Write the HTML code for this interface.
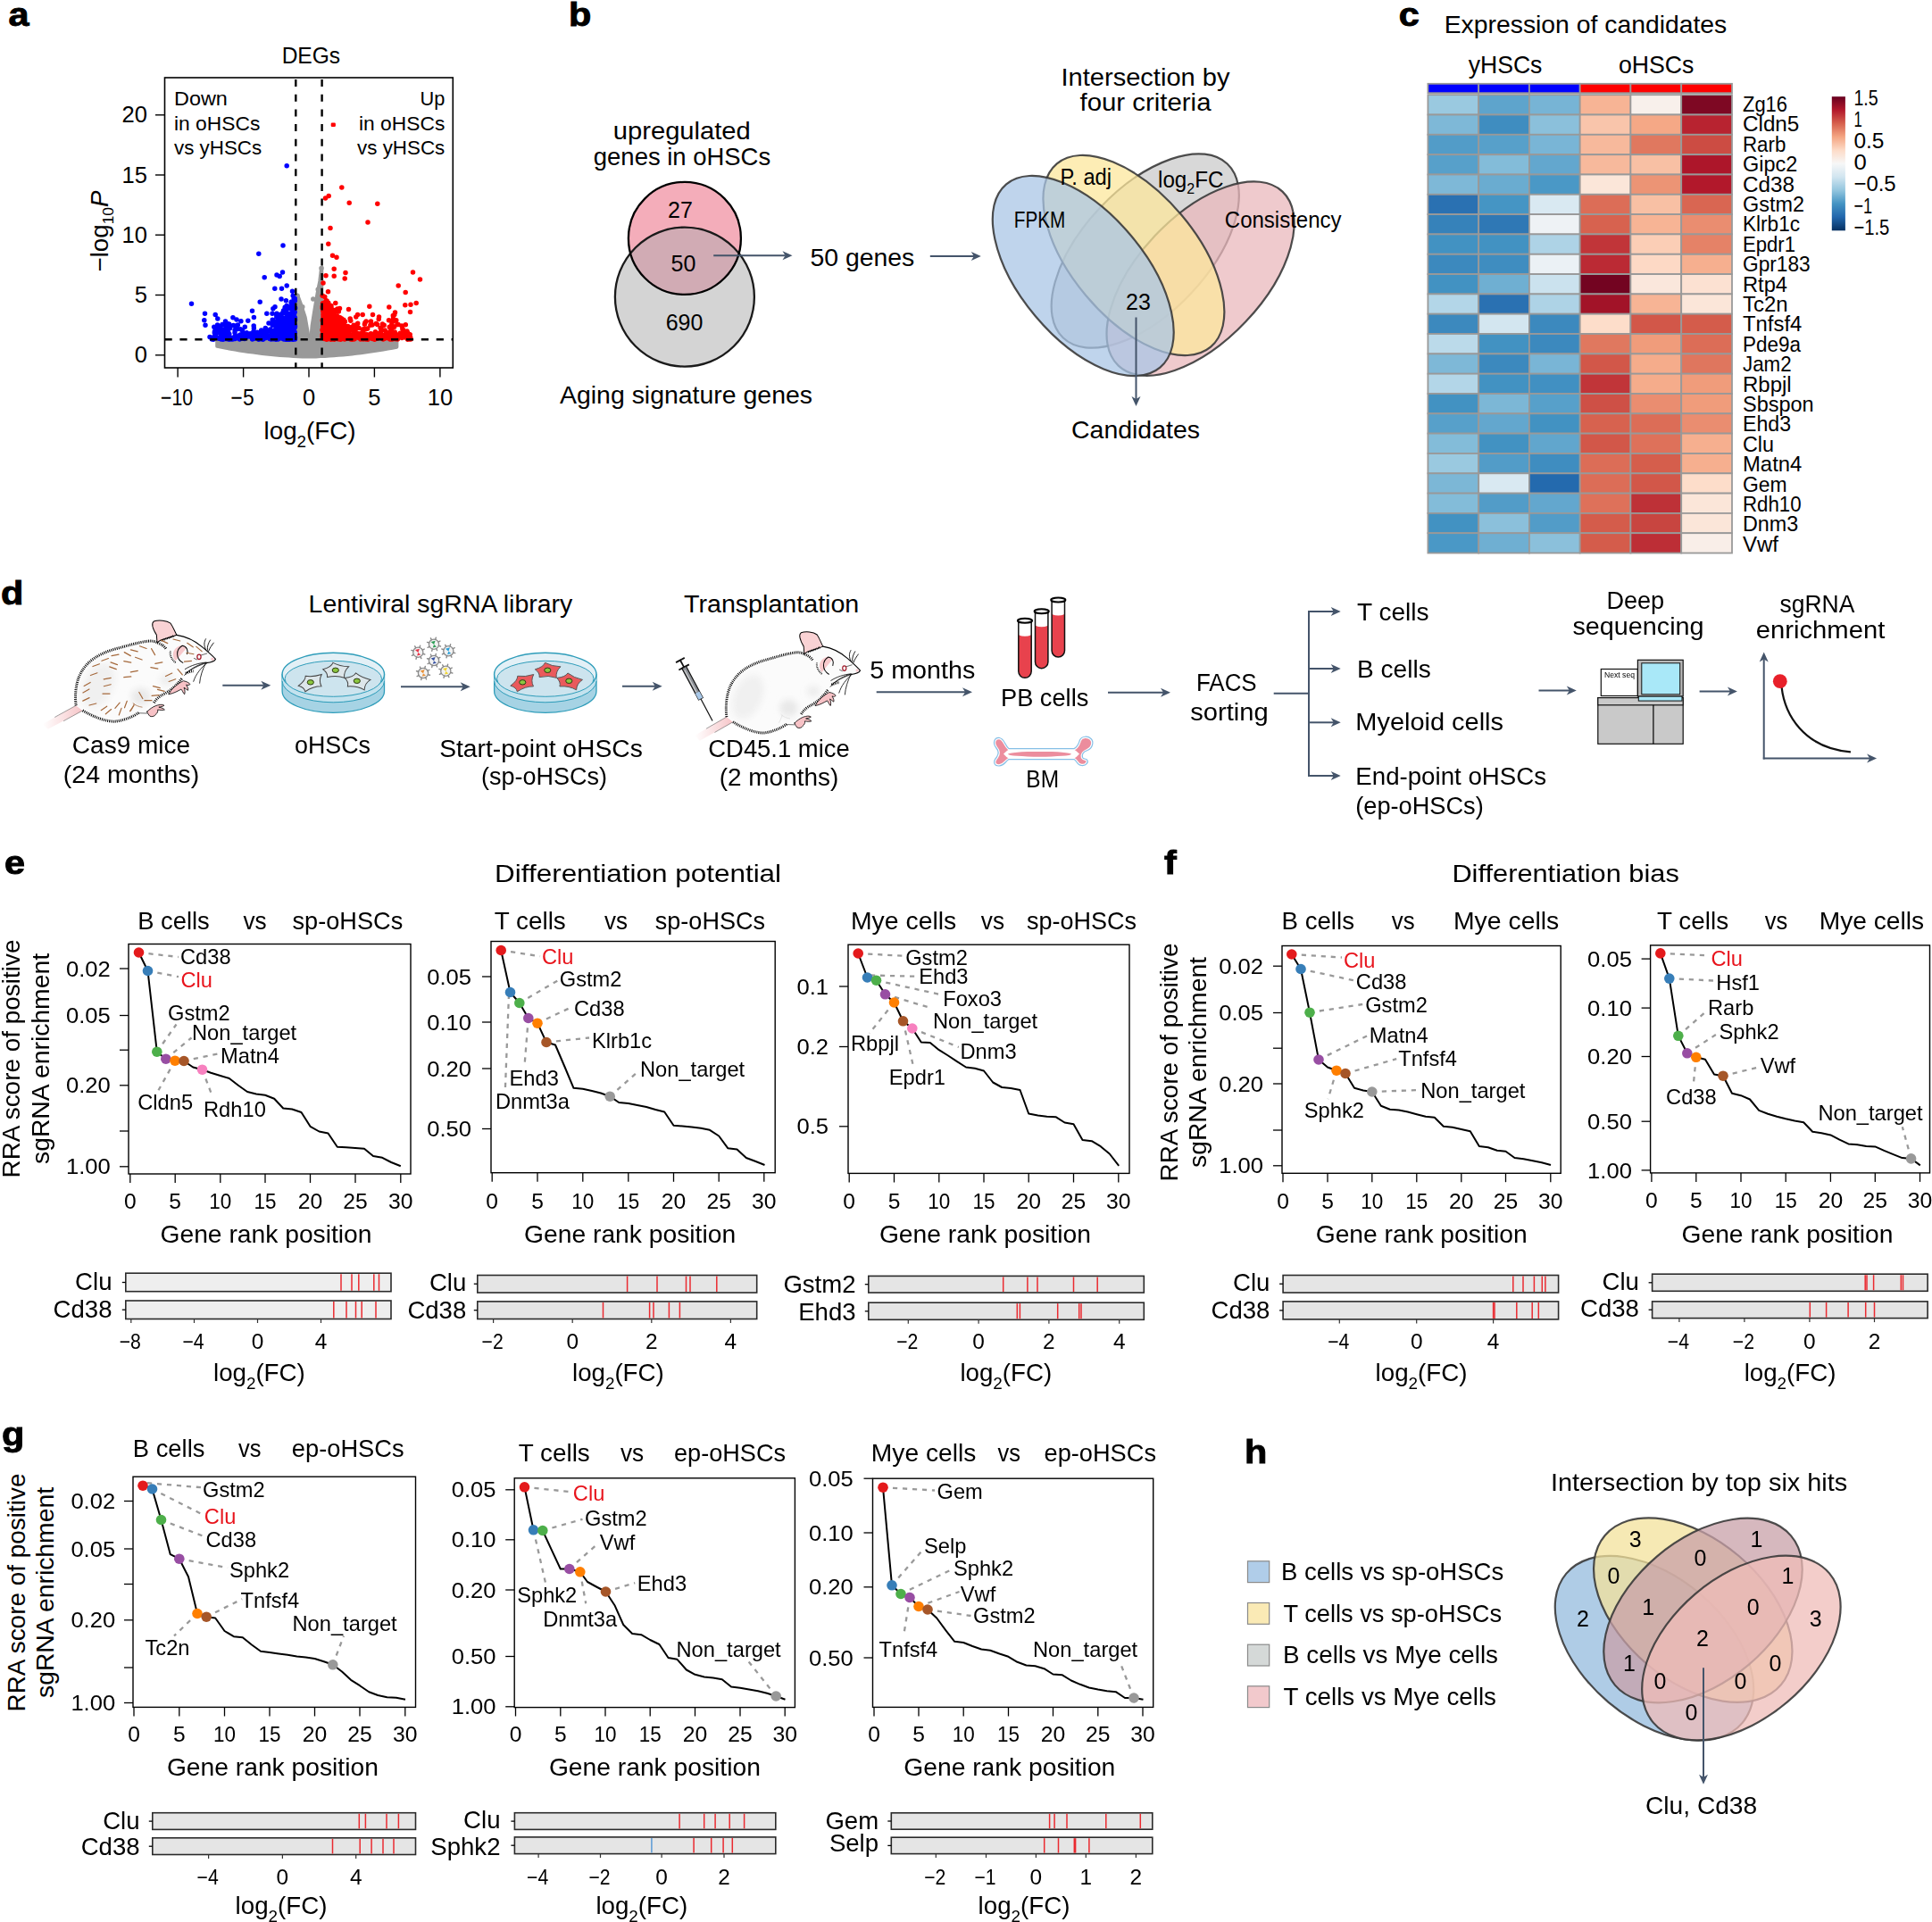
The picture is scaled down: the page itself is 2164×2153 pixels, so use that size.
<!DOCTYPE html>
<html><head><meta charset="utf-8"><title>Figure</title>
<style>html,body{margin:0;padding:0;background:#fff}svg{display:block}text{font-family:"Liberation Sans",sans-serif;fill:#000}</style></head>
<body>
<svg width="2164" height="2153" viewBox="0 0 2164 2153">
<rect width="2164" height="2153" fill="#fff"/>
<g id="panel_a">
<text x="9.5" y="29.0" font-size="36" textLength="23.0" lengthAdjust="spacingAndGlyphs" font-weight="bold" stroke="#000" stroke-width="0.9">a</text>
<text x="348.4" y="70.5" font-size="26.7" textLength="65.5" lengthAdjust="spacingAndGlyphs" text-anchor="middle">DEGs</text>
<path d="M243.2 380.0L248.2 380.0L253.2 380.0L258.3 380.0L263.3 380.0L268.3 380.0L273.4 380.0L278.4 380.0L283.4 380.0L288.5 380.0L293.5 380.0L298.5 380.0L303.5 380.0L308.6 380.0L313.6 380.0L318.6 380.0L323.7 380.0L328.7 380.0L333.7 380.0L338.8 380.0L343.8 380.0L348.8 380.0L353.9 380.0L358.9 380.0L363.9 380.0L369.0 380.0L374.0 380.0L379.0 380.0L384.0 380.0L389.1 380.0L394.1 380.0L399.1 380.0L404.2 380.0L409.2 380.0L414.2 380.0L419.3 380.0L424.3 380.0L429.3 380.0L434.4 380.0L439.4 380.0L444.4 380.0L444.4 388.8L439.4 389.7L434.4 390.6L429.3 391.5L424.3 392.3L419.3 393.1L414.2 393.8L409.2 394.5L404.2 395.2L399.1 395.8L394.1 396.4L389.1 396.9L384.0 397.4L379.0 397.8L374.0 398.2L369.0 398.6L363.9 398.9L358.9 399.1L353.9 399.4L348.8 399.5L343.8 399.6L338.8 399.4L333.7 399.2L328.7 398.9L323.7 398.6L318.6 398.3L313.6 397.9L308.6 397.4L303.5 397.0L298.5 396.4L293.5 395.9L288.5 395.3L283.4 394.6L278.4 393.9L273.4 393.2L268.3 392.4L263.3 391.6L258.3 390.7L253.2 389.8L248.2 388.9L243.2 387.9Z" fill="#999" stroke="#999" stroke-width="4" stroke-linejoin="round"/>
<path d="M331.2 380.5L331.2 331.2L333.8 330.0L337.5 340.0L342.5 355.5L345.5 372.5L346.5 380.5Z" fill="#999" stroke="#999" stroke-width="2.5" stroke-linejoin="round"/>
<path d="M347.5 380.5L348.8 365.0L352.0 345.0L355.0 327.5L357.5 315.0L359.2 301.2L361.0 298.8L361.0 380.5Z" fill="#999" stroke="#999" stroke-width="2.5" stroke-linejoin="round"/>
<path d="M350.8 335.0h0M356.2 324.2h0M360.0 300.5h0M333.0 331.2h0M335.0 343.8h0M338.8 343.8h0" stroke="#999" stroke-width="5.5" stroke-linecap="round" fill="none"/>
<path d="M327.4 359.0h0M324.2 378.7h0M319.0 379.1h0M327.9 366.0h0M317.6 378.8h0M327.5 378.3h0M309.8 377.6h0M319.9 375.2h0M309.5 362.9h0M308.8 370.1h0M326.8 340.8h0M330.0 373.4h0M326.7 372.8h0M325.7 346.1h0M323.6 359.7h0M315.6 370.9h0M326.3 379.0h0M329.2 375.6h0M325.0 372.7h0M318.6 362.5h0M320.5 348.4h0M327.5 356.0h0M330.0 365.2h0M322.3 377.7h0M330.3 366.7h0M323.4 379.5h0M320.1 363.1h0M324.9 362.8h0M314.8 368.0h0M314.5 367.3h0M305.2 358.3h0M312.6 359.2h0M326.1 370.4h0M321.4 358.0h0M316.8 376.6h0M328.6 377.8h0M310.7 377.5h0M322.8 374.5h0M311.0 378.6h0M314.6 368.2h0M305.9 345.7h0M322.7 373.7h0M320.4 336.8h0M324.6 377.0h0M326.5 374.9h0M322.5 366.9h0M322.3 380.2h0M325.4 369.3h0M318.8 356.6h0M313.3 357.5h0M328.9 379.1h0M317.8 370.2h0M325.9 360.0h0M327.1 379.0h0M322.8 376.7h0M327.1 371.9h0M330.3 377.0h0M330.5 378.1h0M328.7 338.4h0M328.4 361.1h0M324.9 371.7h0M322.9 371.1h0M313.6 367.6h0M325.3 378.1h0M330.0 371.8h0M328.4 376.7h0M307.2 379.8h0M316.0 377.1h0M325.9 364.5h0M328.0 340.1h0M327.4 371.0h0M321.4 376.6h0M328.5 349.8h0M315.3 372.2h0M322.0 375.1h0M311.9 365.6h0M328.7 379.7h0M328.2 373.7h0M311.4 368.3h0M316.3 371.1h0M328.9 375.8h0M321.8 375.7h0M311.7 358.9h0M329.0 358.5h0M326.4 367.1h0M310.2 376.3h0M327.8 347.7h0M322.9 354.2h0M327.4 377.0h0M312.0 358.7h0M321.3 377.4h0M317.9 380.0h0M312.8 365.2h0M320.4 374.4h0M328.1 362.5h0M321.6 374.2h0M327.4 371.5h0M315.2 365.3h0M330.4 379.9h0M323.2 380.2h0M327.7 347.9h0M323.9 354.2h0M318.1 363.9h0M323.6 363.9h0M317.2 349.3h0M318.0 374.5h0M320.7 373.7h0M328.5 363.6h0M315.9 351.5h0M319.1 361.1h0M323.5 366.1h0M311.4 368.1h0M329.1 364.9h0M326.5 338.1h0M321.5 363.7h0M326.9 377.6h0M324.8 368.5h0M322.3 378.7h0M326.5 357.9h0M324.9 376.9h0M310.3 375.3h0M318.5 366.8h0M326.9 368.9h0M324.1 365.6h0M326.2 372.5h0M323.6 354.4h0M314.8 368.6h0M328.6 379.9h0M322.0 365.8h0M315.4 378.9h0M328.5 378.0h0M330.2 349.8h0M327.0 373.9h0M321.1 345.8h0M323.5 363.2h0M328.9 379.1h0M325.4 356.8h0M328.4 360.0h0M328.9 341.1h0M325.6 378.9h0M321.6 371.9h0M320.1 364.0h0M321.7 377.5h0M326.2 365.2h0M330.1 376.7h0M324.6 379.2h0M327.4 372.9h0M320.3 351.5h0M326.9 376.3h0M316.3 371.7h0M321.2 380.0h0M329.5 353.6h0M322.9 367.3h0M312.5 368.8h0M316.3 366.5h0M324.2 366.0h0M319.8 356.8h0M319.2 344.2h0M329.3 355.5h0M322.2 371.6h0M321.0 379.1h0M327.3 353.0h0M327.1 374.3h0M327.9 343.1h0M326.1 339.0h0M325.7 374.7h0M321.7 373.3h0M323.5 368.4h0M328.7 374.1h0M322.6 374.6h0M320.1 371.4h0M328.3 380.2h0M320.1 366.2h0M321.0 375.7h0M329.3 374.1h0M330.5 378.4h0M327.6 379.8h0M328.4 372.9h0M328.8 365.1h0M314.1 352.3h0M314.0 372.3h0M323.5 354.3h0M329.9 359.5h0M324.1 353.6h0M328.0 365.3h0M324.3 366.1h0M319.1 344.9h0M311.1 362.6h0M315.8 356.4h0M318.8 375.0h0M324.0 371.2h0M329.3 378.0h0M322.4 360.3h0M316.9 360.4h0M324.5 380.2h0M317.5 348.0h0M330.4 364.8h0M315.8 358.5h0M311.9 374.4h0M322.3 378.7h0M328.6 375.6h0M310.5 353.1h0M316.2 370.5h0M328.4 367.1h0M322.0 360.9h0M311.1 359.5h0M324.3 374.4h0M327.3 352.8h0M325.2 380.0h0M315.3 379.0h0M328.4 356.5h0M312.1 357.5h0M326.8 367.7h0M316.0 367.6h0M311.1 375.8h0M328.4 367.9h0M329.7 345.7h0M317.2 374.0h0M327.9 375.5h0M322.5 362.7h0M327.7 377.2h0M325.9 345.6h0M329.1 334.3h0M327.8 380.2h0M330.3 366.6h0M320.5 377.2h0M327.4 371.8h0M320.9 380.2h0M309.8 355.1h0M321.6 362.3h0M322.1 373.8h0M320.4 379.3h0M311.6 373.5h0M330.5 365.8h0M320.8 376.0h0M308.3 360.2h0M305.2 364.2h0M315.2 354.6h0M311.3 368.2h0M324.4 352.1h0M324.3 379.3h0M320.7 371.8h0M320.5 373.1h0M328.2 374.2h0M325.6 370.1h0M315.4 376.6h0M323.3 375.3h0M307.3 377.2h0M328.6 371.8h0M325.5 378.3h0M329.9 363.3h0M319.6 365.3h0M323.9 370.7h0M328.2 373.7h0M320.2 360.2h0M329.3 370.0h0M321.2 368.4h0M323.7 379.6h0M323.9 367.3h0M304.9 362.4h0M330.6 345.0h0M310.0 374.5h0M304.2 377.9h0M322.0 357.1h0M327.4 351.1h0M312.8 367.9h0M327.2 349.5h0M329.4 374.9h0M314.8 373.0h0M321.9 377.5h0M330.4 356.1h0M312.8 377.9h0M316.8 362.6h0M324.1 370.4h0M327.8 380.1h0M313.9 373.0h0M321.2 355.7h0M329.7 366.3h0M328.1 357.6h0M322.1 358.1h0M330.1 371.9h0M327.3 369.3h0M327.2 348.1h0M323.0 353.2h0M330.3 372.7h0M326.7 375.2h0M322.4 351.4h0M322.0 366.5h0M328.4 358.2h0M323.0 375.4h0M328.0 379.0h0M327.4 370.2h0M309.8 353.6h0M320.4 376.1h0M330.5 358.2h0M327.4 370.7h0M322.7 376.5h0M322.6 380.2h0M319.2 377.6h0M322.3 371.4h0M328.7 345.5h0M324.8 379.2h0M318.6 367.3h0M311.0 375.9h0M310.5 371.1h0M328.1 369.6h0M328.7 346.6h0M330.2 379.5h0M327.0 379.0h0M322.1 352.5h0M326.2 360.9h0M328.3 373.8h0M319.9 380.2h0M329.6 360.0h0M321.6 367.3h0M318.7 374.4h0M327.1 368.9h0M329.4 347.5h0M328.9 350.4h0M307.4 361.4h0M325.4 371.2h0M320.9 349.5h0M323.3 352.1h0M326.6 374.5h0M327.6 364.0h0M329.3 372.3h0M327.4 374.1h0M325.7 366.3h0M327.7 355.3h0M322.0 369.4h0M327.6 360.7h0M321.1 342.4h0M312.2 358.2h0M313.2 373.2h0M314.1 363.4h0M316.3 375.8h0M315.9 374.5h0M330.4 336.8h0M323.4 362.8h0M319.5 366.0h0M327.9 358.9h0M319.2 345.8h0M322.1 343.2h0M327.5 373.3h0M328.7 377.7h0M318.1 362.6h0M313.2 368.2h0M312.6 374.2h0M325.3 378.0h0M324.2 371.0h0M324.6 377.2h0M327.8 361.8h0M321.4 359.0h0M330.0 372.3h0M328.8 357.4h0M326.3 375.7h0M320.7 348.3h0M326.3 378.1h0M329.2 370.1h0M313.6 378.3h0M325.1 376.7h0M326.3 373.5h0M318.5 372.8h0M320.2 363.4h0M327.4 371.3h0M318.1 371.1h0M324.0 375.7h0M311.5 380.1h0M319.9 345.6h0M323.0 369.7h0M320.3 376.7h0M321.3 380.0h0M324.9 378.4h0M321.9 366.1h0M322.2 377.1h0M315.8 377.9h0M329.2 375.8h0M309.2 367.0h0M303.7 370.4h0M327.2 349.2h0M324.0 375.2h0M316.9 375.3h0M318.4 370.5h0M321.7 377.6h0M330.2 334.3h0M310.5 379.4h0M311.2 379.5h0M322.6 343.5h0M318.1 364.2h0M319.2 360.4h0M326.1 362.6h0M318.3 369.1h0M323.2 368.6h0M319.2 379.8h0M320.0 374.9h0M320.7 351.2h0M328.0 376.3h0M317.0 367.3h0M245.2 379.2h0M268.9 379.6h0M269.8 375.0h0M240.3 372.8h0M243.3 370.5h0M294.4 375.0h0M241.3 375.1h0M265.0 358.0h0M247.3 365.9h0M310.5 370.5h0M297.2 378.7h0M309.4 375.3h0M307.6 361.9h0M249.4 368.8h0M305.6 379.8h0M263.1 369.8h0M249.0 363.5h0M257.5 367.8h0M247.8 375.1h0M304.9 378.5h0M256.6 375.0h0M260.7 380.0h0M250.7 379.0h0M306.1 371.8h0M303.1 378.9h0M294.9 379.4h0M276.3 372.8h0M263.7 365.0h0M278.1 373.8h0M302.1 379.4h0M310.2 372.9h0M266.3 368.4h0M279.7 377.0h0M293.5 375.9h0M250.3 370.2h0M240.8 367.6h0M255.9 372.7h0M309.6 373.7h0M286.0 377.5h0M237.4 380.0h0M248.3 373.2h0M269.0 374.9h0M303.1 379.2h0M254.0 372.4h0M238.9 380.2h0M263.4 379.4h0M263.5 378.4h0M280.2 373.7h0M252.3 373.0h0M272.2 379.2h0M306.1 378.2h0M248.3 379.5h0M284.2 365.1h0M294.7 376.5h0M256.7 380.2h0M284.7 374.2h0M263.0 372.6h0M269.9 359.8h0M291.2 378.2h0M303.7 379.9h0M276.3 376.4h0M254.8 379.8h0M294.5 380.2h0M277.8 359.3h0M247.7 378.6h0M282.0 375.0h0M284.4 367.8h0M250.1 377.5h0M259.3 379.9h0M302.6 369.0h0M289.8 380.2h0M299.3 370.2h0M271.5 370.2h0M270.5 378.4h0M245.0 378.3h0M240.1 377.2h0M292.4 371.5h0M299.4 371.1h0M256.8 374.3h0M269.3 368.8h0M275.7 378.0h0M284.4 355.4h0M253.2 364.6h0M238.4 378.0h0M254.6 370.2h0M306.7 370.1h0M261.3 364.6h0M261.4 378.2h0M304.0 372.9h0M288.2 372.2h0M309.2 375.6h0M299.0 371.4h0M300.3 376.0h0M290.5 374.0h0M259.9 378.5h0M283.0 379.7h0M304.2 379.1h0M239.3 379.4h0M305.5 377.1h0M247.7 380.0h0M240.4 371.5h0M283.9 371.4h0M291.4 379.8h0M280.7 376.9h0M297.3 367.6h0M302.8 379.8h0M301.0 362.1h0M306.7 379.4h0M252.4 379.4h0M239.8 366.3h0M296.9 372.8h0M297.9 372.9h0M258.4 379.5h0M244.5 369.8h0M252.4 377.4h0M268.4 380.1h0M256.1 377.8h0M289.9 376.9h0M260.9 355.7h0M274.3 366.2h0M282.7 380.0h0M267.6 376.0h0M294.1 377.1h0M289.1 374.6h0M253.2 365.6h0M244.0 367.6h0M249.8 380.3h0M252.1 369.6h0M309.1 380.2h0M273.3 375.3h0M295.8 378.8h0M273.6 377.1h0M298.4 378.0h0M306.6 377.8h0M253.1 371.4h0M273.9 379.4h0M284.0 379.6h0M295.2 371.4h0M295.1 373.0h0M263.4 376.5h0M266.3 363.9h0M243.6 364.0h0M239.1 378.6h0M256.6 363.1h0M274.1 376.7h0M302.2 378.3h0M271.1 374.7h0M292.7 369.9h0M284.8 377.1h0M321.2 185.8h0M317.0 275.0h0M289.8 284.2h0M316.5 305.0h0M310.0 308.0h0M313.2 309.5h0M296.2 310.8h0M321.2 320.0h0M307.8 323.2h0M315.5 323.2h0M327.5 326.2h0M328.2 331.2h0M291.2 338.2h0M214.5 340.2h0M315.0 335.0h0M308.0 343.8h0M282.5 348.2h0M229.5 351.2h0M241.2 352.5h0M298.8 351.2h0M305.0 351.2h0M310.0 351.2h0M228.8 358.8h0M230.0 364.2h0M243.8 357.0h0M252.5 360.0h0M255.0 362.5h0M235.0 377.5h0M243.8 365.0h0M245.0 372.5h0" stroke="#0000ff" stroke-width="5.5" stroke-linecap="round" fill="none"/>
<path d="M365.3 342.9h0M369.3 358.4h0M361.5 368.6h0M370.8 350.3h0M368.4 367.8h0M365.0 336.6h0M361.8 373.0h0M371.5 355.8h0M366.2 376.8h0M368.8 374.5h0M370.1 376.7h0M378.4 372.2h0M377.3 353.9h0M401.8 378.1h0M368.3 370.5h0M368.3 368.7h0M386.2 375.9h0M366.0 375.6h0M366.8 370.3h0M364.4 366.3h0M373.1 377.2h0M374.3 361.6h0M376.0 363.1h0M361.1 375.0h0M377.9 354.4h0M381.3 356.0h0M372.2 372.7h0M374.8 360.3h0M374.8 349.5h0M370.7 355.1h0M369.4 369.2h0M369.9 368.0h0M373.0 357.6h0M370.6 349.9h0M382.5 370.3h0M363.8 364.5h0M384.9 365.5h0M378.0 364.6h0M373.5 354.8h0M362.7 369.6h0M371.5 357.0h0M364.5 370.2h0M369.2 371.4h0M373.1 370.0h0M365.5 380.0h0M375.7 356.1h0M369.2 371.5h0M362.1 353.0h0M372.2 347.6h0M362.9 370.2h0M363.0 350.0h0M369.2 346.8h0M373.1 363.6h0M374.6 375.1h0M375.7 359.7h0M364.4 345.8h0M368.3 373.2h0M377.6 364.2h0M382.6 371.4h0M369.8 369.1h0M369.7 376.1h0M386.8 373.6h0M361.4 374.6h0M366.9 369.0h0M378.5 359.8h0M361.2 358.7h0M361.0 377.2h0M368.5 374.9h0M363.4 376.9h0M377.8 361.4h0M378.6 356.5h0M387.1 368.6h0M366.1 337.0h0M372.9 374.9h0M365.3 377.2h0M366.6 367.6h0M361.2 377.1h0M379.9 364.6h0M362.0 340.2h0M391.9 367.5h0M362.3 363.6h0M376.7 370.8h0M387.7 369.3h0M367.2 359.8h0M362.6 359.9h0M382.8 357.1h0M383.1 365.8h0M401.0 366.9h0M386.1 360.5h0M366.4 371.9h0M370.9 367.3h0M372.8 365.2h0M362.4 368.7h0M372.0 369.2h0M389.5 373.3h0M371.1 344.8h0M376.7 373.9h0M371.9 366.0h0M364.7 372.6h0M367.5 359.9h0M366.7 364.4h0M394.1 379.2h0M361.5 376.0h0M379.3 348.9h0M375.9 361.2h0M377.8 356.2h0M376.2 362.0h0M365.7 358.1h0M371.1 367.9h0M361.6 376.2h0M368.4 379.5h0M366.5 358.8h0M365.7 374.2h0M381.2 373.0h0M373.5 368.9h0M367.7 359.6h0M365.9 363.4h0M363.2 379.5h0M382.6 363.0h0M363.6 370.4h0M361.9 362.2h0M378.3 369.5h0M379.6 375.5h0M374.9 376.9h0M362.6 357.0h0M361.1 377.6h0M367.8 339.2h0M362.4 377.5h0M386.6 374.7h0M363.9 353.6h0M363.0 350.3h0M365.8 355.0h0M377.1 378.5h0M381.6 360.3h0M378.4 374.4h0M386.0 380.0h0M366.7 380.0h0M378.4 378.6h0M385.2 372.7h0M362.2 340.5h0M370.6 366.8h0M375.4 363.0h0M366.7 368.6h0M365.0 348.1h0M369.1 371.2h0M375.0 369.3h0M379.0 370.4h0M369.8 349.3h0M377.2 372.1h0M388.4 372.8h0M391.5 370.7h0M375.7 357.0h0M381.5 380.2h0M362.4 362.4h0M377.9 346.1h0M390.5 346.6h0M369.0 363.1h0M365.7 347.1h0M392.2 357.0h0M364.9 364.0h0M366.6 348.1h0M386.6 374.9h0M380.0 367.6h0M376.1 375.6h0M361.8 348.6h0M387.9 367.8h0M376.3 362.8h0M387.8 365.4h0M381.3 367.2h0M369.8 376.0h0M366.6 376.2h0M365.6 363.5h0M375.6 369.9h0M370.1 379.3h0M366.4 360.1h0M366.4 349.0h0M373.1 371.7h0M379.1 365.5h0M361.5 339.7h0M381.8 374.1h0M362.8 349.8h0M361.1 375.7h0M365.5 376.2h0M365.5 363.8h0M363.6 339.0h0M371.1 361.9h0M365.9 374.3h0M370.1 357.9h0M374.8 376.8h0M372.4 379.5h0M361.6 374.3h0M388.9 379.3h0M366.7 359.3h0M369.5 351.9h0M367.0 362.2h0M373.2 351.6h0M372.3 374.3h0M369.8 377.6h0M370.7 374.8h0M362.1 377.1h0M362.1 354.8h0M363.3 375.9h0M397.1 375.2h0M383.7 377.2h0M386.1 368.3h0M382.2 368.1h0M377.1 367.2h0M386.4 360.3h0M368.1 379.1h0M369.9 355.0h0M364.0 369.6h0M368.2 343.3h0M371.6 372.0h0M370.3 372.5h0M361.7 375.5h0M374.1 374.3h0M362.9 375.7h0M368.7 354.1h0M373.1 379.9h0M365.8 380.2h0M368.5 344.2h0M371.2 368.7h0M368.9 376.3h0M364.8 350.6h0M363.5 378.6h0M371.4 378.4h0M375.7 373.8h0M372.9 375.6h0M377.4 375.7h0M385.0 369.7h0M371.5 354.5h0M388.7 372.0h0M371.0 343.1h0M373.4 380.0h0M369.8 376.1h0M370.1 344.3h0M367.5 370.9h0M368.1 362.0h0M380.5 368.4h0M361.6 365.6h0M379.6 346.1h0M378.6 372.5h0M364.8 352.2h0M376.4 379.0h0M388.9 366.5h0M389.7 365.7h0M380.7 379.8h0M362.7 378.1h0M371.1 374.4h0M362.6 378.2h0M364.6 356.0h0M362.0 361.8h0M363.9 362.9h0M385.9 378.1h0M364.6 339.2h0M362.0 377.6h0M365.8 366.5h0M374.1 377.6h0M361.0 369.8h0M377.4 363.1h0M361.2 345.0h0M371.8 370.1h0M387.1 371.9h0M371.1 374.7h0M375.9 347.3h0M373.4 379.2h0M389.7 365.6h0M397.4 374.5h0M370.9 369.2h0M371.3 365.0h0M372.4 378.8h0M378.5 379.8h0M368.8 377.2h0M366.3 360.0h0M366.6 364.5h0M369.9 365.4h0M369.5 368.8h0M373.7 372.9h0M365.0 359.2h0M375.9 365.7h0M363.1 364.9h0M379.0 377.0h0M367.1 373.3h0M367.0 369.7h0M363.9 378.4h0M372.7 364.3h0M372.8 363.2h0M379.7 359.1h0M368.7 367.8h0M385.2 364.2h0M374.8 372.8h0M372.8 374.7h0M364.4 370.5h0M380.0 362.5h0M362.1 363.9h0M361.7 373.2h0M362.3 378.9h0M375.8 368.6h0M367.1 353.4h0M368.3 353.2h0M369.3 371.5h0M373.1 357.6h0M362.1 349.3h0M379.3 355.4h0M365.3 351.0h0M370.7 363.1h0M374.9 370.6h0M378.1 354.4h0M366.3 373.3h0M376.9 370.5h0M374.0 372.4h0M368.2 366.3h0M391.6 368.4h0M366.5 377.1h0M373.6 363.0h0M364.4 372.4h0M386.7 375.7h0M392.8 380.0h0M376.8 379.3h0M368.5 350.3h0M374.8 365.6h0M367.3 371.3h0M375.7 362.0h0M392.6 378.2h0M372.5 363.6h0M372.6 363.0h0M391.4 366.8h0M389.6 368.6h0M401.7 377.9h0M380.5 345.6h0M368.4 365.8h0M372.1 366.1h0M364.9 360.2h0M370.5 361.6h0M364.2 356.6h0M374.4 380.2h0M371.4 362.5h0M381.5 374.0h0M361.3 359.3h0M371.8 369.6h0M367.8 351.5h0M367.5 378.0h0M369.0 365.4h0M366.8 345.3h0M383.2 379.0h0M380.1 380.0h0M362.8 354.9h0M375.1 371.5h0M367.2 378.2h0M371.3 370.4h0M375.3 379.1h0M374.5 368.6h0M369.9 379.4h0M372.1 373.0h0M393.8 366.5h0M385.6 374.7h0M380.8 375.2h0M377.4 372.8h0M374.2 348.5h0M374.1 374.6h0M368.0 376.1h0M366.2 377.8h0M381.1 364.9h0M373.3 378.9h0M371.8 377.6h0M367.9 374.6h0M374.3 376.0h0M363.5 379.5h0M372.6 358.2h0M366.1 355.6h0M368.9 378.3h0M364.8 377.5h0M391.4 368.4h0M376.1 376.8h0M386.0 371.5h0M376.5 375.6h0M379.2 375.1h0M366.8 368.1h0M378.2 374.2h0M369.2 361.4h0M369.9 375.4h0M366.7 365.7h0M366.9 364.5h0M364.5 370.5h0M367.0 378.4h0M375.9 376.3h0M369.4 358.3h0M372.4 377.9h0M375.1 366.3h0M366.8 373.2h0M373.8 375.1h0M366.6 377.5h0M363.7 369.8h0M384.8 377.4h0M382.6 373.7h0M384.9 358.3h0M365.5 371.5h0M381.2 356.0h0M373.4 374.5h0M369.6 360.3h0M373.3 376.2h0M384.6 379.4h0M370.3 375.8h0M363.4 373.0h0M364.3 372.8h0M364.1 359.7h0M374.2 363.2h0M383.5 371.6h0M370.7 380.2h0M375.1 373.5h0M385.1 379.4h0M374.4 379.3h0M378.5 374.6h0M382.9 375.5h0M382.3 370.2h0M373.8 352.5h0M367.2 378.4h0M366.1 356.1h0M362.6 369.0h0M398.0 377.5h0M363.7 351.3h0M367.8 364.3h0M383.6 364.4h0M365.4 374.5h0M375.1 369.6h0M366.5 375.7h0M364.2 355.5h0M369.1 357.9h0M361.9 365.7h0M373.0 368.4h0M374.8 373.1h0M366.6 351.4h0M372.6 361.8h0M381.9 367.8h0M364.1 377.8h0M391.3 373.4h0M368.0 379.0h0M369.4 373.6h0M369.2 368.3h0M384.7 377.8h0M369.2 371.2h0M377.2 376.6h0M362.0 352.3h0M373.9 363.5h0M375.5 368.8h0M372.8 376.0h0M361.5 359.4h0M388.2 374.6h0M363.4 350.2h0M363.9 343.3h0M364.0 359.8h0M370.9 342.6h0M369.8 349.3h0M365.3 344.5h0M361.7 376.1h0M374.8 371.0h0M381.2 360.3h0M366.3 345.7h0M368.5 362.7h0M372.4 378.6h0M364.7 368.5h0M364.9 368.6h0M363.4 376.0h0M361.2 343.2h0M362.2 341.3h0M364.9 373.5h0M377.5 358.4h0M377.8 371.9h0M362.5 368.6h0M387.1 373.2h0M380.5 371.6h0M368.3 375.9h0M373.3 367.8h0M382.5 379.0h0M381.2 357.5h0M371.5 363.2h0M384.1 373.1h0M363.8 371.8h0M363.9 376.0h0M363.5 357.4h0M367.4 358.5h0M363.2 370.9h0M375.6 365.0h0M369.1 363.5h0M367.3 376.2h0M385.5 374.4h0M381.8 378.3h0M373.1 366.7h0M363.3 364.0h0M364.1 377.8h0M381.8 365.7h0M366.6 369.7h0M364.5 378.7h0M372.9 351.7h0M380.5 363.6h0M443.5 379.8h0M402.3 376.5h0M385.4 373.0h0M400.5 377.4h0M438.2 375.8h0M452.1 372.4h0M450.8 373.6h0M454.3 363.8h0M397.0 369.2h0M410.3 368.6h0M436.2 366.2h0M393.6 376.5h0M440.5 356.4h0M439.3 379.9h0M430.3 379.4h0M426.1 367.2h0M392.8 359.3h0M435.8 377.9h0M398.9 375.5h0M448.2 373.2h0M392.9 380.1h0M392.6 367.2h0M398.3 373.7h0M406.3 370.9h0M413.3 379.0h0M451.1 374.0h0M436.9 366.9h0M456.7 380.2h0M410.3 378.9h0M422.5 363.6h0M445.3 380.0h0M398.1 366.5h0M436.1 376.2h0M420.5 378.9h0M448.8 376.2h0M450.9 372.6h0M390.0 377.0h0M400.7 362.2h0M429.2 379.9h0M397.2 376.7h0M419.9 373.3h0M413.8 376.7h0M384.7 373.3h0M409.7 380.1h0M387.7 379.0h0M435.4 377.7h0M405.1 374.7h0M404.2 373.5h0M424.5 354.9h0M460.0 380.0h0M427.0 368.4h0M450.8 368.3h0M432.6 372.1h0M411.9 377.6h0M444.9 363.6h0M455.9 371.0h0M407.4 368.6h0M440.7 374.5h0M432.7 376.8h0M426.3 376.1h0M388.8 376.9h0M421.0 376.6h0M402.8 378.1h0M410.9 379.1h0M384.7 363.7h0M418.8 375.5h0M427.6 377.4h0M397.1 379.7h0M407.2 377.3h0M439.7 373.8h0M455.8 376.9h0M454.6 373.2h0M390.3 378.7h0M411.5 368.2h0M416.9 363.9h0M389.4 374.9h0M452.9 377.7h0M403.9 380.1h0M396.8 377.7h0M438.0 378.3h0M414.7 378.5h0M430.2 364.2h0M433.7 378.5h0M440.3 353.6h0M430.1 379.6h0M446.0 363.5h0M410.3 379.1h0M398.6 374.1h0M451.1 372.0h0M454.7 378.3h0M409.2 369.1h0M433.8 376.1h0M436.1 376.9h0M388.6 375.9h0M387.7 372.3h0M409.7 374.8h0M429.9 377.9h0M419.6 380.2h0M454.9 373.6h0M459.6 379.8h0M431.1 369.9h0M409.3 379.5h0M396.1 379.0h0M442.8 379.5h0M446.4 375.8h0M425.3 373.1h0M426.6 371.6h0M430.1 377.0h0M440.8 377.9h0M438.5 368.6h0M443.5 377.3h0M418.8 377.6h0M424.2 357.4h0M394.3 380.2h0M420.5 371.7h0M443.3 376.6h0M459.8 378.2h0M442.0 379.5h0M386.3 379.1h0M388.8 374.6h0M426.6 378.6h0M456.0 376.6h0M395.6 378.7h0M440.5 359.7h0M396.6 380.0h0M443.6 378.0h0M459.2 374.7h0M432.8 376.9h0M445.3 375.3h0M408.9 361.4h0M392.4 369.6h0M389.2 371.9h0M414.9 364.2h0M388.8 373.6h0M415.5 360.0h0M456.4 372.3h0M401.3 377.9h0M404.2 375.7h0M401.9 378.4h0M442.2 372.0h0M400.7 373.5h0M396.2 364.2h0M450.6 377.8h0M441.6 366.3h0M405.8 377.0h0M421.3 362.4h0M396.5 371.0h0M429.8 375.4h0M428.4 363.0h0M400.2 362.9h0M411.7 368.1h0M450.1 378.6h0M406.9 380.1h0M384.9 360.7h0M395.7 369.5h0M391.6 378.8h0M436.3 379.5h0M410.1 360.0h0M438.9 363.0h0M459.0 380.0h0M402.1 367.6h0M436.9 380.0h0M422.8 378.1h0M417.1 379.4h0M408.4 363.2h0M393.4 374.9h0M394.6 375.8h0M397.9 370.9h0M395.5 369.4h0M422.4 379.3h0M411.2 374.7h0M454.4 376.8h0M400.6 352.6h0M451.7 369.7h0M405.0 378.7h0M404.4 379.7h0M387.5 374.5h0M415.4 373.7h0M411.9 380.2h0M436.8 371.7h0M425.7 373.8h0M382.8 210.0h0M368.2 219.5h0M364.5 222.0h0M391.2 227.2h0M422.8 228.2h0M412.0 249.0h0M370.0 255.5h0M367.8 273.2h0M372.5 286.2h0M377.0 288.2h0M374.2 301.2h0M387.0 305.5h0M462.5 305.0h0M470.5 313.0h0M365.0 308.8h0M374.2 309.2h0M386.2 312.0h0M362.0 317.0h0M446.2 320.0h0M454.2 327.5h0M367.5 326.8h0M466.2 339.5h0M460.0 341.2h0M453.8 341.8h0M413.8 343.2h0M435.8 344.0h0M375.8 339.5h0M459.5 349.5h0M442.5 350.0h0M441.8 352.5h0M417.5 352.5h0M406.2 352.5h0M398.8 355.0h0M435.5 358.8h0M443.8 358.8h0M361.2 331.2h0M363.8 332.5h0M457.5 375.0h0M450.0 365.0h0" stroke="#ff0000" stroke-width="5.5" stroke-linecap="round" fill="none"/>
<rect x="370.7" y="137.4" width="5.2" height="4.6" fill="#ff0000" rx="1.3"/>
<line x1="331.3" y1="87.0" x2="331.3" y2="412.0" stroke="#000" stroke-width="2.4" stroke-dasharray="8 8.7" stroke-dashoffset="-2"/>
<line x1="360.6" y1="87.0" x2="360.6" y2="412.0" stroke="#000" stroke-width="2.4" stroke-dasharray="8 8.7" stroke-dashoffset="-2"/>
<line x1="184.5" y1="380.2" x2="507.2" y2="380.2" stroke="#000" stroke-width="2.4" stroke-dasharray="8.2 8.7"/>
<rect x="184.5" y="87.0" width="322.8" height="325.0" fill="none" stroke="#000" stroke-width="1.6" />
<line x1="174.0" y1="128.8" x2="184.5" y2="128.8" stroke="#000" stroke-width="1.4" />
<text x="165.0" y="137.3" font-size="25.5" textLength="28.4" lengthAdjust="spacingAndGlyphs" text-anchor="end">20</text>
<line x1="174.0" y1="196.0" x2="184.5" y2="196.0" stroke="#000" stroke-width="1.4" />
<text x="165.0" y="204.6" font-size="25.5" textLength="28.4" lengthAdjust="spacingAndGlyphs" text-anchor="end">15</text>
<line x1="174.0" y1="263.2" x2="184.5" y2="263.2" stroke="#000" stroke-width="1.4" />
<text x="165.0" y="271.9" font-size="25.5" textLength="28.4" lengthAdjust="spacingAndGlyphs" text-anchor="end">10</text>
<line x1="174.0" y1="330.5" x2="184.5" y2="330.5" stroke="#000" stroke-width="1.4" />
<text x="165.0" y="339.1" font-size="25.5" textLength="14.2" lengthAdjust="spacingAndGlyphs" text-anchor="end">5</text>
<line x1="174.0" y1="397.8" x2="184.5" y2="397.8" stroke="#000" stroke-width="1.4" />
<text x="165.0" y="406.4" font-size="25.5" textLength="14.2" lengthAdjust="spacingAndGlyphs" text-anchor="end">0</text>
<line x1="199.1" y1="412.0" x2="199.1" y2="422.5" stroke="#000" stroke-width="1.4" />
<text x="198.1" y="454.0" font-size="25.5" textLength="36.0" lengthAdjust="spacingAndGlyphs" text-anchor="middle">−10</text>
<line x1="272.6" y1="412.0" x2="272.6" y2="422.5" stroke="#000" stroke-width="1.4" />
<text x="271.6" y="454.0" font-size="25.5" textLength="26.0" lengthAdjust="spacingAndGlyphs" text-anchor="middle">−5</text>
<line x1="346.0" y1="412.0" x2="346.0" y2="422.5" stroke="#000" stroke-width="1.4" />
<text x="346.0" y="454.0" font-size="25.5" textLength="14.2" lengthAdjust="spacingAndGlyphs" text-anchor="middle">0</text>
<line x1="419.4" y1="412.0" x2="419.4" y2="422.5" stroke="#000" stroke-width="1.4" />
<text x="419.4" y="454.0" font-size="25.5" textLength="14.2" lengthAdjust="spacingAndGlyphs" text-anchor="middle">5</text>
<line x1="492.9" y1="412.0" x2="492.9" y2="422.5" stroke="#000" stroke-width="1.4" />
<text x="492.9" y="454.0" font-size="25.5" textLength="28.4" lengthAdjust="spacingAndGlyphs" text-anchor="middle">10</text>
<text x="295.6" y="492.0" font-size="27.8" textLength="37.0" lengthAdjust="spacingAndGlyphs">log</text><text x="332.5" y="501.1" font-size="18.9" textLength="10.5" lengthAdjust="spacingAndGlyphs">2</text><text x="343.0" y="492.0" font-size="27.8" textLength="55.4" lengthAdjust="spacingAndGlyphs">(FC)</text>
<g transform="translate(120 304.5) rotate(-90)"><text x="0.0" y="1.0" font-size="27.8" textLength="53.2" lengthAdjust="spacingAndGlyphs">−log</text><text x="53.2" y="7.0" font-size="17.4" textLength="19.3" lengthAdjust="spacingAndGlyphs">10</text><text x="72.5" y="1.0" font-size="27.8" textLength="18.5" lengthAdjust="spacingAndGlyphs" font-style="italic">P</text></g>
<text x="195.0" y="118.4" font-size="21.6" textLength="59.9" lengthAdjust="spacingAndGlyphs">Down</text>
<text x="195.0" y="145.6" font-size="21.6" textLength="96.3" lengthAdjust="spacingAndGlyphs">in oHSCs</text>
<text x="195.0" y="172.8" font-size="21.6" textLength="98.2" lengthAdjust="spacingAndGlyphs">vs yHSCs</text>
<text x="498.3" y="118.4" font-size="21.6" textLength="27.8" lengthAdjust="spacingAndGlyphs" text-anchor="end">Up</text>
<text x="498.3" y="145.6" font-size="21.6" textLength="96.3" lengthAdjust="spacingAndGlyphs" text-anchor="end">in oHSCs</text>
<text x="498.3" y="172.8" font-size="21.6" textLength="98.2" lengthAdjust="spacingAndGlyphs" text-anchor="end">vs yHSCs</text>
</g>
<g id="panel_b">
<text x="637.0" y="29.0" font-size="36" textLength="25.3" lengthAdjust="spacingAndGlyphs" font-weight="bold" stroke="#000" stroke-width="0.9">b</text>
<defs><clipPath id="cpg"><circle cx="766.9" cy="332.6" r="78"/></clipPath></defs>
<circle cx="766.9" cy="332.6" r="78" fill="#d4d4d4"/>
<circle cx="766.9" cy="266.9" r="63" fill="#f4adba"/>
<circle cx="766.9" cy="266.9" r="63" fill="#d1abb4" clip-path="url(#cpg)"/>
<circle cx="766.9" cy="332.6" r="78" fill="none" stroke="#1a1a1a" stroke-width="2.3"/>
<circle cx="766.9" cy="266.9" r="63" fill="none" stroke="#000" stroke-width="2.3"/>
<text x="763.8" y="156.0" font-size="27.5" textLength="154.0" lengthAdjust="spacingAndGlyphs" text-anchor="middle">upregulated</text>
<text x="764.0" y="185.2" font-size="27.5" textLength="198.3" lengthAdjust="spacingAndGlyphs" text-anchor="middle">genes in oHSCs</text>
<text x="762.0" y="243.5" font-size="25.5" textLength="27.8" lengthAdjust="spacingAndGlyphs" text-anchor="middle">27</text>
<text x="765.5" y="304.2" font-size="25.5" textLength="27.8" lengthAdjust="spacingAndGlyphs" text-anchor="middle">50</text>
<text x="766.5" y="369.8" font-size="25.5" textLength="41.7" lengthAdjust="spacingAndGlyphs" text-anchor="middle">690</text>
<text x="627.0" y="452.2" font-size="28.1" textLength="283.0" lengthAdjust="spacingAndGlyphs">Aging signature genes</text>
<text x="907.5" y="297.8" font-size="28.1" textLength="116.8" lengthAdjust="spacingAndGlyphs">50 genes</text>
<line x1="799.2" y1="286.2" x2="879.8" y2="286.2" stroke="#44546a" stroke-width="2"/><path d="M887.5 286.2L876.5 281.2L879.6 286.2L876.5 291.2Z" fill="#44546a"/>
<line x1="1041.8" y1="287.0" x2="1091.0" y2="287.0" stroke="#44546a" stroke-width="2"/><path d="M1098.8 287.0L1087.8 282.0L1090.8 287.0L1087.8 292.0Z" fill="#44546a"/>
<ellipse cx="1282.75" cy="281" rx="134" ry="70" transform="rotate(-46.7 1282.75 281)" fill="#cbcbcb" fill-opacity="0.75" stroke="#3a3a3a" stroke-opacity="0.9" stroke-width="2.2"/>
<ellipse cx="1344.6" cy="312.1" rx="134" ry="70" transform="rotate(-46.7 1344.6 312.1)" fill="#eab8bc" fill-opacity="0.75" stroke="#3a3a3a" stroke-opacity="0.9" stroke-width="2.2"/>
<ellipse cx="1269.9" cy="286" rx="134" ry="70" transform="rotate(50 1269.9 286)" fill="#fce79c" fill-opacity="0.75" stroke="#3a3a3a" stroke-opacity="0.9" stroke-width="2.2"/>
<ellipse cx="1213.25" cy="309" rx="134" ry="70" transform="rotate(50 1213.25 309)" fill="#a9c6e6" fill-opacity="0.75" stroke="#3a3a3a" stroke-opacity="0.9" stroke-width="2.2"/>
<text x="1283.0" y="96.0" font-size="28.3" textLength="189.0" lengthAdjust="spacingAndGlyphs" text-anchor="middle">Intersection by</text>
<text x="1283.0" y="124.2" font-size="28.3" textLength="147.0" lengthAdjust="spacingAndGlyphs" text-anchor="middle">four criteria</text>
<text x="1187.5" y="207.0" font-size="25.5" textLength="57.5" lengthAdjust="spacingAndGlyphs">P. adj</text>
<text x="1297.0" y="210.0" font-size="25.5" textLength="32.3" lengthAdjust="spacingAndGlyphs">log</text><text x="1329.3" y="217.0" font-size="16.8" textLength="8.9" lengthAdjust="spacingAndGlyphs">2</text><text x="1338.2" y="210.0" font-size="25.5" textLength="32.3" lengthAdjust="spacingAndGlyphs">FC</text>
<text x="1135.8" y="254.8" font-size="25.5" textLength="57.5" lengthAdjust="spacingAndGlyphs">FPKM</text>
<text x="1371.8" y="254.8" font-size="25.5" textLength="130.8" lengthAdjust="spacingAndGlyphs">Consistency</text>
<text x="1275.0" y="346.8" font-size="25.5" textLength="27.8" lengthAdjust="spacingAndGlyphs" text-anchor="middle">23</text>
<line x1="1272.5" y1="355.5" x2="1272.5" y2="447.3" stroke="#44546a" stroke-width="2"/><path d="M1272.5 455.0L1277.5 444.0L1272.5 447.1L1267.5 444.0Z" fill="#44546a"/>
<text x="1272.0" y="491.0" font-size="28.3" textLength="144.0" lengthAdjust="spacingAndGlyphs" text-anchor="middle">Candidates</text>
</g>
<g id="panel_c">
<text x="1566.7" y="29.3" font-size="36" textLength="23.0" lengthAdjust="spacingAndGlyphs" font-weight="bold" stroke="#000" stroke-width="0.9">c</text>
<text x="1617.7" y="37.3" font-size="28.3" textLength="316.6" lengthAdjust="spacingAndGlyphs">Expression of candidates</text>
<text x="1644.7" y="81.5" font-size="27.5" textLength="82.7" lengthAdjust="spacingAndGlyphs">yHSCs</text>
<text x="1812.9" y="81.5" font-size="27.5" textLength="84.5" lengthAdjust="spacingAndGlyphs">oHSCs</text>
<rect x="1599.4" y="93.8" width="56.8" height="10.4" fill="#0000ff" stroke="#999" stroke-width="1.8" />
<rect x="1656.2" y="93.8" width="56.8" height="10.4" fill="#0000ff" stroke="#999" stroke-width="1.8" />
<rect x="1712.9" y="93.8" width="56.8" height="10.4" fill="#0000ff" stroke="#999" stroke-width="1.8" />
<rect x="1769.7" y="93.8" width="56.8" height="10.4" fill="#ff0000" stroke="#999" stroke-width="1.8" />
<rect x="1826.4" y="93.8" width="56.8" height="10.4" fill="#ff0000" stroke="#999" stroke-width="1.8" />
<rect x="1883.2" y="93.8" width="56.8" height="10.4" fill="#ff0000" stroke="#999" stroke-width="1.8" />
<rect x="1599.4" y="106.2" width="56.8" height="22.3" fill="#9ac9e0" stroke="#999" stroke-width="1.8" />
<rect x="1656.2" y="106.2" width="56.8" height="22.3" fill="#5ea4cc" stroke="#999" stroke-width="1.8" />
<rect x="1712.9" y="106.2" width="56.8" height="22.3" fill="#77b4d5" stroke="#999" stroke-width="1.8" />
<rect x="1769.7" y="106.2" width="56.8" height="22.3" fill="#f7b495" stroke="#999" stroke-width="1.8" />
<rect x="1826.4" y="106.2" width="56.8" height="22.3" fill="#f8f0eb" stroke="#999" stroke-width="1.8" />
<rect x="1883.2" y="106.2" width="56.8" height="22.3" fill="#7e0823" stroke="#999" stroke-width="1.8" />
<text x="1952.0" y="125.0" font-size="24.6" textLength="50.0" lengthAdjust="spacingAndGlyphs">Zg16</text>
<rect x="1599.4" y="128.5" width="56.8" height="22.3" fill="#7eb8d7" stroke="#999" stroke-width="1.8" />
<rect x="1656.2" y="128.5" width="56.8" height="22.3" fill="#3f8dc0" stroke="#999" stroke-width="1.8" />
<rect x="1712.9" y="128.5" width="56.8" height="22.3" fill="#8bc0db" stroke="#999" stroke-width="1.8" />
<rect x="1769.7" y="128.5" width="56.8" height="22.3" fill="#f9c5ab" stroke="#999" stroke-width="1.8" />
<rect x="1826.4" y="128.5" width="56.8" height="22.3" fill="#f5a886" stroke="#999" stroke-width="1.8" />
<rect x="1883.2" y="128.5" width="56.8" height="22.3" fill="#b82330" stroke="#999" stroke-width="1.8" />
<text x="1952.0" y="147.4" font-size="24.6" textLength="63.3" lengthAdjust="spacingAndGlyphs">Cldn5</text>
<rect x="1599.4" y="150.8" width="56.8" height="22.3" fill="#529cc8" stroke="#999" stroke-width="1.8" />
<rect x="1656.2" y="150.8" width="56.8" height="22.3" fill="#57a0ca" stroke="#999" stroke-width="1.8" />
<rect x="1712.9" y="150.8" width="56.8" height="22.3" fill="#79b5d6" stroke="#999" stroke-width="1.8" />
<rect x="1769.7" y="150.8" width="56.8" height="22.3" fill="#f7b99c" stroke="#999" stroke-width="1.8" />
<rect x="1826.4" y="150.8" width="56.8" height="22.3" fill="#e0785f" stroke="#999" stroke-width="1.8" />
<rect x="1883.2" y="150.8" width="56.8" height="22.3" fill="#cc4c43" stroke="#999" stroke-width="1.8" />
<text x="1952.0" y="169.8" font-size="24.6" textLength="48.3" lengthAdjust="spacingAndGlyphs">Rarb</text>
<rect x="1599.4" y="173.2" width="56.8" height="22.3" fill="#57a0ca" stroke="#999" stroke-width="1.8" />
<rect x="1656.2" y="173.2" width="56.8" height="22.3" fill="#83bcd9" stroke="#999" stroke-width="1.8" />
<rect x="1712.9" y="173.2" width="56.8" height="22.3" fill="#63a7ce" stroke="#999" stroke-width="1.8" />
<rect x="1769.7" y="173.2" width="56.8" height="22.3" fill="#f7b99c" stroke="#999" stroke-width="1.8" />
<rect x="1826.4" y="173.2" width="56.8" height="22.3" fill="#f8c0a4" stroke="#999" stroke-width="1.8" />
<rect x="1883.2" y="173.2" width="56.8" height="22.3" fill="#ad162a" stroke="#999" stroke-width="1.8" />
<text x="1952.0" y="192.2" font-size="24.6" textLength="61.3" lengthAdjust="spacingAndGlyphs">Gipc2</text>
<rect x="1599.4" y="195.5" width="56.8" height="22.3" fill="#7eb8d7" stroke="#999" stroke-width="1.8" />
<rect x="1656.2" y="195.5" width="56.8" height="22.3" fill="#6aacd0" stroke="#999" stroke-width="1.8" />
<rect x="1712.9" y="195.5" width="56.8" height="22.3" fill="#4a98c6" stroke="#999" stroke-width="1.8" />
<rect x="1769.7" y="195.5" width="56.8" height="22.3" fill="#fbe6d9" stroke="#999" stroke-width="1.8" />
<rect x="1826.4" y="195.5" width="56.8" height="22.3" fill="#ec9475" stroke="#999" stroke-width="1.8" />
<rect x="1883.2" y="195.5" width="56.8" height="22.3" fill="#b2182b" stroke="#999" stroke-width="1.8" />
<text x="1952.0" y="214.6" font-size="24.6" textLength="58.0" lengthAdjust="spacingAndGlyphs">Cd38</text>
<rect x="1599.4" y="217.8" width="56.8" height="22.3" fill="#2a71b2" stroke="#999" stroke-width="1.8" />
<rect x="1656.2" y="217.8" width="56.8" height="22.3" fill="#4595c4" stroke="#999" stroke-width="1.8" />
<rect x="1712.9" y="217.8" width="56.8" height="22.3" fill="#d9e9f2" stroke="#999" stroke-width="1.8" />
<rect x="1769.7" y="217.8" width="56.8" height="22.3" fill="#dc6d57" stroke="#999" stroke-width="1.8" />
<rect x="1826.4" y="217.8" width="56.8" height="22.3" fill="#f8c0a4" stroke="#999" stroke-width="1.8" />
<rect x="1883.2" y="217.8" width="56.8" height="22.3" fill="#d96652" stroke="#999" stroke-width="1.8" />
<text x="1952.0" y="237.0" font-size="24.6" textLength="69.0" lengthAdjust="spacingAndGlyphs">Gstm2</text>
<rect x="1599.4" y="240.1" width="56.8" height="22.3" fill="#3682ba" stroke="#999" stroke-width="1.8" />
<rect x="1656.2" y="240.1" width="56.8" height="22.3" fill="#2f78b5" stroke="#999" stroke-width="1.8" />
<rect x="1712.9" y="240.1" width="56.8" height="22.3" fill="#eef2f5" stroke="#999" stroke-width="1.8" />
<rect x="1769.7" y="240.1" width="56.8" height="22.3" fill="#d7624f" stroke="#999" stroke-width="1.8" />
<rect x="1826.4" y="240.1" width="56.8" height="22.3" fill="#f7b495" stroke="#999" stroke-width="1.8" />
<rect x="1883.2" y="240.1" width="56.8" height="22.3" fill="#ea8d70" stroke="#999" stroke-width="1.8" />
<text x="1952.0" y="259.4" font-size="24.6" textLength="64.0" lengthAdjust="spacingAndGlyphs">Klrb1c</text>
<rect x="1599.4" y="262.4" width="56.8" height="22.3" fill="#4292c2" stroke="#999" stroke-width="1.8" />
<rect x="1656.2" y="262.4" width="56.8" height="22.3" fill="#4292c2" stroke="#999" stroke-width="1.8" />
<rect x="1712.9" y="262.4" width="56.8" height="22.3" fill="#aed3e6" stroke="#999" stroke-width="1.8" />
<rect x="1769.7" y="262.4" width="56.8" height="22.3" fill="#c13539" stroke="#999" stroke-width="1.8" />
<rect x="1826.4" y="262.4" width="56.8" height="22.3" fill="#fbceb6" stroke="#999" stroke-width="1.8" />
<rect x="1883.2" y="262.4" width="56.8" height="22.3" fill="#e58267" stroke="#999" stroke-width="1.8" />
<text x="1952.0" y="281.8" font-size="24.6" textLength="59.0" lengthAdjust="spacingAndGlyphs">Epdr1</text>
<rect x="1599.4" y="284.8" width="56.8" height="22.3" fill="#3c89be" stroke="#999" stroke-width="1.8" />
<rect x="1656.2" y="284.8" width="56.8" height="22.3" fill="#3f8dc0" stroke="#999" stroke-width="1.8" />
<rect x="1712.9" y="284.8" width="56.8" height="22.3" fill="#ebf1f5" stroke="#999" stroke-width="1.8" />
<rect x="1769.7" y="284.8" width="56.8" height="22.3" fill="#bb2a34" stroke="#999" stroke-width="1.8" />
<rect x="1826.4" y="284.8" width="56.8" height="22.3" fill="#fdd9c5" stroke="#999" stroke-width="1.8" />
<rect x="1883.2" y="284.8" width="56.8" height="22.3" fill="#f6af8f" stroke="#999" stroke-width="1.8" />
<text x="1952.0" y="304.2" font-size="24.6" textLength="75.6" lengthAdjust="spacingAndGlyphs">Gpr183</text>
<rect x="1599.4" y="307.1" width="56.8" height="22.3" fill="#4292c2" stroke="#999" stroke-width="1.8" />
<rect x="1656.2" y="307.1" width="56.8" height="22.3" fill="#6fafd2" stroke="#999" stroke-width="1.8" />
<rect x="1712.9" y="307.1" width="56.8" height="22.3" fill="#cbe2ee" stroke="#999" stroke-width="1.8" />
<rect x="1769.7" y="307.1" width="56.8" height="22.3" fill="#730421" stroke="#999" stroke-width="1.8" />
<rect x="1826.4" y="307.1" width="56.8" height="22.3" fill="#fae7dc" stroke="#999" stroke-width="1.8" />
<rect x="1883.2" y="307.1" width="56.8" height="22.3" fill="#fce1d2" stroke="#999" stroke-width="1.8" />
<text x="1952.0" y="326.6" font-size="24.6" textLength="50.0" lengthAdjust="spacingAndGlyphs">Rtp4</text>
<rect x="1599.4" y="329.4" width="56.8" height="22.3" fill="#b3d6e8" stroke="#999" stroke-width="1.8" />
<rect x="1656.2" y="329.4" width="56.8" height="22.3" fill="#2a71b2" stroke="#999" stroke-width="1.8" />
<rect x="1712.9" y="329.4" width="56.8" height="22.3" fill="#aed3e6" stroke="#999" stroke-width="1.8" />
<rect x="1769.7" y="329.4" width="56.8" height="22.3" fill="#a21328" stroke="#999" stroke-width="1.8" />
<rect x="1826.4" y="329.4" width="56.8" height="22.3" fill="#f7b495" stroke="#999" stroke-width="1.8" />
<rect x="1883.2" y="329.4" width="56.8" height="22.3" fill="#fbe6d9" stroke="#999" stroke-width="1.8" />
<text x="1952.0" y="349.0" font-size="24.6" textLength="50.6" lengthAdjust="spacingAndGlyphs">Tc2n</text>
<rect x="1599.4" y="351.7" width="56.8" height="22.3" fill="#3c89be" stroke="#999" stroke-width="1.8" />
<rect x="1656.2" y="351.7" width="56.8" height="22.3" fill="#d3e6f0" stroke="#999" stroke-width="1.8" />
<rect x="1712.9" y="351.7" width="56.8" height="22.3" fill="#3c89be" stroke="#999" stroke-width="1.8" />
<rect x="1769.7" y="351.7" width="56.8" height="22.3" fill="#fdddca" stroke="#999" stroke-width="1.8" />
<rect x="1826.4" y="351.7" width="56.8" height="22.3" fill="#d25749" stroke="#999" stroke-width="1.8" />
<rect x="1883.2" y="351.7" width="56.8" height="22.3" fill="#d45c4b" stroke="#999" stroke-width="1.8" />
<text x="1952.0" y="371.4" font-size="24.6" textLength="66.3" lengthAdjust="spacingAndGlyphs">Tnfsf4</text>
<rect x="1599.4" y="374.0" width="56.8" height="22.3" fill="#bbdaea" stroke="#999" stroke-width="1.8" />
<rect x="1656.2" y="374.0" width="56.8" height="22.3" fill="#4292c2" stroke="#999" stroke-width="1.8" />
<rect x="1712.9" y="374.0" width="56.8" height="22.3" fill="#3c89be" stroke="#999" stroke-width="1.8" />
<rect x="1769.7" y="374.0" width="56.8" height="22.3" fill="#e0785f" stroke="#999" stroke-width="1.8" />
<rect x="1826.4" y="374.0" width="56.8" height="22.3" fill="#f09c7b" stroke="#999" stroke-width="1.8" />
<rect x="1883.2" y="374.0" width="56.8" height="22.3" fill="#dc6d57" stroke="#999" stroke-width="1.8" />
<text x="1952.0" y="393.8" font-size="24.6" textLength="65.0" lengthAdjust="spacingAndGlyphs">Pde9a</text>
<rect x="1599.4" y="396.4" width="56.8" height="22.3" fill="#7eb8d7" stroke="#999" stroke-width="1.8" />
<rect x="1656.2" y="396.4" width="56.8" height="22.3" fill="#3c89be" stroke="#999" stroke-width="1.8" />
<rect x="1712.9" y="396.4" width="56.8" height="22.3" fill="#79b5d6" stroke="#999" stroke-width="1.8" />
<rect x="1769.7" y="396.4" width="56.8" height="22.3" fill="#d25749" stroke="#999" stroke-width="1.8" />
<rect x="1826.4" y="396.4" width="56.8" height="22.3" fill="#f5ac8b" stroke="#999" stroke-width="1.8" />
<rect x="1883.2" y="396.4" width="56.8" height="22.3" fill="#df765e" stroke="#999" stroke-width="1.8" />
<text x="1952.0" y="416.2" font-size="24.6" textLength="54.6" lengthAdjust="spacingAndGlyphs">Jam2</text>
<rect x="1599.4" y="418.7" width="56.8" height="22.3" fill="#b3d6e8" stroke="#999" stroke-width="1.8" />
<rect x="1656.2" y="418.7" width="56.8" height="22.3" fill="#4292c2" stroke="#999" stroke-width="1.8" />
<rect x="1712.9" y="418.7" width="56.8" height="22.3" fill="#4190c2" stroke="#999" stroke-width="1.8" />
<rect x="1769.7" y="418.7" width="56.8" height="22.3" fill="#c13539" stroke="#999" stroke-width="1.8" />
<rect x="1826.4" y="418.7" width="56.8" height="22.3" fill="#f5ac8b" stroke="#999" stroke-width="1.8" />
<rect x="1883.2" y="418.7" width="56.8" height="22.3" fill="#f09c7b" stroke="#999" stroke-width="1.8" />
<text x="1952.0" y="438.6" font-size="24.6" textLength="54.6" lengthAdjust="spacingAndGlyphs">Rbpjl</text>
<rect x="1599.4" y="441.0" width="56.8" height="22.3" fill="#4292c2" stroke="#999" stroke-width="1.8" />
<rect x="1656.2" y="441.0" width="56.8" height="22.3" fill="#7cb7d6" stroke="#999" stroke-width="1.8" />
<rect x="1712.9" y="441.0" width="56.8" height="22.3" fill="#57a0ca" stroke="#999" stroke-width="1.8" />
<rect x="1769.7" y="441.0" width="56.8" height="22.3" fill="#ce5046" stroke="#999" stroke-width="1.8" />
<rect x="1826.4" y="441.0" width="56.8" height="22.3" fill="#ea8d70" stroke="#999" stroke-width="1.8" />
<rect x="1883.2" y="441.0" width="56.8" height="22.3" fill="#f09c7b" stroke="#999" stroke-width="1.8" />
<text x="1952.0" y="461.0" font-size="24.6" textLength="79.6" lengthAdjust="spacingAndGlyphs">Sbspon</text>
<rect x="1599.4" y="463.3" width="56.8" height="22.3" fill="#57a0ca" stroke="#999" stroke-width="1.8" />
<rect x="1656.2" y="463.3" width="56.8" height="22.3" fill="#63a7ce" stroke="#999" stroke-width="1.8" />
<rect x="1712.9" y="463.3" width="56.8" height="22.3" fill="#4292c2" stroke="#999" stroke-width="1.8" />
<rect x="1769.7" y="463.3" width="56.8" height="22.3" fill="#d7624f" stroke="#999" stroke-width="1.8" />
<rect x="1826.4" y="463.3" width="56.8" height="22.3" fill="#dc6d57" stroke="#999" stroke-width="1.8" />
<rect x="1883.2" y="463.3" width="56.8" height="22.3" fill="#ea8d70" stroke="#999" stroke-width="1.8" />
<text x="1952.0" y="483.4" font-size="24.6" textLength="54.0" lengthAdjust="spacingAndGlyphs">Ehd3</text>
<rect x="1599.4" y="485.6" width="56.8" height="22.3" fill="#83bcd9" stroke="#999" stroke-width="1.8" />
<rect x="1656.2" y="485.6" width="56.8" height="22.3" fill="#4292c2" stroke="#999" stroke-width="1.8" />
<rect x="1712.9" y="485.6" width="56.8" height="22.3" fill="#61a6cd" stroke="#999" stroke-width="1.8" />
<rect x="1769.7" y="485.6" width="56.8" height="22.3" fill="#d25749" stroke="#999" stroke-width="1.8" />
<rect x="1826.4" y="485.6" width="56.8" height="22.3" fill="#de715a" stroke="#999" stroke-width="1.8" />
<rect x="1883.2" y="485.6" width="56.8" height="22.3" fill="#f6af8f" stroke="#999" stroke-width="1.8" />
<text x="1952.0" y="505.8" font-size="24.6" textLength="35.0" lengthAdjust="spacingAndGlyphs">Clu</text>
<rect x="1599.4" y="508.0" width="56.8" height="22.3" fill="#9ac9e0" stroke="#999" stroke-width="1.8" />
<rect x="1656.2" y="508.0" width="56.8" height="22.3" fill="#529cc8" stroke="#999" stroke-width="1.8" />
<rect x="1712.9" y="508.0" width="56.8" height="22.3" fill="#3f8dc0" stroke="#999" stroke-width="1.8" />
<rect x="1769.7" y="508.0" width="56.8" height="22.3" fill="#dc6d57" stroke="#999" stroke-width="1.8" />
<rect x="1826.4" y="508.0" width="56.8" height="22.3" fill="#d55e4c" stroke="#999" stroke-width="1.8" />
<rect x="1883.2" y="508.0" width="56.8" height="22.3" fill="#f6af8f" stroke="#999" stroke-width="1.8" />
<text x="1952.0" y="528.2" font-size="24.6" textLength="66.3" lengthAdjust="spacingAndGlyphs">Matn4</text>
<rect x="1599.4" y="530.3" width="56.8" height="22.3" fill="#7cb7d6" stroke="#999" stroke-width="1.8" />
<rect x="1656.2" y="530.3" width="56.8" height="22.3" fill="#d9e9f2" stroke="#999" stroke-width="1.8" />
<rect x="1712.9" y="530.3" width="56.8" height="22.3" fill="#246aae" stroke="#999" stroke-width="1.8" />
<rect x="1769.7" y="530.3" width="56.8" height="22.3" fill="#dc6d57" stroke="#999" stroke-width="1.8" />
<rect x="1826.4" y="530.3" width="56.8" height="22.3" fill="#d25749" stroke="#999" stroke-width="1.8" />
<rect x="1883.2" y="530.3" width="56.8" height="22.3" fill="#fdddca" stroke="#999" stroke-width="1.8" />
<text x="1952.0" y="550.6" font-size="24.6" textLength="49.6" lengthAdjust="spacingAndGlyphs">Gem</text>
<rect x="1599.4" y="552.6" width="56.8" height="22.3" fill="#83bcd9" stroke="#999" stroke-width="1.8" />
<rect x="1656.2" y="552.6" width="56.8" height="22.3" fill="#529cc8" stroke="#999" stroke-width="1.8" />
<rect x="1712.9" y="552.6" width="56.8" height="22.3" fill="#63a7ce" stroke="#999" stroke-width="1.8" />
<rect x="1769.7" y="552.6" width="56.8" height="22.3" fill="#de715a" stroke="#999" stroke-width="1.8" />
<rect x="1826.4" y="552.6" width="56.8" height="22.3" fill="#be3137" stroke="#999" stroke-width="1.8" />
<rect x="1883.2" y="552.6" width="56.8" height="22.3" fill="#fbe6d9" stroke="#999" stroke-width="1.8" />
<text x="1952.0" y="573.0" font-size="24.6" textLength="65.6" lengthAdjust="spacingAndGlyphs">Rdh10</text>
<rect x="1599.4" y="574.9" width="56.8" height="22.3" fill="#4292c2" stroke="#999" stroke-width="1.8" />
<rect x="1656.2" y="574.9" width="56.8" height="22.3" fill="#8bc0db" stroke="#999" stroke-width="1.8" />
<rect x="1712.9" y="574.9" width="56.8" height="22.3" fill="#529cc8" stroke="#999" stroke-width="1.8" />
<rect x="1769.7" y="574.9" width="56.8" height="22.3" fill="#d45c4b" stroke="#999" stroke-width="1.8" />
<rect x="1826.4" y="574.9" width="56.8" height="22.3" fill="#c84540" stroke="#999" stroke-width="1.8" />
<rect x="1883.2" y="574.9" width="56.8" height="22.3" fill="#fbe6d9" stroke="#999" stroke-width="1.8" />
<text x="1952.0" y="595.4" font-size="24.6" textLength="62.3" lengthAdjust="spacingAndGlyphs">Dnm3</text>
<rect x="1599.4" y="597.2" width="56.8" height="22.3" fill="#4a98c6" stroke="#999" stroke-width="1.8" />
<rect x="1656.2" y="597.2" width="56.8" height="22.3" fill="#6fafd2" stroke="#999" stroke-width="1.8" />
<rect x="1712.9" y="597.2" width="56.8" height="22.3" fill="#8bc0db" stroke="#999" stroke-width="1.8" />
<rect x="1769.7" y="597.2" width="56.8" height="22.3" fill="#d45c4b" stroke="#999" stroke-width="1.8" />
<rect x="1826.4" y="597.2" width="56.8" height="22.3" fill="#bd2e36" stroke="#999" stroke-width="1.8" />
<rect x="1883.2" y="597.2" width="56.8" height="22.3" fill="#f9eee8" stroke="#999" stroke-width="1.8" />
<text x="1952.0" y="617.8" font-size="24.6" textLength="40.0" lengthAdjust="spacingAndGlyphs">Vwf</text>
<defs><linearGradient id="cb" x1="0" y1="0" x2="0" y2="1"><stop offset="0.0" stop-color="#67001F"/><stop offset="0.1" stop-color="#B2182B"/><stop offset="0.2" stop-color="#D6604D"/><stop offset="0.3" stop-color="#F4A582"/><stop offset="0.4" stop-color="#FDDBC7"/><stop offset="0.5" stop-color="#F7F7F7"/><stop offset="0.6" stop-color="#D1E5F0"/><stop offset="0.7" stop-color="#92C5DE"/><stop offset="0.8" stop-color="#4393C3"/><stop offset="0.9" stop-color="#2166AC"/><stop offset="1.0" stop-color="#053061"/></linearGradient></defs>
<rect x="2051.8" y="108.2" width="15.1" height="150.1" fill="url(#cb)" />
<text x="2076.4" y="118.0" font-size="24.2" textLength="27.3" lengthAdjust="spacingAndGlyphs">1.5</text>
<text x="2076.4" y="142.1" font-size="24.2" textLength="9.3" lengthAdjust="spacingAndGlyphs">1</text>
<text x="2076.4" y="166.2" font-size="24.2" textLength="34.0" lengthAdjust="spacingAndGlyphs">0.5</text>
<text x="2076.4" y="190.3" font-size="24.2" textLength="14.3" lengthAdjust="spacingAndGlyphs">0</text>
<text x="2076.4" y="214.4" font-size="24.2" textLength="47.3" lengthAdjust="spacingAndGlyphs">−0.5</text>
<text x="2076.4" y="238.5" font-size="24.2" textLength="20.6" lengthAdjust="spacingAndGlyphs">−1</text>
<text x="2076.4" y="262.6" font-size="24.2" textLength="40.0" lengthAdjust="spacingAndGlyphs">−1.5</text>
</g>
<g id="panel_d">
<text x="1.0" y="677.0" font-size="36" textLength="25.3" lengthAdjust="spacingAndGlyphs" font-weight="bold" stroke="#000" stroke-width="0.9">d</text>
<text x="345.6" y="686.0" font-size="28.2" textLength="295.6" lengthAdjust="spacingAndGlyphs">Lentiviral sgRNA library</text>
<text x="766.0" y="686.0" font-size="28.2" textLength="196.3" lengthAdjust="spacingAndGlyphs">Transplantation</text>
<g transform="translate(30 680) scale(0.12531) translate(1688 0) scale(1.0 1) translate(-1688 0)" fill="none" stroke-linecap="round" stroke-linejoin="round"><defs><linearGradient id="tl30" x1="1" y1="0" x2="0" y2="0"><stop offset="0" stop-color="#f6c5c8"/><stop offset="1" stop-color="#f6c5c8" stop-opacity="0"/></linearGradient></defs><path d="M440 880L500 925L190 1092L140 1048Z" fill="url(#tl30)" stroke="none"/><path d="M440 880L250 985M500 925L330 1018" stroke="#333" stroke-width="5" stroke-dasharray="6 5" opacity="0.7"/><path d="M440 880C425 760 445 640 500 560C560 470 660 410 800 372C900 345 1000 315 1080 305C1120 300 1150 308 1165 318L1160 250C1130 200 1105 150 1135 128C1180 112 1250 120 1285 145C1310 180 1320 215 1340 250C1420 262 1500 298 1570 358C1620 400 1665 440 1688 465C1680 485 1650 495 1605 500C1540 520 1460 560 1420 592C1405 615 1395 640 1385 660C1340 700 1290 745 1230 775C1180 800 1150 830 1135 860C1125 890 1080 935 1000 945C960 975 880 1010 800 1022C720 1030 600 985 500 925Z" fill="#fbfbfb" stroke="none"/><filter id="bl30" x="-50%" y="-50%" width="200%" height="200%"><feGaussianBlur stdDeviation="28"/></filter><g filter="url(#bl30)"><ellipse cx="640" cy="700" rx="130" ry="210" fill="#f0f0f0" stroke="none" transform="rotate(25 640 700)"/><ellipse cx="1020" cy="800" rx="85" ry="75" fill="#e8e8e8" stroke="none"/><ellipse cx="1250" cy="650" rx="60" ry="48" fill="#ececec" stroke="none"/></g><path d="M440 880C425 760 445 640 500 560C560 470 660 410 800 372C900 345 1000 315 1080 305C1120 300 1150 308 1165 318C1200 330 1230 350 1245 375M500 925C600 985 720 1030 800 1022C880 1010 960 975 1000 945M1385 640C1340 700 1290 745 1230 775C1180 800 1150 830 1135 860M1420 592C1440 585 1470 570 1490 575" stroke="#000" stroke-width="24" stroke-dasharray="8 9" stroke-linecap="butt"/><path d="M1165 318L1160 250C1130 200 1105 150 1135 128C1180 112 1250 120 1285 145C1310 180 1320 215 1340 250C1290 270 1230 285 1190 300Z" fill="#f9d2d4" stroke="#000" stroke-width="8"/><path d="M1200 300C1240 285 1280 272 1312 258" stroke="#000" stroke-width="18" stroke-dasharray="7 7" stroke-linecap="butt"/><path d="M1340 250C1420 262 1500 298 1570 358C1620 400 1665 440 1688 465C1680 485 1650 495 1605 500" stroke="#000" stroke-width="9"/><path d="M1605 500C1540 520 1460 560 1420 592" stroke="#111" stroke-width="6"/><path d="M1330 480C1290 440 1300 370 1370 345C1400 340 1420 350 1430 365" fill="#f7c9cc" stroke="none"/><path d="M1395 498C1330 460 1330 380 1390 345C1430 350 1445 390 1432 420" stroke="#000" stroke-width="8"/><path d="M1330 495C1290 470 1275 420 1285 395" stroke="#000" stroke-width="16" stroke-dasharray="6 8" stroke-linecap="butt"/><ellipse cx="1540" cy="445" rx="17" ry="22" fill="#fff" stroke="#a01a2a" stroke-width="10"/><path d="M1495 458L1520 470M1560 430L1610 415" stroke="#111" stroke-width="5"/><circle cx="1660" cy="465" r="14" fill="#f9c9cf" stroke="none"/><path d="M1600 380C1580 340 1585 310 1600 285M1615 385C1610 350 1625 320 1640 295M1625 395C1635 365 1655 340 1670 320" stroke="#000" stroke-width="7"/><path d="M1605 495C1540 500 1470 520 1415 555M1610 500C1560 540 1510 600 1490 665M1600 500C1570 560 1550 620 1545 680M1595 498C1520 520 1450 560 1410 610" stroke="#000" stroke-width="6.5"/><path d="M1290 745C1330 700 1370 675 1400 660C1430 665 1455 680 1460 690C1450 700 1440 700 1425 695C1440 715 1445 735 1440 745C1425 735 1415 725 1405 720C1415 745 1415 765 1410 780C1395 765 1390 745 1380 735C1350 750 1320 770 1270 780Z" fill="#f7c2c6" stroke="#000" stroke-width="6.5"/><path d="M1075 935C1110 900 1150 880 1180 875C1200 870 1220 872 1228 880C1215 890 1195 892 1180 895C1205 900 1225 908 1232 918C1212 925 1190 920 1170 918C1175 935 1165 950 1150 962C1145 975 1120 985 1100 975C1090 965 1080 950 1075 935Z" fill="#f7c2c6" stroke="#000" stroke-width="6.5"/><path d="M1000 948L1075 950" stroke="#111" stroke-width="5"/><path d="M950 860C970 880 1000 890 1030 895M960 865C950 890 940 915 930 930" stroke="#a0673e" stroke-width="6"/><path d="M670 481L730 459M758 436L822 424M872 404L928 436M929 382L991 398M1010 349L1070 371M1114 372L1146 428M590 531L650 509M750 494L810 516M868 484L932 496M970 449L1030 471M570 611L630 589M740 534L800 556M928 581L992 569M1108 539L1172 551M1148 506L1212 494M688 646L752 634M868 628L932 622M512 706L568 674M689 708L751 692M502 766L558 734M678 775L742 775M501 839L559 811M559 878L621 862M664 923L716 887M789 905L831 855M874 900L896 840M705 956L755 914M824 965L846 905M922 931L958 879M1129 707L1191 723M1169 737L1231 753M1118 793L1182 787M1053 835L1117 835M1004 762L1036 818M1241 619L1299 591M1270 666L1330 644M1201 296L1259 324M1309 287L1371 303M1434 322L1486 358M1515 354L1565 396M1428 409L1492 421M1408 488L1472 482M1349 555L1391 605" stroke="#a5693c" stroke-width="9.5"/></g>
<text x="147.0" y="843.7" font-size="28.2" textLength="132.3" lengthAdjust="spacingAndGlyphs" text-anchor="middle">Cas9 mice</text>
<text x="147.0" y="876.7" font-size="28.2" textLength="152.3" lengthAdjust="spacingAndGlyphs" text-anchor="middle">(24 months)</text>
<line x1="249.3" y1="767.7" x2="295.6" y2="767.7" stroke="#44546a" stroke-width="2"/><path d="M303.3 767.7L292.3 762.7L295.4 767.7L292.3 772.7Z" fill="#44546a"/>
<path d="M316.1 755.3v19a57.2 24 0 0 0 114.4 0v-19Z" fill="#a6d3e4" stroke="#2f9dba" stroke-width="1.3"/><path d="M316.1 755.3v7a57.2 24 0 0 0 114.4 0v-7Z" fill="#c3e2ee" stroke="none"/><path d="M316.1 762.8a57.2 24 0 0 0 114.4 0" fill="none" stroke="#2f9dba" stroke-width="1"/><ellipse cx="373.3" cy="755.3" rx="57.2" ry="24" fill="#e3f0f6" stroke="#2f9dba" stroke-width="1.4"/><ellipse cx="373.3" cy="760.3" rx="54.2" ry="20" fill="#cde4ee" stroke="#2f9dba" stroke-width="1"/><path transform="translate(347.8 764.3) rotate(-12)" d="M-14 1Q-5 -3 -4 -8Q4 -5 14 -6Q9 0 11 7Q2 5 -8 9Q-8 4 -14 1Z" fill="#dde6ea" stroke="#444" stroke-width="1"/><ellipse cx="347.8" cy="764.3" rx="3.6" ry="2.7" fill="#8cc63f" stroke="#2c3a12" stroke-width="1"/><path transform="translate(375.8 750.8) rotate(8)" d="M-14 1Q-5 -3 -4 -8Q4 -5 14 -6Q9 0 11 7Q2 5 -8 9Q-8 4 -14 1Z" fill="#dde6ea" stroke="#444" stroke-width="1"/><ellipse cx="375.8" cy="750.8" rx="3.6" ry="2.7" fill="#8cc63f" stroke="#2c3a12" stroke-width="1"/><path transform="translate(399.8 762.8) rotate(18)" d="M-14 1Q-5 -3 -4 -8Q4 -5 14 -6Q9 0 11 7Q2 5 -8 9Q-8 4 -14 1Z" fill="#dde6ea" stroke="#444" stroke-width="1"/><ellipse cx="399.8" cy="762.8" rx="3.6" ry="2.7" fill="#8cc63f" stroke="#2c3a12" stroke-width="1"/>
<text x="372.5" y="843.7" font-size="28.2" textLength="85.0" lengthAdjust="spacingAndGlyphs" text-anchor="middle">oHSCs</text>
<circle cx="468.3" cy="730.7" r="5.6" fill="#f2f2f2" stroke="#8a8a8a" stroke-width="1.3"/><path d="M473.6 732.4L475.8 733.0M470.9 735.7L471.9 737.6M466.6 736.0L466.0 738.2M463.3 733.3L461.4 734.3M463.0 729.0L460.8 728.4M465.7 725.7L464.7 723.8M470.0 725.4L470.6 723.2M473.3 728.1L475.2 727.1" stroke="#8a8a8a" stroke-width="1.4" stroke-linecap="round"/><path d="M465.7 727.3000000000001L470.90000000000003 727.3000000000001L466.1 734.1L470.5 734.1Z" fill="#e6374a" transform="rotate(-15 468.3 730.7)"/>
<circle cx="486" cy="721.7" r="5.6" fill="#f2f2f2" stroke="#8a8a8a" stroke-width="1.3"/><path d="M491.3 723.4L493.5 724.0M488.6 726.7L489.6 728.6M484.3 727.0L483.7 729.2M481.0 724.3L479.1 725.3M480.7 720.0L478.5 719.4M483.4 716.7L482.4 714.8M487.7 716.4L488.3 714.2M491.0 719.1L492.9 718.1" stroke="#8a8a8a" stroke-width="1.4" stroke-linecap="round"/><path d="M483.4 718.3000000000001L488.6 718.3000000000001L483.8 725.1L488.2 725.1Z" fill="#2e9e57" transform="rotate(-15 486 721.7)"/>
<circle cx="502.3" cy="729.3" r="5.6" fill="#f2f2f2" stroke="#8a8a8a" stroke-width="1.3"/><path d="M507.6 731.0L509.8 731.6M504.9 734.3L505.9 736.2M500.6 734.6L500.0 736.8M497.3 731.9L495.4 732.9M497.0 727.6L494.8 727.0M499.7 724.3L498.7 722.4M504.0 724.0L504.6 721.8M507.3 726.7L509.2 725.7" stroke="#8a8a8a" stroke-width="1.4" stroke-linecap="round"/><path d="M499.7 725.9L504.90000000000003 725.9L500.1 732.6999999999999L504.5 732.6999999999999Z" fill="#2a9fd8" transform="rotate(-15 502.3 729.3)"/>
<circle cx="486" cy="740" r="5.6" fill="#f2f2f2" stroke="#8a8a8a" stroke-width="1.3"/><path d="M491.3 741.7L493.5 742.3M488.6 745.0L489.6 746.9M484.3 745.3L483.7 747.5M481.0 742.6L479.1 743.6M480.7 738.3L478.5 737.7M483.4 735.0L482.4 733.1M487.7 734.7L488.3 732.5M491.0 737.4L492.9 736.4" stroke="#8a8a8a" stroke-width="1.4" stroke-linecap="round"/><path d="M483.4 736.6L488.6 736.6L483.8 743.4L488.2 743.4Z" fill="#3b55a5" transform="rotate(-15 486 740)"/>
<circle cx="474" cy="754" r="5.6" fill="#f2f2f2" stroke="#8a8a8a" stroke-width="1.3"/><path d="M479.3 755.7L481.5 756.3M476.6 759.0L477.6 760.9M472.3 759.3L471.7 761.5M469.0 756.6L467.1 757.6M468.7 752.3L466.5 751.7M471.4 749.0L470.4 747.1M475.7 748.7L476.3 746.5M479.0 751.4L480.9 750.4" stroke="#8a8a8a" stroke-width="1.4" stroke-linecap="round"/><path d="M471.4 750.6L476.6 750.6L471.8 757.4L476.2 757.4Z" fill="#e8923a" transform="rotate(-15 474 754)"/>
<circle cx="499.3" cy="751.7" r="5.6" fill="#f2f2f2" stroke="#8a8a8a" stroke-width="1.3"/><path d="M504.6 753.4L506.8 754.0M501.9 756.7L502.9 758.6M497.6 757.0L497.0 759.2M494.3 754.3L492.4 755.3M494.0 750.0L491.8 749.4M496.7 746.7L495.7 744.8M501.0 746.4L501.6 744.2M504.3 749.1L506.2 748.1" stroke="#8a8a8a" stroke-width="1.4" stroke-linecap="round"/><path d="M496.7 748.3000000000001L501.90000000000003 748.3000000000001L497.1 755.1L501.5 755.1Z" fill="#f0d530" transform="rotate(-15 499.3 751.7)"/>
<line x1="449.0" y1="769.3" x2="519.0" y2="769.3" stroke="#44546a" stroke-width="2"/><path d="M526.7 769.3L515.7 764.3L518.8 769.3L515.7 774.3Z" fill="#44546a"/>
<path d="M553.5999999999999 755.3v19a57.2 24 0 0 0 114.4 0v-19Z" fill="#a6d3e4" stroke="#2f9dba" stroke-width="1.3"/><path d="M553.5999999999999 755.3v7a57.2 24 0 0 0 114.4 0v-7Z" fill="#c3e2ee" stroke="none"/><path d="M553.5999999999999 762.8a57.2 24 0 0 0 114.4 0" fill="none" stroke="#2f9dba" stroke-width="1"/><ellipse cx="610.8" cy="755.3" rx="57.2" ry="24" fill="#e3f0f6" stroke="#2f9dba" stroke-width="1.4"/><ellipse cx="610.8" cy="760.3" rx="54.2" ry="20" fill="#cde4ee" stroke="#2f9dba" stroke-width="1"/><path transform="translate(585.3 764.3) rotate(-12)" d="M-14 1Q-5 -3 -4 -8Q4 -5 14 -6Q9 0 11 7Q2 5 -8 9Q-8 4 -14 1Z" fill="#ea5a5c" stroke="#555" stroke-width="0.9"/><ellipse cx="585.3" cy="764.3" rx="3.6" ry="2.7" fill="#8cc63f" stroke="#2c3a12" stroke-width="1"/><path transform="translate(613.3 750.8) rotate(8)" d="M-14 1Q-5 -3 -4 -8Q4 -5 14 -6Q9 0 11 7Q2 5 -8 9Q-8 4 -14 1Z" fill="#ea5a5c" stroke="#555" stroke-width="0.9"/><ellipse cx="613.3" cy="750.8" rx="3.6" ry="2.7" fill="#8cc63f" stroke="#2c3a12" stroke-width="1"/><path transform="translate(637.3 762.8) rotate(18)" d="M-14 1Q-5 -3 -4 -8Q4 -5 14 -6Q9 0 11 7Q2 5 -8 9Q-8 4 -14 1Z" fill="#ea5a5c" stroke="#555" stroke-width="0.9"/><ellipse cx="637.3" cy="762.8" rx="3.6" ry="2.7" fill="#8cc63f" stroke="#2c3a12" stroke-width="1"/>
<text x="606.0" y="847.7" font-size="28.2" textLength="227.7" lengthAdjust="spacingAndGlyphs" text-anchor="middle">Start-point oHSCs</text>
<text x="609.5" y="879.3" font-size="28.2" textLength="141.0" lengthAdjust="spacingAndGlyphs" text-anchor="middle">(sp-oHSCs)</text>
<line x1="697.0" y1="768.7" x2="734.0" y2="768.7" stroke="#44546a" stroke-width="2"/><path d="M741.7 768.7L730.7 763.7L733.8 768.7L730.7 773.7Z" fill="#44546a"/>
<g transform="translate(752 692.8) scale(0.12531) translate(1688 0) scale(0.957 1) translate(-1688 0)" fill="none" stroke-linecap="round" stroke-linejoin="round"><defs><linearGradient id="tl752" x1="1" y1="0" x2="0" y2="0"><stop offset="0" stop-color="#f6c5c8"/><stop offset="1" stop-color="#f6c5c8" stop-opacity="0"/></linearGradient></defs><path d="M440 880L500 925L190 1092L140 1048Z" fill="url(#tl752)" stroke="none"/><path d="M440 880L250 985M500 925L330 1018" stroke="#333" stroke-width="5" stroke-dasharray="6 5" opacity="0.7"/><path d="M440 880C425 760 445 640 500 560C560 470 660 410 800 372C900 345 1000 315 1080 305C1120 300 1150 308 1165 318L1160 250C1130 200 1105 150 1135 128C1180 112 1250 120 1285 145C1310 180 1320 215 1340 250C1420 262 1500 298 1570 358C1620 400 1665 440 1688 465C1680 485 1650 495 1605 500C1540 520 1460 560 1420 592C1405 615 1395 640 1385 660C1340 700 1290 745 1230 775C1180 800 1150 830 1135 860C1125 890 1080 935 1000 945C960 975 880 1010 800 1022C720 1030 600 985 500 925Z" fill="#fbfbfb" stroke="none"/><filter id="bl752" x="-50%" y="-50%" width="200%" height="200%"><feGaussianBlur stdDeviation="28"/></filter><g filter="url(#bl752)"><ellipse cx="640" cy="700" rx="130" ry="210" fill="#f0f0f0" stroke="none" transform="rotate(25 640 700)"/><ellipse cx="1020" cy="800" rx="85" ry="75" fill="#e8e8e8" stroke="none"/><ellipse cx="1250" cy="650" rx="60" ry="48" fill="#ececec" stroke="none"/></g><path d="M440 880C425 760 445 640 500 560C560 470 660 410 800 372C900 345 1000 315 1080 305C1120 300 1150 308 1165 318C1200 330 1230 350 1245 375M500 925C600 985 720 1030 800 1022C880 1010 960 975 1000 945M1385 640C1340 700 1290 745 1230 775C1180 800 1150 830 1135 860M1420 592C1440 585 1470 570 1490 575" stroke="#000" stroke-width="24" stroke-dasharray="8 9" stroke-linecap="butt"/><path d="M1165 318L1160 250C1130 200 1105 150 1135 128C1180 112 1250 120 1285 145C1310 180 1320 215 1340 250C1290 270 1230 285 1190 300Z" fill="#f9d2d4" stroke="#000" stroke-width="8"/><path d="M1200 300C1240 285 1280 272 1312 258" stroke="#000" stroke-width="18" stroke-dasharray="7 7" stroke-linecap="butt"/><path d="M1340 250C1420 262 1500 298 1570 358C1620 400 1665 440 1688 465C1680 485 1650 495 1605 500" stroke="#000" stroke-width="9"/><path d="M1605 500C1540 520 1460 560 1420 592" stroke="#111" stroke-width="6"/><path d="M1330 480C1290 440 1300 370 1370 345C1400 340 1420 350 1430 365" fill="#f7c9cc" stroke="none"/><path d="M1395 498C1330 460 1330 380 1390 345C1430 350 1445 390 1432 420" stroke="#000" stroke-width="8"/><path d="M1330 495C1290 470 1275 420 1285 395" stroke="#000" stroke-width="16" stroke-dasharray="6 8" stroke-linecap="butt"/><ellipse cx="1540" cy="445" rx="17" ry="22" fill="#fff" stroke="#a01a2a" stroke-width="10"/><path d="M1495 458L1520 470M1560 430L1610 415" stroke="#111" stroke-width="5"/><circle cx="1660" cy="465" r="14" fill="#f9c9cf" stroke="none"/><path d="M1600 380C1580 340 1585 310 1600 285M1615 385C1610 350 1625 320 1640 295M1625 395C1635 365 1655 340 1670 320" stroke="#000" stroke-width="7"/><path d="M1605 495C1540 500 1470 520 1415 555M1610 500C1560 540 1510 600 1490 665M1600 500C1570 560 1550 620 1545 680M1595 498C1520 520 1450 560 1410 610" stroke="#000" stroke-width="6.5"/><path d="M1290 745C1330 700 1370 675 1400 660C1430 665 1455 680 1460 690C1450 700 1440 700 1425 695C1440 715 1445 735 1440 745C1425 735 1415 725 1405 720C1415 745 1415 765 1410 780C1395 765 1390 745 1380 735C1350 750 1320 770 1270 780Z" fill="#f7c2c6" stroke="#000" stroke-width="6.5"/><path d="M1075 935C1110 900 1150 880 1180 875C1200 870 1220 872 1228 880C1215 890 1195 892 1180 895C1205 900 1225 908 1232 918C1212 925 1190 920 1170 918C1175 935 1165 950 1150 962C1145 975 1120 985 1100 975C1090 965 1080 950 1075 935Z" fill="#f7c2c6" stroke="#000" stroke-width="6.5"/><path d="M1000 948L1075 950" stroke="#111" stroke-width="5"/><path d="M950 860C970 880 1000 890 1030 895M960 865C950 890 940 915 930 930" stroke="#ddd" stroke-width="6"/></g>
<g transform="translate(761.9 739.5) rotate(-28)"><path d="M-5.5 0H5.5M0 0V9M-6.5 9H6.5" stroke="#111" stroke-width="1.8" fill="none"/><rect x="-2.6" y="9" width="5.2" height="40" fill="#8c9096" stroke="#111" stroke-width="1.2"/><rect x="-2.6" y="41" width="5.2" height="8" fill="#a9c8e8" stroke="none"/><path d="M-0.8 12V40" stroke="#d8d8d8" stroke-width="1"/><path d="M0 49V77" stroke="#111" stroke-width="1.2"/></g>
<text x="872.5" y="847.7" font-size="28.2" textLength="158.4" lengthAdjust="spacingAndGlyphs" text-anchor="middle">CD45.1 mice</text>
<text x="872.5" y="880.3" font-size="28.2" textLength="133.6" lengthAdjust="spacingAndGlyphs" text-anchor="middle">(2 months)</text>
<text x="974.3" y="760.0" font-size="28.2" textLength="118.0" lengthAdjust="spacingAndGlyphs">5 months</text>
<line x1="981.7" y1="775.3" x2="1081.3" y2="775.3" stroke="#44546a" stroke-width="2"/><path d="M1089.0 775.3L1078.0 770.3L1081.1 775.3L1078.0 780.3Z" fill="#44546a"/>
<path d="M1140.8 711.3V752.0999999999999a7.2 7.2 0 0 0 14.4 0V711.3Q1148 714.3 1140.8 711.3Z" fill="#e8424d"/><path d="M1140.8 695.3V752.0999999999999a7.2 7.2 0 0 0 14.4 0V695.3" fill="none" stroke="#111" stroke-width="1.5"/><ellipse cx="1148" cy="695.3" rx="8.1" ry="2.5" fill="#f4f4f4" stroke="#000" stroke-width="2.1"/>
<path d="M1159.5 700.7V741.5a7.2 7.2 0 0 0 14.4 0V700.7Q1166.7 703.7 1159.5 700.7Z" fill="#e8424d"/><path d="M1159.5 684.7V741.5a7.2 7.2 0 0 0 14.4 0V684.7" fill="none" stroke="#111" stroke-width="1.5"/><ellipse cx="1166.7" cy="684.7" rx="8.1" ry="2.5" fill="#f4f4f4" stroke="#000" stroke-width="2.1"/>
<path d="M1178.1 688V728.8a7.2 7.2 0 0 0 14.4 0V688Q1185.3 691 1178.1 688Z" fill="#e8424d"/><path d="M1178.1 672V728.8a7.2 7.2 0 0 0 14.4 0V672" fill="none" stroke="#111" stroke-width="1.5"/><ellipse cx="1185.3" cy="672" rx="8.1" ry="2.5" fill="#f4f4f4" stroke="#000" stroke-width="2.1"/>
<text x="1121.0" y="791.0" font-size="28.2" textLength="98.3" lengthAdjust="spacingAndGlyphs">PB cells</text>
<path d="M1130 838.6C1125 834 1125 827.5 1119.5 826.5C1113.5 826 1111.5 832.5 1116 838C1118.5 841 1118.5 845 1116.5 848C1112 853 1113 858 1119 858C1125 857.5 1125.5 853.5 1130 850.6H1203C1207 853 1206 857 1211.5 857.5C1217 858 1219.5 853.5 1217.5 851C1215.5 849.5 1213.5 850.5 1212.5 848.5C1211.5 845 1214 842 1218 840.5C1224 838 1225.5 831 1222 827.5C1218.5 824 1211.5 824.5 1209.5 829C1208 833 1207.5 836.5 1203 838.6Z" fill="#ec8d9d" stroke="#fff" stroke-width="3.4" stroke-linejoin="round"/>
<path d="M1124 844.6Q1127 841 1131 839H1202Q1206 841 1209 844.6Q1206 848.5 1202 850.3H1131Q1127 848.5 1124 844.6Z" fill="#fff"/>
<path d="M1130 838.6C1125 834 1125 827.5 1119.5 826.5C1113.5 826 1111.5 832.5 1116 838C1118.5 841 1118.5 845 1116.5 848C1112 853 1113 858 1119 858C1125 857.5 1125.5 853.5 1130 850.6H1203C1207 853 1206 857 1211.5 857.5C1217 858 1219.5 853.5 1217.5 851C1215.5 849.5 1213.5 850.5 1212.5 848.5C1211.5 845 1214 842 1218 840.5C1224 838 1225.5 831 1222 827.5C1218.5 824 1211.5 824.5 1209.5 829C1208 833 1207.5 836.5 1203 838.6Z" fill="none" stroke="#86bfe6" stroke-width="1.2" stroke-linejoin="round"/>
<ellipse cx="1164.5" cy="844.8" rx="35.5" ry="2.9" fill="#ec8d9d"/>
<text x="1167.7" y="881.7" font-size="28.2" textLength="36.7" lengthAdjust="spacingAndGlyphs" text-anchor="middle">BM</text>
<line x1="1241.0" y1="775.7" x2="1303.3" y2="775.7" stroke="#44546a" stroke-width="2"/><path d="M1311.0 775.7L1300.0 770.7L1303.1 775.7L1300.0 780.7Z" fill="#44546a"/>
<text x="1373.8" y="774.3" font-size="28.2" textLength="67.7" lengthAdjust="spacingAndGlyphs" text-anchor="middle">FACS</text>
<text x="1377.0" y="807.0" font-size="28.2" textLength="87.4" lengthAdjust="spacingAndGlyphs" text-anchor="middle">sorting</text>
<line x1="1426.7" y1="776.7" x2="1466.0" y2="776.7" stroke="#44546a" stroke-width="2" />
<line x1="1466.0" y1="684.0" x2="1466.0" y2="870.0" stroke="#44546a" stroke-width="2" />
<line x1="1466.0" y1="685.0" x2="1494.0" y2="685.0" stroke="#44546a" stroke-width="2"/><path d="M1501.7 685.0L1490.7 680.0L1493.8 685.0L1490.7 690.0Z" fill="#44546a"/>
<line x1="1466.0" y1="749.0" x2="1494.0" y2="749.0" stroke="#44546a" stroke-width="2"/><path d="M1501.7 749.0L1490.7 744.0L1493.8 749.0L1490.7 754.0Z" fill="#44546a"/>
<line x1="1466.0" y1="809.3" x2="1494.0" y2="809.3" stroke="#44546a" stroke-width="2"/><path d="M1501.7 809.3L1490.7 804.3L1493.8 809.3L1490.7 814.3Z" fill="#44546a"/>
<line x1="1466.0" y1="869.0" x2="1494.0" y2="869.0" stroke="#44546a" stroke-width="2"/><path d="M1501.7 869.0L1490.7 864.0L1493.8 869.0L1490.7 874.0Z" fill="#44546a"/>
<text x="1520.0" y="695.3" font-size="28.2" textLength="80.6" lengthAdjust="spacingAndGlyphs">T cells</text>
<text x="1520.0" y="758.7" font-size="28.2" textLength="82.7" lengthAdjust="spacingAndGlyphs">B cells</text>
<text x="1518.3" y="817.7" font-size="28.2" textLength="165.7" lengthAdjust="spacingAndGlyphs">Myeloid cells</text>
<text x="1518.3" y="878.7" font-size="28.2" textLength="213.7" lengthAdjust="spacingAndGlyphs">End-point oHSCs</text>
<text x="1518.3" y="911.7" font-size="28.2" textLength="143.4" lengthAdjust="spacingAndGlyphs">(ep-oHSCs)</text>
<line x1="1723.5" y1="773.4" x2="1758.1" y2="773.4" stroke="#44546a" stroke-width="2"/><path d="M1765.8 773.4L1754.8 768.4L1757.9 773.4L1754.8 778.4Z" fill="#44546a"/>
<text x="1831.8" y="681.9" font-size="28.2" textLength="64.8" lengthAdjust="spacingAndGlyphs" text-anchor="middle">Deep</text>
<text x="1835.0" y="711.0" font-size="28.2" textLength="147.2" lengthAdjust="spacingAndGlyphs" text-anchor="middle">sequencing</text>
<rect x="1789.8" y="781.6" width="95.4" height="51.7" fill="#c9c9c9" stroke="#111" stroke-width="1.2" />
<rect x="1789.8" y="781.6" width="95.4" height="8.2" fill="#c9c9c9" stroke="#111" stroke-width="1.2" />
<line x1="1851.9" y1="789.8" x2="1851.9" y2="833.3" stroke="#000" stroke-width="1.2" />
<rect x="1793.3" y="749.5" width="41.1" height="30.0" fill="#fff" stroke="#111" stroke-width="1.2" />
<text x="1797.0" y="758.6" font-size="8.7" textLength="34.0" lengthAdjust="spacingAndGlyphs">Next seq</text>
<rect x="1834.4" y="739.3" width="50.8" height="40.8" fill="#b9b9b9" stroke="#111" stroke-width="1.2" />
<rect x="1838.8" y="742.8" width="42.9" height="35.0" fill="#a9e8f8" stroke="#111" stroke-width="1" />
<rect x="1835.3" y="780.1" width="48.7" height="5.0" fill="#a9e8f8" stroke="#111" stroke-width="1" />
<line x1="1903.6" y1="774.6" x2="1938.2" y2="774.6" stroke="#44546a" stroke-width="2"/><path d="M1945.9 774.6L1934.9 769.6L1938.0 774.6L1934.9 779.6Z" fill="#44546a"/>
<text x="2035.4" y="686.2" font-size="28.2" textLength="83.8" lengthAdjust="spacingAndGlyphs" text-anchor="middle">sgRNA</text>
<text x="2039.0" y="715.4" font-size="28.2" textLength="144.5" lengthAdjust="spacingAndGlyphs" text-anchor="middle">enrichment</text>
<line x1="1975.7" y1="850.5" x2="1975.7" y2="738.2" stroke="#44546a" stroke-width="2"/><path d="M1975.7 730.5L1970.7 741.5L1975.7 738.4L1980.7 741.5Z" fill="#44546a"/>
<line x1="1974.8" y1="849.6" x2="2094.4" y2="849.6" stroke="#44546a" stroke-width="2"/><path d="M2102.1 849.6L2091.1 844.6L2094.2 849.6L2091.1 854.6Z" fill="#44546a"/>
<path d="M1995.6 769.9C1999 800 2020 838 2072.9 842.3" fill="none" stroke="#111" stroke-width="2.2"/>
<circle cx="1993.8" cy="763.2" r="7.9" fill="#e8202a" />
</g>
<g id="panel_efg">
<text x="5.0" y="979.0" font-size="36" textLength="23.0" lengthAdjust="spacingAndGlyphs" font-weight="bold" stroke="#000" stroke-width="0.9">e</text>
<text x="1304.0" y="979.2" font-size="36" textLength="13.8" lengthAdjust="spacingAndGlyphs" font-weight="bold" stroke="#000" stroke-width="0.9">f</text>
<text x="2.0" y="1618.5" font-size="36" textLength="25.3" lengthAdjust="spacingAndGlyphs" font-weight="bold" stroke="#000" stroke-width="0.9">g</text>
<text x="714.6" y="987.7" font-size="28.3" textLength="321.0" lengthAdjust="spacingAndGlyphs" text-anchor="middle">Differentiation potential</text>
<text x="1753.6" y="987.7" font-size="28.3" textLength="254.4" lengthAdjust="spacingAndGlyphs" text-anchor="middle">Differentiation bias</text>
<g><text x="22.0" y="1186.0" font-size="28.4" textLength="267.0" lengthAdjust="spacingAndGlyphs" text-anchor="middle" transform="rotate(-90 22.0 1186.0)">RRA score of positive</text><text x="54.8" y="1186.0" font-size="28.4" textLength="236.0" lengthAdjust="spacingAndGlyphs" text-anchor="middle" transform="rotate(-90 54.8 1186.0)">sgRNA enrichment</text></g>
<g><text x="1318.5" y="1190.0" font-size="28.4" textLength="267.0" lengthAdjust="spacingAndGlyphs" text-anchor="middle" transform="rotate(-90 1318.5 1190.0)">RRA score of positive</text><text x="1350.5" y="1190.0" font-size="28.4" textLength="236.0" lengthAdjust="spacingAndGlyphs" text-anchor="middle" transform="rotate(-90 1350.5 1190.0)">sgRNA enrichment</text></g>
<g><text x="28.0" y="1784.0" font-size="28.4" textLength="267.0" lengthAdjust="spacingAndGlyphs" text-anchor="middle" transform="rotate(-90 28.0 1784.0)">RRA score of positive</text><text x="59.8" y="1784.0" font-size="28.4" textLength="236.0" lengthAdjust="spacingAndGlyphs" text-anchor="middle" transform="rotate(-90 59.8 1784.0)">sgRNA enrichment</text></g>
<path d="M155.5 1067.0L200.0 1072.0M165.5 1087.5L200.0 1094.2M175.8 1178.2L197.5 1147.5M185.8 1186.2L214.5 1162.5M206.0 1188.5L246.2 1180.0M196.0 1188.2L177.5 1221.2M226.5 1198.2L238.2 1228.8" stroke="#999" stroke-width="2.3" stroke-dasharray="5.2 5.8" fill="none"/>
<path d="M155.5 1067.0L165.5 1087.5L175.8 1178.2L185.8 1186.2L196.0 1188.2L206.0 1188.5L216.2 1195.5L226.5 1198.2L236.2 1201.8L246.8 1205.0L256.8 1208.0L266.8 1215.8L277.0 1223.0L287.0 1225.5L297.0 1226.8L307.2 1230.8L317.2 1241.5L327.2 1242.5L337.5 1246.0L347.5 1261.8L357.5 1267.5L367.5 1269.5L377.8 1284.8L387.8 1285.2L398.0 1286.0L408.0 1286.8L418.0 1295.0L428.2 1296.8L438.2 1302.0L448.8 1306.2" fill="none" stroke="#000" stroke-width="2" stroke-linejoin="round"/>
<circle cx="155.5" cy="1067.0" r="5.8" fill="#e41a1c" />
<circle cx="165.5" cy="1087.5" r="5.8" fill="#377eb8" />
<circle cx="175.8" cy="1178.2" r="5.8" fill="#4daf4a" />
<circle cx="185.8" cy="1186.2" r="5.8" fill="#984ea3" />
<circle cx="196.0" cy="1188.2" r="5.8" fill="#ff7f00" />
<circle cx="206.0" cy="1188.5" r="5.8" fill="#a65628" />
<circle cx="226.5" cy="1198.2" r="5.8" fill="#f781bf" />
<rect x="144.0" y="1057.5" width="316.0" height="257.5" fill="none" stroke="#000" stroke-width="1.4" />
<line x1="145.8" y1="1315.0" x2="145.8" y2="1325.0" stroke="#000" stroke-width="1.3" />
<text x="145.8" y="1353.5" font-size="23.7" textLength="13.7" lengthAdjust="spacingAndGlyphs" text-anchor="middle">0</text>
<line x1="196.2" y1="1315.0" x2="196.2" y2="1325.0" stroke="#000" stroke-width="1.3" />
<text x="196.2" y="1353.5" font-size="23.7" textLength="13.7" lengthAdjust="spacingAndGlyphs" text-anchor="middle">5</text>
<line x1="246.8" y1="1315.0" x2="246.8" y2="1325.0" stroke="#000" stroke-width="1.3" />
<text x="246.8" y="1353.5" font-size="23.7" textLength="25.0" lengthAdjust="spacingAndGlyphs" text-anchor="middle">10</text>
<line x1="297.0" y1="1315.0" x2="297.0" y2="1325.0" stroke="#000" stroke-width="1.3" />
<text x="297.0" y="1353.5" font-size="23.7" textLength="25.0" lengthAdjust="spacingAndGlyphs" text-anchor="middle">15</text>
<line x1="347.5" y1="1315.0" x2="347.5" y2="1325.0" stroke="#000" stroke-width="1.3" />
<text x="347.5" y="1353.5" font-size="23.7" textLength="27.5" lengthAdjust="spacingAndGlyphs" text-anchor="middle">20</text>
<line x1="398.0" y1="1315.0" x2="398.0" y2="1325.0" stroke="#000" stroke-width="1.3" />
<text x="398.0" y="1353.5" font-size="23.7" textLength="27.5" lengthAdjust="spacingAndGlyphs" text-anchor="middle">25</text>
<line x1="448.8" y1="1315.0" x2="448.8" y2="1325.0" stroke="#000" stroke-width="1.3" />
<text x="448.8" y="1353.5" font-size="23.7" textLength="27.5" lengthAdjust="spacingAndGlyphs" text-anchor="middle">30</text>
<line x1="134.0" y1="1085.0" x2="144.0" y2="1085.0" stroke="#000" stroke-width="1.3" />
<text x="123.8" y="1093.6" font-size="23.7" textLength="49.8" lengthAdjust="spacingAndGlyphs" text-anchor="end">0.02</text>
<line x1="134.0" y1="1137.5" x2="144.0" y2="1137.5" stroke="#000" stroke-width="1.3" />
<text x="123.8" y="1146.1" font-size="23.7" textLength="49.8" lengthAdjust="spacingAndGlyphs" text-anchor="end">0.05</text>
<line x1="134.0" y1="1176.2" x2="144.0" y2="1176.2" stroke="#000" stroke-width="1.3" />
<line x1="134.0" y1="1215.8" x2="144.0" y2="1215.8" stroke="#000" stroke-width="1.3" />
<text x="123.8" y="1224.3" font-size="23.7" textLength="49.8" lengthAdjust="spacingAndGlyphs" text-anchor="end">0.20</text>
<line x1="134.0" y1="1267.0" x2="144.0" y2="1267.0" stroke="#000" stroke-width="1.3" />
<line x1="134.0" y1="1306.8" x2="144.0" y2="1306.8" stroke="#000" stroke-width="1.3" />
<text x="123.8" y="1315.3" font-size="23.7" textLength="49.8" lengthAdjust="spacingAndGlyphs" text-anchor="end">1.00</text>
<text x="202.0" y="1079.8" font-size="23.8" textLength="56.6" lengthAdjust="spacingAndGlyphs">Cd38</text>
<text x="202.5" y="1106.0" font-size="23.8" textLength="35.5" lengthAdjust="spacingAndGlyphs" style="fill:#e8141c">Clu</text>
<text x="188.0" y="1143.0" font-size="23.8" textLength="69.7" lengthAdjust="spacingAndGlyphs">Gstm2</text>
<text x="215.0" y="1165.2" font-size="23.8" textLength="117.2" lengthAdjust="spacingAndGlyphs">Non_target</text>
<text x="247.0" y="1191.0" font-size="23.8" textLength="65.8" lengthAdjust="spacingAndGlyphs">Matn4</text>
<text x="154.2" y="1243.0" font-size="23.8" textLength="61.9" lengthAdjust="spacingAndGlyphs">Cldn5</text>
<text x="228.0" y="1251.0" font-size="23.8" textLength="69.8" lengthAdjust="spacingAndGlyphs">Rdh10</text>
<text x="154.2" y="1041.0" font-size="27.3" textLength="80.6" lengthAdjust="spacingAndGlyphs">B cells</text>
<text x="272.5" y="1041.0" font-size="27.3" textLength="26.2" lengthAdjust="spacingAndGlyphs">vs</text>
<text x="327.5" y="1041.0" font-size="27.3" textLength="123.8" lengthAdjust="spacingAndGlyphs">sp-oHSCs</text>
<text x="298.0" y="1392.0" font-size="28.3" textLength="237.0" lengthAdjust="spacingAndGlyphs" text-anchor="middle">Gene rank position</text>
<rect x="140.8" y="1426.2" width="297.2" height="20.5" fill="#eeeeee" stroke="#2a2a2a" stroke-width="1.6" />
<line x1="136.8" y1="1436.5" x2="140.8" y2="1436.5" stroke="#000" stroke-width="1.3" />
<line x1="382.0" y1="1427.2" x2="382.0" y2="1445.8" stroke="#ea2a30" stroke-width="1.5" />
<line x1="394.0" y1="1427.2" x2="394.0" y2="1445.8" stroke="#ea2a30" stroke-width="1.5" />
<line x1="401.8" y1="1427.2" x2="401.8" y2="1445.8" stroke="#ea2a30" stroke-width="1.5" />
<line x1="418.8" y1="1427.2" x2="418.8" y2="1445.8" stroke="#ea2a30" stroke-width="1.5" />
<line x1="424.5" y1="1427.2" x2="424.5" y2="1445.8" stroke="#ea2a30" stroke-width="1.5" />
<text x="125.5" y="1444.8" font-size="28.3" textLength="41.4" lengthAdjust="spacingAndGlyphs" text-anchor="end">Clu</text>
<rect x="140.8" y="1457.0" width="297.2" height="20.5" fill="#eeeeee" stroke="#2a2a2a" stroke-width="1.6" />
<line x1="136.8" y1="1467.2" x2="140.8" y2="1467.2" stroke="#000" stroke-width="1.3" />
<line x1="373.8" y1="1458.0" x2="373.8" y2="1476.5" stroke="#ea2a30" stroke-width="1.5" />
<line x1="388.0" y1="1458.0" x2="388.0" y2="1476.5" stroke="#ea2a30" stroke-width="1.5" />
<line x1="398.5" y1="1458.0" x2="398.5" y2="1476.5" stroke="#ea2a30" stroke-width="1.5" />
<line x1="405.2" y1="1458.0" x2="405.2" y2="1476.5" stroke="#ea2a30" stroke-width="1.5" />
<line x1="421.0" y1="1458.0" x2="421.0" y2="1476.5" stroke="#ea2a30" stroke-width="1.5" />
<text x="125.5" y="1475.5" font-size="28.3" textLength="65.9" lengthAdjust="spacingAndGlyphs" text-anchor="end">Cd38</text>
<line x1="146.8" y1="1477.5" x2="146.8" y2="1482.0" stroke="#333" stroke-width="1.2" />
<text x="145.8" y="1511.0" font-size="23.7" textLength="24.2" lengthAdjust="spacingAndGlyphs" text-anchor="middle">−8</text>
<line x1="217.5" y1="1477.5" x2="217.5" y2="1482.0" stroke="#333" stroke-width="1.2" />
<text x="216.5" y="1511.0" font-size="23.7" textLength="24.2" lengthAdjust="spacingAndGlyphs" text-anchor="middle">−4</text>
<line x1="288.5" y1="1477.5" x2="288.5" y2="1482.0" stroke="#333" stroke-width="1.2" />
<text x="288.5" y="1511.0" font-size="23.7" textLength="13.6" lengthAdjust="spacingAndGlyphs" text-anchor="middle">0</text>
<line x1="359.5" y1="1477.5" x2="359.5" y2="1482.0" stroke="#333" stroke-width="1.2" />
<text x="359.5" y="1511.0" font-size="23.7" textLength="13.6" lengthAdjust="spacingAndGlyphs" text-anchor="middle">4</text>
<text x="239.0" y="1546.8" font-size="27.8" textLength="37.0" lengthAdjust="spacingAndGlyphs">log</text><text x="275.9" y="1555.9" font-size="18.9" textLength="10.5" lengthAdjust="spacingAndGlyphs">2</text><text x="286.4" y="1546.8" font-size="27.8" textLength="55.4" lengthAdjust="spacingAndGlyphs">(FC)</text>
<path d="M561.2 1064.5L605.0 1071.2M581.8 1123.5L625.0 1098.2M602.0 1146.2L638.8 1128.8M612.0 1167.5L660.0 1162.5M683.2 1228.2L715.0 1200.0M591.8 1140.5L587.5 1193.8M570.0 1113.8L565.8 1222.5" stroke="#999" stroke-width="2.3" stroke-dasharray="5.2 5.8" fill="none"/>
<path d="M561.2 1064.5L571.5 1111.5L581.8 1123.5L591.8 1140.5L602.0 1146.2L612.0 1167.5L622.0 1170.5L632.5 1195.0L642.5 1218.8L652.8 1219.8L663.0 1222.0L673.0 1224.5L683.2 1228.2L693.2 1235.0L703.8 1236.0L713.8 1238.0L724.0 1240.0L734.2 1243.0L744.2 1245.5L754.5 1260.8L764.5 1261.5L774.8 1262.5L785.0 1263.8L795.0 1265.8L805.2 1272.5L815.2 1286.2L825.5 1287.5L835.8 1297.0L845.8 1300.8L856.5 1305.0" fill="none" stroke="#000" stroke-width="2" stroke-linejoin="round"/>
<circle cx="561.2" cy="1064.5" r="5.8" fill="#e41a1c" />
<circle cx="571.5" cy="1111.5" r="5.8" fill="#377eb8" />
<circle cx="581.8" cy="1123.5" r="5.8" fill="#4daf4a" />
<circle cx="591.8" cy="1140.5" r="5.8" fill="#984ea3" />
<circle cx="602.0" cy="1146.2" r="5.8" fill="#ff7f00" />
<circle cx="612.0" cy="1167.5" r="5.8" fill="#a65628" />
<circle cx="683.2" cy="1228.2" r="5.8" fill="#999999" />
<rect x="550.0" y="1054.5" width="318.2" height="259.2" fill="none" stroke="#000" stroke-width="1.4" />
<line x1="551.2" y1="1313.8" x2="551.2" y2="1323.8" stroke="#000" stroke-width="1.3" />
<text x="551.2" y="1354.0" font-size="23.7" textLength="13.7" lengthAdjust="spacingAndGlyphs" text-anchor="middle">0</text>
<line x1="602.0" y1="1313.8" x2="602.0" y2="1323.8" stroke="#000" stroke-width="1.3" />
<text x="602.0" y="1354.0" font-size="23.7" textLength="13.7" lengthAdjust="spacingAndGlyphs" text-anchor="middle">5</text>
<line x1="652.8" y1="1313.8" x2="652.8" y2="1323.8" stroke="#000" stroke-width="1.3" />
<text x="652.8" y="1354.0" font-size="23.7" textLength="25.0" lengthAdjust="spacingAndGlyphs" text-anchor="middle">10</text>
<line x1="703.8" y1="1313.8" x2="703.8" y2="1323.8" stroke="#000" stroke-width="1.3" />
<text x="703.8" y="1354.0" font-size="23.7" textLength="25.0" lengthAdjust="spacingAndGlyphs" text-anchor="middle">15</text>
<line x1="754.5" y1="1313.8" x2="754.5" y2="1323.8" stroke="#000" stroke-width="1.3" />
<text x="754.5" y="1354.0" font-size="23.7" textLength="27.5" lengthAdjust="spacingAndGlyphs" text-anchor="middle">20</text>
<line x1="805.2" y1="1313.8" x2="805.2" y2="1323.8" stroke="#000" stroke-width="1.3" />
<text x="805.2" y="1354.0" font-size="23.7" textLength="27.5" lengthAdjust="spacingAndGlyphs" text-anchor="middle">25</text>
<line x1="855.8" y1="1313.8" x2="855.8" y2="1323.8" stroke="#000" stroke-width="1.3" />
<text x="855.8" y="1354.0" font-size="23.7" textLength="27.5" lengthAdjust="spacingAndGlyphs" text-anchor="middle">30</text>
<line x1="540.0" y1="1094.0" x2="550.0" y2="1094.0" stroke="#000" stroke-width="1.3" />
<text x="528.0" y="1102.6" font-size="23.7" textLength="49.8" lengthAdjust="spacingAndGlyphs" text-anchor="end">0.05</text>
<line x1="540.0" y1="1145.0" x2="550.0" y2="1145.0" stroke="#000" stroke-width="1.3" />
<text x="528.0" y="1153.6" font-size="23.7" textLength="49.8" lengthAdjust="spacingAndGlyphs" text-anchor="end">0.10</text>
<line x1="540.0" y1="1197.0" x2="550.0" y2="1197.0" stroke="#000" stroke-width="1.3" />
<text x="528.0" y="1205.6" font-size="23.7" textLength="49.8" lengthAdjust="spacingAndGlyphs" text-anchor="end">0.20</text>
<line x1="540.0" y1="1264.5" x2="550.0" y2="1264.5" stroke="#000" stroke-width="1.3" />
<text x="528.0" y="1273.1" font-size="23.7" textLength="49.8" lengthAdjust="spacingAndGlyphs" text-anchor="end">0.50</text>
<text x="607.0" y="1079.8" font-size="23.8" textLength="35.5" lengthAdjust="spacingAndGlyphs" style="fill:#e8141c">Clu</text>
<text x="626.8" y="1104.8" font-size="23.8" textLength="69.7" lengthAdjust="spacingAndGlyphs">Gstm2</text>
<text x="643.0" y="1138.0" font-size="23.8" textLength="56.6" lengthAdjust="spacingAndGlyphs">Cd38</text>
<text x="663.0" y="1174.0" font-size="23.8" textLength="67.1" lengthAdjust="spacingAndGlyphs">Klrb1c</text>
<text x="717.0" y="1205.5" font-size="23.8" textLength="117.2" lengthAdjust="spacingAndGlyphs">Non_target</text>
<text x="570.5" y="1216.0" font-size="23.8" textLength="55.3" lengthAdjust="spacingAndGlyphs">Ehd3</text>
<text x="555.0" y="1242.2" font-size="23.8" textLength="82.9" lengthAdjust="spacingAndGlyphs">Dnmt3a</text>
<text x="553.8" y="1041.0" font-size="27.3" textLength="80.0" lengthAdjust="spacingAndGlyphs">T cells</text>
<text x="677.0" y="1041.0" font-size="27.3" textLength="26.0" lengthAdjust="spacingAndGlyphs">vs</text>
<text x="733.8" y="1041.0" font-size="27.3" textLength="123.2" lengthAdjust="spacingAndGlyphs">sp-oHSCs</text>
<text x="705.6" y="1391.5" font-size="28.3" textLength="237.0" lengthAdjust="spacingAndGlyphs" text-anchor="middle">Gene rank position</text>
<rect x="534.8" y="1428.5" width="312.9" height="19.5" fill="#e5e5e5" stroke="#2a2a2a" stroke-width="1.6" />
<line x1="530.8" y1="1438.2" x2="534.8" y2="1438.2" stroke="#000" stroke-width="1.3" />
<line x1="702.6" y1="1429.5" x2="702.6" y2="1447.0" stroke="#ea2a30" stroke-width="1.5" />
<line x1="736.0" y1="1429.5" x2="736.0" y2="1447.0" stroke="#ea2a30" stroke-width="1.5" />
<line x1="768.5" y1="1429.5" x2="768.5" y2="1447.0" stroke="#ea2a30" stroke-width="1.5" />
<line x1="773.0" y1="1429.5" x2="773.0" y2="1447.0" stroke="#ea2a30" stroke-width="1.5" />
<line x1="802.8" y1="1429.5" x2="802.8" y2="1447.0" stroke="#ea2a30" stroke-width="1.5" />
<text x="522.3" y="1445.5" font-size="28.3" textLength="41.4" lengthAdjust="spacingAndGlyphs" text-anchor="end">Clu</text>
<rect x="534.8" y="1457.9" width="312.9" height="19.6" fill="#e5e5e5" stroke="#2a2a2a" stroke-width="1.6" />
<line x1="530.8" y1="1467.7" x2="534.8" y2="1467.7" stroke="#000" stroke-width="1.3" />
<line x1="675.5" y1="1458.9" x2="675.5" y2="1476.5" stroke="#ea2a30" stroke-width="1.5" />
<line x1="727.6" y1="1458.9" x2="727.6" y2="1476.5" stroke="#ea2a30" stroke-width="1.5" />
<line x1="732.0" y1="1458.9" x2="732.0" y2="1476.5" stroke="#ea2a30" stroke-width="1.5" />
<line x1="749.4" y1="1458.9" x2="749.4" y2="1476.5" stroke="#ea2a30" stroke-width="1.5" />
<line x1="761.4" y1="1458.9" x2="761.4" y2="1476.5" stroke="#ea2a30" stroke-width="1.5" />
<text x="522.3" y="1476.7" font-size="28.3" textLength="65.9" lengthAdjust="spacingAndGlyphs" text-anchor="end">Cd38</text>
<line x1="552.6" y1="1477.5" x2="552.6" y2="1482.0" stroke="#333" stroke-width="1.2" />
<text x="551.6" y="1511.0" font-size="23.7" textLength="24.2" lengthAdjust="spacingAndGlyphs" text-anchor="middle">−2</text>
<line x1="641.2" y1="1477.5" x2="641.2" y2="1482.0" stroke="#333" stroke-width="1.2" />
<text x="641.2" y="1511.0" font-size="23.7" textLength="13.6" lengthAdjust="spacingAndGlyphs" text-anchor="middle">0</text>
<line x1="729.8" y1="1477.5" x2="729.8" y2="1482.0" stroke="#333" stroke-width="1.2" />
<text x="729.8" y="1511.0" font-size="23.7" textLength="13.6" lengthAdjust="spacingAndGlyphs" text-anchor="middle">2</text>
<line x1="818.4" y1="1477.5" x2="818.4" y2="1482.0" stroke="#333" stroke-width="1.2" />
<text x="818.4" y="1511.0" font-size="23.7" textLength="13.6" lengthAdjust="spacingAndGlyphs" text-anchor="middle">4</text>
<text x="641.0" y="1546.7" font-size="27.8" textLength="37.0" lengthAdjust="spacingAndGlyphs">log</text><text x="677.9" y="1555.8" font-size="18.9" textLength="10.5" lengthAdjust="spacingAndGlyphs">2</text><text x="688.4" y="1546.7" font-size="27.8" textLength="55.4" lengthAdjust="spacingAndGlyphs">(FC)</text>
<path d="M961.2 1068.0L1012.5 1070.8M975.0 1092.5L1027.5 1093.8M981.5 1098.2L1055.0 1114.5M991.5 1113.8L1043.8 1129.5M1021.8 1152.0L1073.8 1173.0M1001.5 1123.0L973.8 1157.5M1011.5 1143.8L1023.0 1194.5" stroke="#999" stroke-width="2.3" stroke-dasharray="5.2 5.8" fill="none"/>
<path d="M961.2 1068.0L971.5 1095.0L981.5 1098.2L991.5 1113.8L1001.5 1123.0L1011.5 1143.8L1021.8 1152.0L1031.8 1167.5L1041.8 1168.0L1051.8 1176.2L1062.0 1182.5L1072.0 1189.2L1082.0 1195.5L1092.0 1196.8L1102.0 1199.5L1112.2 1212.5L1122.2 1218.0L1132.2 1219.0L1142.5 1221.0L1152.2 1247.5L1162.5 1249.5L1172.5 1250.8L1182.5 1251.2L1192.5 1257.5L1202.5 1259.2L1212.5 1277.0L1222.8 1278.2L1232.8 1284.2L1242.8 1292.5L1253.2 1305.8" fill="none" stroke="#000" stroke-width="2" stroke-linejoin="round"/>
<circle cx="961.2" cy="1068.0" r="5.8" fill="#e41a1c" />
<circle cx="971.5" cy="1095.0" r="5.8" fill="#377eb8" />
<circle cx="981.5" cy="1098.2" r="5.8" fill="#4daf4a" />
<circle cx="991.5" cy="1113.8" r="5.8" fill="#984ea3" />
<circle cx="1001.5" cy="1123.0" r="5.8" fill="#ff7f00" />
<circle cx="1011.5" cy="1143.8" r="5.8" fill="#a65628" />
<circle cx="1021.8" cy="1152.0" r="5.8" fill="#f781bf" />
<rect x="950.0" y="1058.2" width="315.0" height="256.2" fill="none" stroke="#000" stroke-width="1.4" />
<line x1="951.2" y1="1314.5" x2="951.2" y2="1324.5" stroke="#000" stroke-width="1.3" />
<text x="951.2" y="1353.5" font-size="23.7" textLength="13.7" lengthAdjust="spacingAndGlyphs" text-anchor="middle">0</text>
<line x1="1001.5" y1="1314.5" x2="1001.5" y2="1324.5" stroke="#000" stroke-width="1.3" />
<text x="1001.5" y="1353.5" font-size="23.7" textLength="13.7" lengthAdjust="spacingAndGlyphs" text-anchor="middle">5</text>
<line x1="1051.8" y1="1314.5" x2="1051.8" y2="1324.5" stroke="#000" stroke-width="1.3" />
<text x="1051.8" y="1353.5" font-size="23.7" textLength="25.0" lengthAdjust="spacingAndGlyphs" text-anchor="middle">10</text>
<line x1="1102.0" y1="1314.5" x2="1102.0" y2="1324.5" stroke="#000" stroke-width="1.3" />
<text x="1102.0" y="1353.5" font-size="23.7" textLength="25.0" lengthAdjust="spacingAndGlyphs" text-anchor="middle">15</text>
<line x1="1152.2" y1="1314.5" x2="1152.2" y2="1324.5" stroke="#000" stroke-width="1.3" />
<text x="1152.2" y="1353.5" font-size="23.7" textLength="27.5" lengthAdjust="spacingAndGlyphs" text-anchor="middle">20</text>
<line x1="1202.5" y1="1314.5" x2="1202.5" y2="1324.5" stroke="#000" stroke-width="1.3" />
<text x="1202.5" y="1353.5" font-size="23.7" textLength="27.5" lengthAdjust="spacingAndGlyphs" text-anchor="middle">25</text>
<line x1="1252.8" y1="1314.5" x2="1252.8" y2="1324.5" stroke="#000" stroke-width="1.3" />
<text x="1252.8" y="1353.5" font-size="23.7" textLength="27.5" lengthAdjust="spacingAndGlyphs" text-anchor="middle">30</text>
<line x1="940.0" y1="1105.0" x2="950.0" y2="1105.0" stroke="#000" stroke-width="1.3" />
<text x="928.0" y="1113.6" font-size="23.7" textLength="35.6" lengthAdjust="spacingAndGlyphs" text-anchor="end">0.1</text>
<line x1="940.0" y1="1172.5" x2="950.0" y2="1172.5" stroke="#000" stroke-width="1.3" />
<text x="928.0" y="1181.1" font-size="23.7" textLength="35.6" lengthAdjust="spacingAndGlyphs" text-anchor="end">0.2</text>
<line x1="940.0" y1="1261.8" x2="950.0" y2="1261.8" stroke="#000" stroke-width="1.3" />
<text x="928.0" y="1270.3" font-size="23.7" textLength="35.6" lengthAdjust="spacingAndGlyphs" text-anchor="end">0.5</text>
<text x="1014.2" y="1080.5" font-size="23.8" textLength="69.7" lengthAdjust="spacingAndGlyphs">Gstm2</text>
<text x="1029.2" y="1102.2" font-size="23.8" textLength="55.3" lengthAdjust="spacingAndGlyphs">Ehd3</text>
<text x="1056.2" y="1127.2" font-size="23.8" textLength="65.8" lengthAdjust="spacingAndGlyphs">Foxo3</text>
<text x="1045.0" y="1151.5" font-size="23.8" textLength="117.2" lengthAdjust="spacingAndGlyphs">Non_target</text>
<text x="1075.5" y="1185.5" font-size="23.8" textLength="63.2" lengthAdjust="spacingAndGlyphs">Dnm3</text>
<text x="953.0" y="1177.2" font-size="23.8" textLength="54.0" lengthAdjust="spacingAndGlyphs">Rbpjl</text>
<text x="995.8" y="1214.8" font-size="23.8" textLength="63.2" lengthAdjust="spacingAndGlyphs">Epdr1</text>
<text x="953.0" y="1041.0" font-size="27.3" textLength="118.2" lengthAdjust="spacingAndGlyphs">Mye cells</text>
<text x="1098.8" y="1041.0" font-size="27.3" textLength="26.2" lengthAdjust="spacingAndGlyphs">vs</text>
<text x="1150.0" y="1041.0" font-size="27.3" textLength="123.0" lengthAdjust="spacingAndGlyphs">sp-oHSCs</text>
<text x="1103.4" y="1391.5" font-size="28.3" textLength="237.0" lengthAdjust="spacingAndGlyphs" text-anchor="middle">Gene rank position</text>
<rect x="972.8" y="1429.4" width="308.5" height="18.6" fill="#e5e5e5" stroke="#2a2a2a" stroke-width="1.6" />
<line x1="968.8" y1="1438.7" x2="972.8" y2="1438.7" stroke="#000" stroke-width="1.3" />
<line x1="1123.7" y1="1430.4" x2="1123.7" y2="1447.0" stroke="#ea2a30" stroke-width="1.5" />
<line x1="1150.9" y1="1430.4" x2="1150.9" y2="1447.0" stroke="#ea2a30" stroke-width="1.5" />
<line x1="1162.0" y1="1430.4" x2="1162.0" y2="1447.0" stroke="#ea2a30" stroke-width="1.5" />
<line x1="1202.5" y1="1430.4" x2="1202.5" y2="1447.0" stroke="#ea2a30" stroke-width="1.5" />
<line x1="1229.2" y1="1430.4" x2="1229.2" y2="1447.0" stroke="#ea2a30" stroke-width="1.5" />
<text x="958.6" y="1447.7" font-size="28.3" textLength="81.2" lengthAdjust="spacingAndGlyphs" text-anchor="end">Gstm2</text>
<rect x="972.8" y="1459.2" width="308.5" height="19.1" fill="#e5e5e5" stroke="#2a2a2a" stroke-width="1.6" />
<line x1="968.8" y1="1468.8" x2="972.8" y2="1468.8" stroke="#000" stroke-width="1.3" />
<line x1="1139.3" y1="1460.2" x2="1139.3" y2="1477.3" stroke="#ea2a30" stroke-width="1.5" />
<line x1="1142.4" y1="1460.2" x2="1142.4" y2="1477.3" stroke="#ea2a30" stroke-width="1.5" />
<line x1="1184.7" y1="1460.2" x2="1184.7" y2="1477.3" stroke="#ea2a30" stroke-width="1.5" />
<line x1="1208.7" y1="1460.2" x2="1208.7" y2="1477.3" stroke="#ea2a30" stroke-width="1.5" />
<line x1="1211.0" y1="1460.2" x2="1211.0" y2="1477.3" stroke="#ea2a30" stroke-width="1.5" />
<text x="958.6" y="1478.9" font-size="28.3" textLength="64.4" lengthAdjust="spacingAndGlyphs" text-anchor="end">Ehd3</text>
<line x1="1017.3" y1="1478.3" x2="1017.3" y2="1482.8" stroke="#333" stroke-width="1.2" />
<text x="1016.3" y="1511.0" font-size="23.7" textLength="24.2" lengthAdjust="spacingAndGlyphs" text-anchor="middle">−2</text>
<line x1="1096.1" y1="1478.3" x2="1096.1" y2="1482.8" stroke="#333" stroke-width="1.2" />
<text x="1096.1" y="1511.0" font-size="23.7" textLength="13.6" lengthAdjust="spacingAndGlyphs" text-anchor="middle">0</text>
<line x1="1174.9" y1="1478.3" x2="1174.9" y2="1482.8" stroke="#333" stroke-width="1.2" />
<text x="1174.9" y="1511.0" font-size="23.7" textLength="13.6" lengthAdjust="spacingAndGlyphs" text-anchor="middle">2</text>
<line x1="1253.7" y1="1478.3" x2="1253.7" y2="1482.8" stroke="#333" stroke-width="1.2" />
<text x="1253.7" y="1511.0" font-size="23.7" textLength="13.6" lengthAdjust="spacingAndGlyphs" text-anchor="middle">4</text>
<text x="1075.4" y="1546.7" font-size="27.8" textLength="37.0" lengthAdjust="spacingAndGlyphs">log</text><text x="1112.3" y="1555.8" font-size="18.9" textLength="10.5" lengthAdjust="spacingAndGlyphs">2</text><text x="1122.8" y="1546.7" font-size="27.8" textLength="55.4" lengthAdjust="spacingAndGlyphs">(FC)</text>
<path d="M1446.8 1069.0L1503.0 1072.5M1457.0 1085.5L1516.2 1098.2M1467.0 1134.2L1526.2 1125.0M1477.0 1187.0L1532.0 1160.0M1507.0 1202.5L1564.2 1186.2M1536.8 1223.0L1590.0 1221.0M1497.0 1199.2L1487.5 1231.2" stroke="#999" stroke-width="2.3" stroke-dasharray="5.2 5.8" fill="none"/>
<path d="M1446.8 1069.0L1457.0 1085.5L1467.0 1134.2L1477.0 1187.0L1487.0 1195.5L1497.0 1199.2L1507.0 1202.5L1517.0 1218.8L1527.0 1221.5L1536.8 1223.0L1546.8 1238.8L1556.8 1242.8L1566.8 1243.5L1576.8 1245.5L1586.8 1248.2L1596.8 1250.8L1606.8 1251.8L1616.8 1261.8L1626.8 1262.8L1636.8 1265.0L1646.8 1267.2L1656.8 1284.0L1666.8 1285.2L1676.8 1288.8L1686.5 1289.8L1696.5 1297.0L1706.5 1298.2L1716.8 1300.2L1726.8 1302.2L1737.0 1305.0" fill="none" stroke="#000" stroke-width="2" stroke-linejoin="round"/>
<circle cx="1446.8" cy="1069.0" r="5.8" fill="#e41a1c" />
<circle cx="1457.0" cy="1085.5" r="5.8" fill="#377eb8" />
<circle cx="1467.0" cy="1134.2" r="5.8" fill="#4daf4a" />
<circle cx="1477.0" cy="1187.0" r="5.8" fill="#984ea3" />
<circle cx="1497.0" cy="1199.2" r="5.8" fill="#ff7f00" />
<circle cx="1507.0" cy="1202.5" r="5.8" fill="#a65628" />
<circle cx="1536.8" cy="1223.0" r="5.8" fill="#999999" />
<rect x="1436.0" y="1059.5" width="312.2" height="254.8" fill="none" stroke="#000" stroke-width="1.4" />
<line x1="1437.0" y1="1314.2" x2="1437.0" y2="1324.2" stroke="#000" stroke-width="1.3" />
<text x="1437.0" y="1353.5" font-size="23.7" textLength="13.7" lengthAdjust="spacingAndGlyphs" text-anchor="middle">0</text>
<line x1="1487.0" y1="1314.2" x2="1487.0" y2="1324.2" stroke="#000" stroke-width="1.3" />
<text x="1487.0" y="1353.5" font-size="23.7" textLength="13.7" lengthAdjust="spacingAndGlyphs" text-anchor="middle">5</text>
<line x1="1536.8" y1="1314.2" x2="1536.8" y2="1324.2" stroke="#000" stroke-width="1.3" />
<text x="1536.8" y="1353.5" font-size="23.7" textLength="25.0" lengthAdjust="spacingAndGlyphs" text-anchor="middle">10</text>
<line x1="1586.8" y1="1314.2" x2="1586.8" y2="1324.2" stroke="#000" stroke-width="1.3" />
<text x="1586.8" y="1353.5" font-size="23.7" textLength="25.0" lengthAdjust="spacingAndGlyphs" text-anchor="middle">15</text>
<line x1="1636.8" y1="1314.2" x2="1636.8" y2="1324.2" stroke="#000" stroke-width="1.3" />
<text x="1636.8" y="1353.5" font-size="23.7" textLength="27.5" lengthAdjust="spacingAndGlyphs" text-anchor="middle">20</text>
<line x1="1686.5" y1="1314.2" x2="1686.5" y2="1324.2" stroke="#000" stroke-width="1.3" />
<text x="1686.5" y="1353.5" font-size="23.7" textLength="27.5" lengthAdjust="spacingAndGlyphs" text-anchor="middle">25</text>
<line x1="1736.8" y1="1314.2" x2="1736.8" y2="1324.2" stroke="#000" stroke-width="1.3" />
<text x="1736.8" y="1353.5" font-size="23.7" textLength="27.5" lengthAdjust="spacingAndGlyphs" text-anchor="middle">30</text>
<line x1="1426.0" y1="1082.2" x2="1436.0" y2="1082.2" stroke="#000" stroke-width="1.3" />
<text x="1415.0" y="1090.8" font-size="23.7" textLength="49.8" lengthAdjust="spacingAndGlyphs" text-anchor="end">0.02</text>
<line x1="1426.0" y1="1134.5" x2="1436.0" y2="1134.5" stroke="#000" stroke-width="1.3" />
<text x="1415.0" y="1143.1" font-size="23.7" textLength="49.8" lengthAdjust="spacingAndGlyphs" text-anchor="end">0.05</text>
<line x1="1426.0" y1="1174.2" x2="1436.0" y2="1174.2" stroke="#000" stroke-width="1.3" />
<line x1="1426.0" y1="1214.0" x2="1436.0" y2="1214.0" stroke="#000" stroke-width="1.3" />
<text x="1415.0" y="1222.6" font-size="23.7" textLength="49.8" lengthAdjust="spacingAndGlyphs" text-anchor="end">0.20</text>
<line x1="1426.0" y1="1266.0" x2="1436.0" y2="1266.0" stroke="#000" stroke-width="1.3" />
<line x1="1426.0" y1="1305.8" x2="1436.0" y2="1305.8" stroke="#000" stroke-width="1.3" />
<text x="1415.0" y="1314.3" font-size="23.7" textLength="49.8" lengthAdjust="spacingAndGlyphs" text-anchor="end">1.00</text>
<text x="1505.0" y="1083.5" font-size="23.8" textLength="35.5" lengthAdjust="spacingAndGlyphs" style="fill:#e8141c">Clu</text>
<text x="1518.8" y="1108.0" font-size="23.8" textLength="56.6" lengthAdjust="spacingAndGlyphs">Cd38</text>
<text x="1529.2" y="1134.2" font-size="23.8" textLength="69.7" lengthAdjust="spacingAndGlyphs">Gstm2</text>
<text x="1533.8" y="1168.0" font-size="23.8" textLength="65.8" lengthAdjust="spacingAndGlyphs">Matn4</text>
<text x="1566.2" y="1194.2" font-size="23.8" textLength="65.8" lengthAdjust="spacingAndGlyphs">Tnfsf4</text>
<text x="1591.2" y="1230.2" font-size="23.8" textLength="117.2" lengthAdjust="spacingAndGlyphs">Non_target</text>
<text x="1460.8" y="1252.2" font-size="23.8" textLength="67.1" lengthAdjust="spacingAndGlyphs">Sphk2</text>
<text x="1435.5" y="1041.0" font-size="27.3" textLength="81.5" lengthAdjust="spacingAndGlyphs">B cells</text>
<text x="1558.8" y="1041.0" font-size="27.3" textLength="25.8" lengthAdjust="spacingAndGlyphs">vs</text>
<text x="1628.0" y="1041.0" font-size="27.3" textLength="118.2" lengthAdjust="spacingAndGlyphs">Mye cells</text>
<text x="1592.2" y="1392.2" font-size="28.3" textLength="237.0" lengthAdjust="spacingAndGlyphs" text-anchor="middle">Gene rank position</text>
<rect x="1437.1" y="1428.5" width="308.5" height="19.5" fill="#e5e5e5" stroke="#2a2a2a" stroke-width="1.6" />
<line x1="1433.1" y1="1438.2" x2="1437.1" y2="1438.2" stroke="#000" stroke-width="1.3" />
<line x1="1694.8" y1="1429.5" x2="1694.8" y2="1447.0" stroke="#ea2a30" stroke-width="1.5" />
<line x1="1706.0" y1="1429.5" x2="1706.0" y2="1447.0" stroke="#ea2a30" stroke-width="1.5" />
<line x1="1718.4" y1="1429.5" x2="1718.4" y2="1447.0" stroke="#ea2a30" stroke-width="1.5" />
<line x1="1727.3" y1="1429.5" x2="1727.3" y2="1447.0" stroke="#ea2a30" stroke-width="1.5" />
<line x1="1730.9" y1="1429.5" x2="1730.9" y2="1447.0" stroke="#ea2a30" stroke-width="1.5" />
<text x="1422.4" y="1446.4" font-size="28.3" textLength="41.4" lengthAdjust="spacingAndGlyphs" text-anchor="end">Clu</text>
<rect x="1437.1" y="1457.9" width="308.5" height="20.0" fill="#e5e5e5" stroke="#2a2a2a" stroke-width="1.6" />
<line x1="1433.1" y1="1467.9" x2="1437.1" y2="1467.9" stroke="#000" stroke-width="1.3" />
<line x1="1672.6" y1="1458.9" x2="1672.6" y2="1476.9" stroke="#ea2a30" stroke-width="1.5" />
<line x1="1674.0" y1="1458.9" x2="1674.0" y2="1476.9" stroke="#ea2a30" stroke-width="1.5" />
<line x1="1698.8" y1="1458.9" x2="1698.8" y2="1476.9" stroke="#ea2a30" stroke-width="1.5" />
<line x1="1716.2" y1="1458.9" x2="1716.2" y2="1476.9" stroke="#ea2a30" stroke-width="1.5" />
<line x1="1723.3" y1="1458.9" x2="1723.3" y2="1476.9" stroke="#ea2a30" stroke-width="1.5" />
<text x="1422.4" y="1477.1" font-size="28.3" textLength="65.9" lengthAdjust="spacingAndGlyphs" text-anchor="end">Cd38</text>
<line x1="1500.3" y1="1477.9" x2="1500.3" y2="1482.4" stroke="#333" stroke-width="1.2" />
<text x="1499.3" y="1511.0" font-size="23.7" textLength="24.2" lengthAdjust="spacingAndGlyphs" text-anchor="middle">−4</text>
<line x1="1586.7" y1="1477.9" x2="1586.7" y2="1482.4" stroke="#333" stroke-width="1.2" />
<text x="1586.7" y="1511.0" font-size="23.7" textLength="13.6" lengthAdjust="spacingAndGlyphs" text-anchor="middle">0</text>
<line x1="1672.6" y1="1477.9" x2="1672.6" y2="1482.4" stroke="#333" stroke-width="1.2" />
<text x="1672.6" y="1511.0" font-size="23.7" textLength="13.6" lengthAdjust="spacingAndGlyphs" text-anchor="middle">4</text>
<text x="1540.6" y="1546.7" font-size="27.8" textLength="37.0" lengthAdjust="spacingAndGlyphs">log</text><text x="1577.5" y="1555.8" font-size="18.9" textLength="10.5" lengthAdjust="spacingAndGlyphs">2</text><text x="1588.0" y="1546.7" font-size="27.8" textLength="55.4" lengthAdjust="spacingAndGlyphs">(FC)</text>
<path d="M1859.8 1067.9L1913.5 1070.4M1869.8 1096.1L1920.5 1098.6M1879.8 1160.3L1912.3 1131.8M1889.8 1179.8L1923.5 1158.0M1930.0 1205.2L1969.7 1195.5M1899.8 1184.3L1896.8 1214.7M2140.6 1297.9L2130.8 1262.2" stroke="#999" stroke-width="2.3" stroke-dasharray="5.2 5.8" fill="none"/>
<path d="M1859.8 1067.9L1869.8 1096.1L1879.8 1160.3L1889.8 1179.8L1899.8 1184.3L1910.0 1186.8L1920.0 1203.5L1930.0 1205.2L1940.0 1224.7L1950.0 1227.2L1960.0 1231.5L1970.2 1243.9L1980.2 1247.7L1990.2 1250.7L2000.2 1253.2L2010.2 1255.4L2020.2 1257.2L2030.2 1267.7L2040.2 1269.2L2050.4 1271.4L2060.4 1276.7L2070.4 1281.4L2080.4 1282.2L2090.4 1283.9L2100.3 1284.4L2110.3 1288.9L2120.6 1293.1L2130.6 1297.1L2140.6 1297.9L2150.8 1305.4" fill="none" stroke="#000" stroke-width="2" stroke-linejoin="round"/>
<circle cx="1859.8" cy="1067.9" r="5.8" fill="#e41a1c" />
<circle cx="1869.8" cy="1096.1" r="5.8" fill="#377eb8" />
<circle cx="1879.8" cy="1160.3" r="5.8" fill="#4daf4a" />
<circle cx="1889.8" cy="1179.8" r="5.8" fill="#984ea3" />
<circle cx="1899.8" cy="1184.3" r="5.8" fill="#ff7f00" />
<circle cx="1930.0" cy="1205.2" r="5.8" fill="#a65628" />
<circle cx="2140.6" cy="1297.9" r="5.8" fill="#999999" />
<rect x="1848.6" y="1058.9" width="312.9" height="255.0" fill="none" stroke="#000" stroke-width="1.4" />
<line x1="1849.9" y1="1313.9" x2="1849.9" y2="1323.9" stroke="#000" stroke-width="1.3" />
<text x="1849.9" y="1353.1" font-size="23.7" textLength="13.7" lengthAdjust="spacingAndGlyphs" text-anchor="middle">0</text>
<line x1="1899.8" y1="1313.9" x2="1899.8" y2="1323.9" stroke="#000" stroke-width="1.3" />
<text x="1899.8" y="1353.1" font-size="23.7" textLength="13.7" lengthAdjust="spacingAndGlyphs" text-anchor="middle">5</text>
<line x1="1950.0" y1="1313.9" x2="1950.0" y2="1323.9" stroke="#000" stroke-width="1.3" />
<text x="1950.0" y="1353.1" font-size="23.7" textLength="25.0" lengthAdjust="spacingAndGlyphs" text-anchor="middle">10</text>
<line x1="2000.2" y1="1313.9" x2="2000.2" y2="1323.9" stroke="#000" stroke-width="1.3" />
<text x="2000.2" y="1353.1" font-size="23.7" textLength="25.0" lengthAdjust="spacingAndGlyphs" text-anchor="middle">15</text>
<line x1="2050.4" y1="1313.9" x2="2050.4" y2="1323.9" stroke="#000" stroke-width="1.3" />
<text x="2050.4" y="1353.1" font-size="23.7" textLength="27.5" lengthAdjust="spacingAndGlyphs" text-anchor="middle">20</text>
<line x1="2100.3" y1="1313.9" x2="2100.3" y2="1323.9" stroke="#000" stroke-width="1.3" />
<text x="2100.3" y="1353.1" font-size="23.7" textLength="27.5" lengthAdjust="spacingAndGlyphs" text-anchor="middle">25</text>
<line x1="2150.5" y1="1313.9" x2="2150.5" y2="1323.9" stroke="#000" stroke-width="1.3" />
<text x="2150.5" y="1353.1" font-size="23.7" textLength="27.5" lengthAdjust="spacingAndGlyphs" text-anchor="middle">30</text>
<line x1="1838.6" y1="1074.1" x2="1848.6" y2="1074.1" stroke="#000" stroke-width="1.3" />
<text x="1827.9" y="1082.7" font-size="23.7" textLength="49.8" lengthAdjust="spacingAndGlyphs" text-anchor="end">0.05</text>
<line x1="1838.6" y1="1129.1" x2="1848.6" y2="1129.1" stroke="#000" stroke-width="1.3" />
<text x="1827.9" y="1137.7" font-size="23.7" textLength="49.8" lengthAdjust="spacingAndGlyphs" text-anchor="end">0.10</text>
<line x1="1838.6" y1="1183.5" x2="1848.6" y2="1183.5" stroke="#000" stroke-width="1.3" />
<text x="1827.9" y="1192.1" font-size="23.7" textLength="49.8" lengthAdjust="spacingAndGlyphs" text-anchor="end">0.20</text>
<line x1="1838.6" y1="1256.2" x2="1848.6" y2="1256.2" stroke="#000" stroke-width="1.3" />
<text x="1827.9" y="1264.8" font-size="23.7" textLength="49.8" lengthAdjust="spacingAndGlyphs" text-anchor="end">0.50</text>
<line x1="1838.6" y1="1310.9" x2="1848.6" y2="1310.9" stroke="#000" stroke-width="1.3" />
<text x="1827.9" y="1319.5" font-size="23.7" textLength="49.8" lengthAdjust="spacingAndGlyphs" text-anchor="end">1.00</text>
<text x="1916.5" y="1082.1" font-size="23.8" textLength="35.5" lengthAdjust="spacingAndGlyphs" style="fill:#e8141c">Clu</text>
<text x="1922.3" y="1109.1" font-size="23.8" textLength="48.7" lengthAdjust="spacingAndGlyphs">Hsf1</text>
<text x="1913.0" y="1137.0" font-size="23.8" textLength="51.3" lengthAdjust="spacingAndGlyphs">Rarb</text>
<text x="1925.5" y="1164.0" font-size="23.8" textLength="67.1" lengthAdjust="spacingAndGlyphs">Sphk2</text>
<text x="1971.7" y="1202.0" font-size="23.8" textLength="39.5" lengthAdjust="spacingAndGlyphs">Vwf</text>
<text x="1866.1" y="1237.0" font-size="23.8" textLength="56.6" lengthAdjust="spacingAndGlyphs">Cd38</text>
<text x="2036.4" y="1254.9" font-size="23.8" textLength="117.2" lengthAdjust="spacingAndGlyphs">Non_target</text>
<text x="1856.1" y="1041.0" font-size="27.3" textLength="80.0" lengthAdjust="spacingAndGlyphs">T cells</text>
<text x="1976.7" y="1041.0" font-size="27.3" textLength="25.5" lengthAdjust="spacingAndGlyphs">vs</text>
<text x="2037.7" y="1041.0" font-size="27.3" textLength="117.3" lengthAdjust="spacingAndGlyphs">Mye cells</text>
<text x="2002.0" y="1391.8" font-size="28.3" textLength="237.0" lengthAdjust="spacingAndGlyphs" text-anchor="middle">Gene rank position</text>
<rect x="1850.6" y="1427.2" width="308.5" height="19.1" fill="#e5e5e5" stroke="#2a2a2a" stroke-width="1.6" />
<line x1="1846.6" y1="1436.8" x2="1850.6" y2="1436.8" stroke="#000" stroke-width="1.3" />
<line x1="2089.2" y1="1428.2" x2="2089.2" y2="1445.3" stroke="#ea2a30" stroke-width="1.5" />
<line x1="2091.0" y1="1428.2" x2="2091.0" y2="1445.3" stroke="#ea2a30" stroke-width="1.5" />
<line x1="2098.6" y1="1428.2" x2="2098.6" y2="1445.3" stroke="#ea2a30" stroke-width="1.5" />
<line x1="2129.3" y1="1428.2" x2="2129.3" y2="1445.3" stroke="#ea2a30" stroke-width="1.5" />
<line x1="2131.5" y1="1428.2" x2="2131.5" y2="1445.3" stroke="#ea2a30" stroke-width="1.5" />
<text x="1835.9" y="1444.6" font-size="28.3" textLength="41.4" lengthAdjust="spacingAndGlyphs" text-anchor="end">Clu</text>
<rect x="1850.6" y="1457.9" width="308.5" height="18.7" fill="#e5e5e5" stroke="#2a2a2a" stroke-width="1.6" />
<line x1="1846.6" y1="1467.2" x2="1850.6" y2="1467.2" stroke="#000" stroke-width="1.3" />
<line x1="2027.3" y1="1458.9" x2="2027.3" y2="1475.6" stroke="#ea2a30" stroke-width="1.5" />
<line x1="2045.6" y1="1458.9" x2="2045.6" y2="1475.6" stroke="#ea2a30" stroke-width="1.5" />
<line x1="2070.1" y1="1458.9" x2="2070.1" y2="1475.6" stroke="#ea2a30" stroke-width="1.5" />
<line x1="2089.7" y1="1458.9" x2="2089.7" y2="1475.6" stroke="#ea2a30" stroke-width="1.5" />
<line x1="2099.5" y1="1458.9" x2="2099.5" y2="1475.6" stroke="#ea2a30" stroke-width="1.5" />
<text x="1835.9" y="1475.3" font-size="28.3" textLength="65.9" lengthAdjust="spacingAndGlyphs" text-anchor="end">Cd38</text>
<line x1="1880.9" y1="1476.6" x2="1880.9" y2="1481.1" stroke="#333" stroke-width="1.2" />
<text x="1879.9" y="1511.0" font-size="23.7" textLength="24.2" lengthAdjust="spacingAndGlyphs" text-anchor="middle">−4</text>
<line x1="1953.9" y1="1476.6" x2="1953.9" y2="1481.1" stroke="#333" stroke-width="1.2" />
<text x="1952.9" y="1511.0" font-size="23.7" textLength="24.2" lengthAdjust="spacingAndGlyphs" text-anchor="middle">−2</text>
<line x1="2026.9" y1="1476.6" x2="2026.9" y2="1481.1" stroke="#333" stroke-width="1.2" />
<text x="2026.9" y="1511.0" font-size="23.7" textLength="13.6" lengthAdjust="spacingAndGlyphs" text-anchor="middle">0</text>
<line x1="2099.5" y1="1476.6" x2="2099.5" y2="1481.1" stroke="#333" stroke-width="1.2" />
<text x="2099.5" y="1511.0" font-size="23.7" textLength="13.6" lengthAdjust="spacingAndGlyphs" text-anchor="middle">2</text>
<text x="1953.7" y="1546.7" font-size="27.8" textLength="37.0" lengthAdjust="spacingAndGlyphs">log</text><text x="1990.6" y="1555.8" font-size="18.9" textLength="10.5" lengthAdjust="spacingAndGlyphs">2</text><text x="2001.1" y="1546.7" font-size="27.8" textLength="55.4" lengthAdjust="spacingAndGlyphs">(FC)</text>
<path d="M165.0 1661.2L225.0 1666.2M170.5 1668.0L226.2 1696.2M180.5 1702.5L228.8 1721.2M200.8 1746.2L255.0 1756.2M231.2 1811.2L271.2 1791.2M372.8 1864.8L385.0 1832.5M221.0 1807.5L195.0 1832.5" stroke="#999" stroke-width="2.3" stroke-dasharray="5.2 5.8" fill="none"/>
<path d="M160.0 1664.2L170.5 1668.0L180.5 1702.5L190.8 1741.2L200.8 1746.2L211.0 1766.2L221.0 1807.5L231.2 1811.2L241.2 1812.5L251.5 1827.0L261.8 1833.2L271.8 1834.2L282.0 1842.5L292.0 1849.8L302.0 1851.0L312.2 1852.5L322.2 1853.8L332.5 1855.5L342.5 1856.5L352.5 1858.0L362.8 1861.2L372.8 1864.8L383.0 1872.5L393.0 1881.8L403.0 1888.2L413.2 1895.2L423.2 1899.0L433.5 1901.2L443.8 1901.8L454.0 1903.8" fill="none" stroke="#000" stroke-width="2" stroke-linejoin="round"/>
<circle cx="160.0" cy="1664.2" r="5.8" fill="#e41a1c" />
<circle cx="170.5" cy="1668.0" r="5.8" fill="#377eb8" />
<circle cx="180.5" cy="1702.5" r="5.8" fill="#4daf4a" />
<circle cx="200.8" cy="1746.2" r="5.8" fill="#984ea3" />
<circle cx="221.0" cy="1807.5" r="5.8" fill="#ff7f00" />
<circle cx="231.2" cy="1811.2" r="5.8" fill="#a65628" />
<circle cx="372.8" cy="1864.8" r="5.8" fill="#999999" />
<rect x="149.0" y="1654.2" width="316.5" height="258.2" fill="none" stroke="#000" stroke-width="1.4" />
<line x1="150.0" y1="1912.5" x2="150.0" y2="1922.5" stroke="#000" stroke-width="1.3" />
<text x="150.0" y="1951.0" font-size="23.7" textLength="13.7" lengthAdjust="spacingAndGlyphs" text-anchor="middle">0</text>
<line x1="200.8" y1="1912.5" x2="200.8" y2="1922.5" stroke="#000" stroke-width="1.3" />
<text x="200.8" y="1951.0" font-size="23.7" textLength="13.7" lengthAdjust="spacingAndGlyphs" text-anchor="middle">5</text>
<line x1="251.5" y1="1912.5" x2="251.5" y2="1922.5" stroke="#000" stroke-width="1.3" />
<text x="251.5" y="1951.0" font-size="23.7" textLength="25.0" lengthAdjust="spacingAndGlyphs" text-anchor="middle">10</text>
<line x1="302.0" y1="1912.5" x2="302.0" y2="1922.5" stroke="#000" stroke-width="1.3" />
<text x="302.0" y="1951.0" font-size="23.7" textLength="25.0" lengthAdjust="spacingAndGlyphs" text-anchor="middle">15</text>
<line x1="352.5" y1="1912.5" x2="352.5" y2="1922.5" stroke="#000" stroke-width="1.3" />
<text x="352.5" y="1951.0" font-size="23.7" textLength="27.5" lengthAdjust="spacingAndGlyphs" text-anchor="middle">20</text>
<line x1="403.0" y1="1912.5" x2="403.0" y2="1922.5" stroke="#000" stroke-width="1.3" />
<text x="403.0" y="1951.0" font-size="23.7" textLength="27.5" lengthAdjust="spacingAndGlyphs" text-anchor="middle">25</text>
<line x1="453.8" y1="1912.5" x2="453.8" y2="1922.5" stroke="#000" stroke-width="1.3" />
<text x="453.8" y="1951.0" font-size="23.7" textLength="27.5" lengthAdjust="spacingAndGlyphs" text-anchor="middle">30</text>
<line x1="139.0" y1="1681.5" x2="149.0" y2="1681.5" stroke="#000" stroke-width="1.3" />
<text x="129.2" y="1690.1" font-size="23.7" textLength="49.8" lengthAdjust="spacingAndGlyphs" text-anchor="end">0.02</text>
<line x1="139.0" y1="1735.0" x2="149.0" y2="1735.0" stroke="#000" stroke-width="1.3" />
<text x="129.2" y="1743.6" font-size="23.7" textLength="49.8" lengthAdjust="spacingAndGlyphs" text-anchor="end">0.05</text>
<line x1="139.0" y1="1774.5" x2="149.0" y2="1774.5" stroke="#000" stroke-width="1.3" />
<line x1="139.0" y1="1814.8" x2="149.0" y2="1814.8" stroke="#000" stroke-width="1.3" />
<text x="129.2" y="1823.3" font-size="23.7" textLength="49.8" lengthAdjust="spacingAndGlyphs" text-anchor="end">0.20</text>
<line x1="139.0" y1="1868.0" x2="149.0" y2="1868.0" stroke="#000" stroke-width="1.3" />
<line x1="139.0" y1="1907.5" x2="149.0" y2="1907.5" stroke="#000" stroke-width="1.3" />
<text x="129.2" y="1916.1" font-size="23.7" textLength="49.8" lengthAdjust="spacingAndGlyphs" text-anchor="end">1.00</text>
<text x="227.0" y="1677.2" font-size="23.8" textLength="69.7" lengthAdjust="spacingAndGlyphs">Gstm2</text>
<text x="228.8" y="1707.2" font-size="23.8" textLength="35.5" lengthAdjust="spacingAndGlyphs" style="fill:#e8141c">Clu</text>
<text x="230.5" y="1733.0" font-size="23.8" textLength="56.6" lengthAdjust="spacingAndGlyphs">Cd38</text>
<text x="257.0" y="1767.2" font-size="23.8" textLength="67.1" lengthAdjust="spacingAndGlyphs">Sphk2</text>
<text x="269.5" y="1800.5" font-size="23.8" textLength="65.8" lengthAdjust="spacingAndGlyphs">Tnfsf4</text>
<text x="327.5" y="1827.2" font-size="23.8" textLength="117.2" lengthAdjust="spacingAndGlyphs">Non_target</text>
<text x="162.5" y="1854.2" font-size="23.8" textLength="50.0" lengthAdjust="spacingAndGlyphs">Tc2n</text>
<text x="148.8" y="1632.2" font-size="27.3" textLength="80.6" lengthAdjust="spacingAndGlyphs">B cells</text>
<text x="267.0" y="1632.2" font-size="27.3" textLength="25.5" lengthAdjust="spacingAndGlyphs">vs</text>
<text x="326.8" y="1632.2" font-size="27.3" textLength="125.8" lengthAdjust="spacingAndGlyphs">ep-oHSCs</text>
<text x="305.4" y="1988.5" font-size="28.3" textLength="237.0" lengthAdjust="spacingAndGlyphs" text-anchor="middle">Gene rank position</text>
<rect x="170.8" y="2030.7" width="294.7" height="18.7" fill="#e5e5e5" stroke="#2a2a2a" stroke-width="1.6" />
<line x1="166.8" y1="2040.1" x2="170.8" y2="2040.1" stroke="#000" stroke-width="1.3" />
<line x1="402.3" y1="2031.7" x2="402.3" y2="2048.4" stroke="#ea2a30" stroke-width="1.5" />
<line x1="409.4" y1="2031.7" x2="409.4" y2="2048.4" stroke="#ea2a30" stroke-width="1.5" />
<line x1="433.0" y1="2031.7" x2="433.0" y2="2048.4" stroke="#ea2a30" stroke-width="1.5" />
<line x1="446.4" y1="2031.7" x2="446.4" y2="2048.4" stroke="#ea2a30" stroke-width="1.5" />
<text x="156.6" y="2048.6" font-size="28.3" textLength="41.4" lengthAdjust="spacingAndGlyphs" text-anchor="end">Clu</text>
<rect x="170.8" y="2058.8" width="294.7" height="18.7" fill="#e5e5e5" stroke="#2a2a2a" stroke-width="1.6" />
<line x1="166.8" y1="2068.2" x2="170.8" y2="2068.2" stroke="#000" stroke-width="1.3" />
<line x1="372.5" y1="2059.8" x2="372.5" y2="2076.5" stroke="#ea2a30" stroke-width="1.5" />
<line x1="403.2" y1="2059.8" x2="403.2" y2="2076.5" stroke="#ea2a30" stroke-width="1.5" />
<line x1="416.1" y1="2059.8" x2="416.1" y2="2076.5" stroke="#ea2a30" stroke-width="1.5" />
<line x1="429.0" y1="2059.8" x2="429.0" y2="2076.5" stroke="#ea2a30" stroke-width="1.5" />
<line x1="441.0" y1="2059.8" x2="441.0" y2="2076.5" stroke="#ea2a30" stroke-width="1.5" />
<text x="156.6" y="2077.6" font-size="28.3" textLength="65.9" lengthAdjust="spacingAndGlyphs" text-anchor="end">Cd38</text>
<line x1="233.6" y1="2077.5" x2="233.6" y2="2082.0" stroke="#333" stroke-width="1.2" />
<text x="232.6" y="2111.3" font-size="23.7" textLength="24.2" lengthAdjust="spacingAndGlyphs" text-anchor="middle">−4</text>
<line x1="316.4" y1="2077.5" x2="316.4" y2="2082.0" stroke="#333" stroke-width="1.2" />
<text x="316.4" y="2111.3" font-size="23.7" textLength="13.6" lengthAdjust="spacingAndGlyphs" text-anchor="middle">0</text>
<line x1="398.7" y1="2077.5" x2="398.7" y2="2082.0" stroke="#333" stroke-width="1.2" />
<text x="398.7" y="2111.3" font-size="23.7" textLength="13.6" lengthAdjust="spacingAndGlyphs" text-anchor="middle">4</text>
<text x="263.6" y="2144.3" font-size="27.8" textLength="37.0" lengthAdjust="spacingAndGlyphs">log</text><text x="300.5" y="2153.4" font-size="18.9" textLength="10.5" lengthAdjust="spacingAndGlyphs">2</text><text x="311.0" y="2144.3" font-size="27.8" textLength="55.4" lengthAdjust="spacingAndGlyphs">(FC)</text>
<path d="M587.5 1665.8L639.5 1671.2M607.8 1714.5L652.5 1701.8M637.8 1757.5L669.5 1729.2M678.5 1783.0L711.2 1773.2M597.5 1713.8L611.2 1773.8M649.8 1760.8L656.2 1796.2M869.2 1900.0L837.5 1860.0" stroke="#999" stroke-width="2.3" stroke-dasharray="5.2 5.8" fill="none"/>
<path d="M587.5 1665.8L597.5 1713.8L607.8 1714.5L617.8 1736.2L627.8 1757.5L637.8 1757.5L649.8 1760.8L658.0 1772.0L668.0 1777.5L678.5 1783.0L688.8 1798.8L698.2 1820.0L708.2 1830.0L718.2 1831.2L728.2 1837.0L738.5 1842.0L748.5 1857.0L758.5 1858.8L768.8 1870.5L778.5 1875.8L788.8 1878.5L798.8 1879.5L808.8 1881.2L819.0 1889.5L829.0 1890.8L839.0 1892.5L849.0 1894.2L859.2 1896.8L869.2 1900.0L879.5 1903.8" fill="none" stroke="#000" stroke-width="2" stroke-linejoin="round"/>
<circle cx="587.5" cy="1665.8" r="5.8" fill="#e41a1c" />
<circle cx="597.5" cy="1713.8" r="5.8" fill="#377eb8" />
<circle cx="607.8" cy="1714.5" r="5.8" fill="#4daf4a" />
<circle cx="637.8" cy="1757.5" r="5.8" fill="#984ea3" />
<circle cx="649.8" cy="1760.8" r="5.8" fill="#ff7f00" />
<circle cx="678.5" cy="1783.0" r="5.8" fill="#a65628" />
<circle cx="869.2" cy="1900.0" r="5.8" fill="#999999" />
<rect x="576.2" y="1655.8" width="314.2" height="256.8" fill="none" stroke="#000" stroke-width="1.4" />
<line x1="577.5" y1="1912.5" x2="577.5" y2="1922.5" stroke="#000" stroke-width="1.3" />
<text x="577.5" y="1951.0" font-size="23.7" textLength="13.7" lengthAdjust="spacingAndGlyphs" text-anchor="middle">0</text>
<line x1="627.8" y1="1912.5" x2="627.8" y2="1922.5" stroke="#000" stroke-width="1.3" />
<text x="627.8" y="1951.0" font-size="23.7" textLength="13.7" lengthAdjust="spacingAndGlyphs" text-anchor="middle">5</text>
<line x1="678.0" y1="1912.5" x2="678.0" y2="1922.5" stroke="#000" stroke-width="1.3" />
<text x="678.0" y="1951.0" font-size="23.7" textLength="25.0" lengthAdjust="spacingAndGlyphs" text-anchor="middle">10</text>
<line x1="728.2" y1="1912.5" x2="728.2" y2="1922.5" stroke="#000" stroke-width="1.3" />
<text x="728.2" y="1951.0" font-size="23.7" textLength="25.0" lengthAdjust="spacingAndGlyphs" text-anchor="middle">15</text>
<line x1="778.5" y1="1912.5" x2="778.5" y2="1922.5" stroke="#000" stroke-width="1.3" />
<text x="778.5" y="1951.0" font-size="23.7" textLength="27.5" lengthAdjust="spacingAndGlyphs" text-anchor="middle">20</text>
<line x1="829.0" y1="1912.5" x2="829.0" y2="1922.5" stroke="#000" stroke-width="1.3" />
<text x="829.0" y="1951.0" font-size="23.7" textLength="27.5" lengthAdjust="spacingAndGlyphs" text-anchor="middle">25</text>
<line x1="879.2" y1="1912.5" x2="879.2" y2="1922.5" stroke="#000" stroke-width="1.3" />
<text x="879.2" y="1951.0" font-size="23.7" textLength="27.5" lengthAdjust="spacingAndGlyphs" text-anchor="middle">30</text>
<line x1="566.2" y1="1668.8" x2="576.2" y2="1668.8" stroke="#000" stroke-width="1.3" />
<text x="555.5" y="1677.3" font-size="23.7" textLength="49.8" lengthAdjust="spacingAndGlyphs" text-anchor="end">0.05</text>
<line x1="566.2" y1="1724.8" x2="576.2" y2="1724.8" stroke="#000" stroke-width="1.3" />
<text x="555.5" y="1733.3" font-size="23.7" textLength="49.8" lengthAdjust="spacingAndGlyphs" text-anchor="end">0.10</text>
<line x1="566.2" y1="1781.0" x2="576.2" y2="1781.0" stroke="#000" stroke-width="1.3" />
<text x="555.5" y="1789.6" font-size="23.7" textLength="49.8" lengthAdjust="spacingAndGlyphs" text-anchor="end">0.20</text>
<line x1="566.2" y1="1855.5" x2="576.2" y2="1855.5" stroke="#000" stroke-width="1.3" />
<text x="555.5" y="1864.1" font-size="23.7" textLength="49.8" lengthAdjust="spacingAndGlyphs" text-anchor="end">0.50</text>
<line x1="566.2" y1="1911.8" x2="576.2" y2="1911.8" stroke="#000" stroke-width="1.3" />
<text x="555.5" y="1920.3" font-size="23.7" textLength="49.8" lengthAdjust="spacingAndGlyphs" text-anchor="end">1.00</text>
<text x="641.8" y="1680.5" font-size="23.8" textLength="35.5" lengthAdjust="spacingAndGlyphs" style="fill:#e8141c">Clu</text>
<text x="655.0" y="1708.5" font-size="23.8" textLength="69.7" lengthAdjust="spacingAndGlyphs">Gstm2</text>
<text x="671.8" y="1736.0" font-size="23.8" textLength="39.5" lengthAdjust="spacingAndGlyphs">Vwf</text>
<text x="713.8" y="1782.2" font-size="23.8" textLength="55.3" lengthAdjust="spacingAndGlyphs">Ehd3</text>
<text x="579.2" y="1795.2" font-size="23.8" textLength="67.1" lengthAdjust="spacingAndGlyphs">Sphk2</text>
<text x="608.2" y="1821.8" font-size="23.8" textLength="82.9" lengthAdjust="spacingAndGlyphs">Dnmt3a</text>
<text x="757.5" y="1856.0" font-size="23.8" textLength="117.2" lengthAdjust="spacingAndGlyphs">Non_target</text>
<text x="580.8" y="1637.2" font-size="27.3" textLength="80.0" lengthAdjust="spacingAndGlyphs">T cells</text>
<text x="695.0" y="1637.2" font-size="27.3" textLength="26.2" lengthAdjust="spacingAndGlyphs">vs</text>
<text x="755.0" y="1637.2" font-size="27.3" textLength="125.0" lengthAdjust="spacingAndGlyphs">ep-oHSCs</text>
<text x="733.4" y="1988.5" font-size="28.3" textLength="237.0" lengthAdjust="spacingAndGlyphs" text-anchor="middle">Gene rank position</text>
<rect x="576.4" y="2030.7" width="292.4" height="18.7" fill="#e5e5e5" stroke="#2a2a2a" stroke-width="1.6" />
<line x1="572.4" y1="2040.1" x2="576.4" y2="2040.1" stroke="#000" stroke-width="1.3" />
<line x1="761.1" y1="2031.7" x2="761.1" y2="2048.4" stroke="#ea2a30" stroke-width="1.5" />
<line x1="788.7" y1="2031.7" x2="788.7" y2="2048.4" stroke="#ea2a30" stroke-width="1.5" />
<line x1="801.1" y1="2031.7" x2="801.1" y2="2048.4" stroke="#ea2a30" stroke-width="1.5" />
<line x1="817.2" y1="2031.7" x2="817.2" y2="2048.4" stroke="#ea2a30" stroke-width="1.5" />
<line x1="833.6" y1="2031.7" x2="833.6" y2="2048.4" stroke="#ea2a30" stroke-width="1.5" />
<text x="560.5" y="2047.7" font-size="28.3" textLength="41.4" lengthAdjust="spacingAndGlyphs" text-anchor="end">Clu</text>
<rect x="576.4" y="2057.9" width="292.4" height="18.7" fill="#e5e5e5" stroke="#2a2a2a" stroke-width="1.6" />
<line x1="572.4" y1="2067.2" x2="576.4" y2="2067.2" stroke="#000" stroke-width="1.3" />
<line x1="729.9" y1="2058.9" x2="729.9" y2="2075.6" stroke="#5b9bd5" stroke-width="1.5" />
<line x1="777.1" y1="2058.9" x2="777.1" y2="2075.6" stroke="#ea2a30" stroke-width="1.5" />
<line x1="796.7" y1="2058.9" x2="796.7" y2="2075.6" stroke="#ea2a30" stroke-width="1.5" />
<line x1="810.1" y1="2058.9" x2="810.1" y2="2075.6" stroke="#ea2a30" stroke-width="1.5" />
<line x1="820.3" y1="2058.9" x2="820.3" y2="2075.6" stroke="#ea2a30" stroke-width="1.5" />
<text x="560.5" y="2077.6" font-size="28.3" textLength="78.2" lengthAdjust="spacingAndGlyphs" text-anchor="end">Sphk2</text>
<line x1="603.1" y1="2076.6" x2="603.1" y2="2081.1" stroke="#333" stroke-width="1.2" />
<text x="602.1" y="2111.3" font-size="23.7" textLength="24.2" lengthAdjust="spacingAndGlyphs" text-anchor="middle">−4</text>
<line x1="672.5" y1="2076.6" x2="672.5" y2="2081.1" stroke="#333" stroke-width="1.2" />
<text x="671.5" y="2111.3" font-size="23.7" textLength="24.2" lengthAdjust="spacingAndGlyphs" text-anchor="middle">−2</text>
<line x1="741.1" y1="2076.6" x2="741.1" y2="2081.1" stroke="#333" stroke-width="1.2" />
<text x="741.1" y="2111.3" font-size="23.7" textLength="13.6" lengthAdjust="spacingAndGlyphs" text-anchor="middle">0</text>
<line x1="811.0" y1="2076.6" x2="811.0" y2="2081.1" stroke="#333" stroke-width="1.2" />
<text x="811.0" y="2111.3" font-size="23.7" textLength="13.6" lengthAdjust="spacingAndGlyphs" text-anchor="middle">2</text>
<text x="667.4" y="2144.3" font-size="27.8" textLength="37.0" lengthAdjust="spacingAndGlyphs">log</text><text x="704.3" y="2153.4" font-size="18.9" textLength="10.5" lengthAdjust="spacingAndGlyphs">2</text><text x="714.8" y="2144.3" font-size="27.8" textLength="55.4" lengthAdjust="spacingAndGlyphs">(FC)</text>
<path d="M989.0 1666.2L1047.0 1669.5M999.0 1775.8L1032.0 1738.0M1009.0 1785.5L1066.2 1758.0M1029.0 1799.5L1074.5 1783.0M1039.0 1803.0L1087.5 1810.0M1019.0 1789.5L1012.5 1830.0M1270.0 1902.0L1254.2 1861.2" stroke="#999" stroke-width="2.3" stroke-dasharray="5.2 5.8" fill="none"/>
<path d="M989.0 1666.2L999.0 1775.8L1009.0 1785.5L1019.0 1789.5L1029.0 1799.5L1039.0 1803.0L1049.2 1812.5L1059.2 1826.2L1069.2 1838.8L1079.2 1840.0L1089.2 1844.0L1099.2 1847.5L1109.2 1848.8L1119.5 1852.5L1129.5 1855.8L1139.5 1861.8L1149.5 1865.5L1159.5 1866.2L1169.5 1869.2L1179.5 1875.5L1189.5 1876.2L1199.8 1882.5L1209.8 1886.8L1219.8 1890.5L1229.8 1892.5L1239.8 1894.2L1249.8 1895.2L1260.0 1902.0L1270.0 1902.0L1280.5 1903.8" fill="none" stroke="#000" stroke-width="2" stroke-linejoin="round"/>
<circle cx="989.0" cy="1666.2" r="5.8" fill="#e41a1c" />
<circle cx="999.0" cy="1775.8" r="5.8" fill="#377eb8" />
<circle cx="1009.0" cy="1785.5" r="5.8" fill="#4daf4a" />
<circle cx="1019.0" cy="1789.5" r="5.8" fill="#984ea3" />
<circle cx="1029.0" cy="1799.5" r="5.8" fill="#ff7f00" />
<circle cx="1039.0" cy="1803.0" r="5.8" fill="#a65628" />
<circle cx="1270.0" cy="1902.0" r="5.8" fill="#999999" />
<rect x="977.5" y="1656.2" width="314.2" height="256.2" fill="none" stroke="#000" stroke-width="1.4" />
<line x1="979.0" y1="1912.5" x2="979.0" y2="1922.5" stroke="#000" stroke-width="1.3" />
<text x="979.0" y="1951.0" font-size="23.7" textLength="13.7" lengthAdjust="spacingAndGlyphs" text-anchor="middle">0</text>
<line x1="1029.0" y1="1912.5" x2="1029.0" y2="1922.5" stroke="#000" stroke-width="1.3" />
<text x="1029.0" y="1951.0" font-size="23.7" textLength="13.7" lengthAdjust="spacingAndGlyphs" text-anchor="middle">5</text>
<line x1="1079.2" y1="1912.5" x2="1079.2" y2="1922.5" stroke="#000" stroke-width="1.3" />
<text x="1079.2" y="1951.0" font-size="23.7" textLength="25.0" lengthAdjust="spacingAndGlyphs" text-anchor="middle">10</text>
<line x1="1129.5" y1="1912.5" x2="1129.5" y2="1922.5" stroke="#000" stroke-width="1.3" />
<text x="1129.5" y="1951.0" font-size="23.7" textLength="25.0" lengthAdjust="spacingAndGlyphs" text-anchor="middle">15</text>
<line x1="1179.5" y1="1912.5" x2="1179.5" y2="1922.5" stroke="#000" stroke-width="1.3" />
<text x="1179.5" y="1951.0" font-size="23.7" textLength="27.5" lengthAdjust="spacingAndGlyphs" text-anchor="middle">20</text>
<line x1="1229.8" y1="1912.5" x2="1229.8" y2="1922.5" stroke="#000" stroke-width="1.3" />
<text x="1229.8" y="1951.0" font-size="23.7" textLength="27.5" lengthAdjust="spacingAndGlyphs" text-anchor="middle">25</text>
<line x1="1280.0" y1="1912.5" x2="1280.0" y2="1922.5" stroke="#000" stroke-width="1.3" />
<text x="1280.0" y="1951.0" font-size="23.7" textLength="27.5" lengthAdjust="spacingAndGlyphs" text-anchor="middle">30</text>
<line x1="967.5" y1="1656.2" x2="977.5" y2="1656.2" stroke="#000" stroke-width="1.3" />
<text x="955.8" y="1664.8" font-size="23.7" textLength="49.8" lengthAdjust="spacingAndGlyphs" text-anchor="end">0.05</text>
<line x1="967.5" y1="1717.0" x2="977.5" y2="1717.0" stroke="#000" stroke-width="1.3" />
<text x="955.8" y="1725.6" font-size="23.7" textLength="49.8" lengthAdjust="spacingAndGlyphs" text-anchor="end">0.10</text>
<line x1="967.5" y1="1777.8" x2="977.5" y2="1777.8" stroke="#000" stroke-width="1.3" />
<text x="955.8" y="1786.3" font-size="23.7" textLength="49.8" lengthAdjust="spacingAndGlyphs" text-anchor="end">0.20</text>
<line x1="967.5" y1="1857.0" x2="977.5" y2="1857.0" stroke="#000" stroke-width="1.3" />
<text x="955.8" y="1865.6" font-size="23.7" textLength="49.8" lengthAdjust="spacingAndGlyphs" text-anchor="end">0.50</text>
<text x="1049.5" y="1679.0" font-size="23.8" textLength="51.3" lengthAdjust="spacingAndGlyphs">Gem</text>
<text x="1035.0" y="1740.2" font-size="23.8" textLength="47.4" lengthAdjust="spacingAndGlyphs">Selp</text>
<text x="1068.0" y="1765.2" font-size="23.8" textLength="67.1" lengthAdjust="spacingAndGlyphs">Sphk2</text>
<text x="1075.8" y="1794.0" font-size="23.8" textLength="39.5" lengthAdjust="spacingAndGlyphs">Vwf</text>
<text x="1090.0" y="1818.0" font-size="23.8" textLength="69.7" lengthAdjust="spacingAndGlyphs">Gstm2</text>
<text x="984.5" y="1855.5" font-size="23.8" textLength="65.8" lengthAdjust="spacingAndGlyphs">Tnfsf4</text>
<text x="1157.0" y="1855.5" font-size="23.8" textLength="117.2" lengthAdjust="spacingAndGlyphs">Non_target</text>
<text x="975.8" y="1637.2" font-size="27.3" textLength="117.5" lengthAdjust="spacingAndGlyphs">Mye cells</text>
<text x="1117.5" y="1637.2" font-size="27.3" textLength="25.5" lengthAdjust="spacingAndGlyphs">vs</text>
<text x="1169.5" y="1637.2" font-size="27.3" textLength="125.5" lengthAdjust="spacingAndGlyphs">ep-oHSCs</text>
<text x="1130.8" y="1988.5" font-size="28.3" textLength="237.0" lengthAdjust="spacingAndGlyphs" text-anchor="middle">Gene rank position</text>
<rect x="998.3" y="2030.8" width="292.5" height="18.4" fill="#e5e5e5" stroke="#2a2a2a" stroke-width="1.6" />
<line x1="994.3" y1="2040.0" x2="998.3" y2="2040.0" stroke="#000" stroke-width="1.3" />
<line x1="1175.6" y1="2031.8" x2="1175.6" y2="2048.2" stroke="#ea2a30" stroke-width="1.5" />
<line x1="1181.1" y1="2031.8" x2="1181.1" y2="2048.2" stroke="#ea2a30" stroke-width="1.5" />
<line x1="1195.0" y1="2031.8" x2="1195.0" y2="2048.2" stroke="#ea2a30" stroke-width="1.5" />
<line x1="1238.8" y1="2031.8" x2="1238.8" y2="2048.2" stroke="#ea2a30" stroke-width="1.5" />
<line x1="1277.3" y1="2031.8" x2="1277.3" y2="2048.2" stroke="#ea2a30" stroke-width="1.5" />
<text x="984.1" y="2049.4" font-size="28.3" textLength="59.7" lengthAdjust="spacingAndGlyphs" text-anchor="end">Gem</text>
<rect x="998.3" y="2058.2" width="292.5" height="18.4" fill="#e5e5e5" stroke="#2a2a2a" stroke-width="1.6" />
<line x1="994.3" y1="2067.4" x2="998.3" y2="2067.4" stroke="#000" stroke-width="1.3" />
<line x1="1169.7" y1="2059.2" x2="1169.7" y2="2075.6" stroke="#ea2a30" stroke-width="1.5" />
<line x1="1185.5" y1="2059.2" x2="1185.5" y2="2075.6" stroke="#ea2a30" stroke-width="1.5" />
<line x1="1203.3" y1="2059.2" x2="1203.3" y2="2075.6" stroke="#ea2a30" stroke-width="1.5" />
<line x1="1204.6" y1="2059.2" x2="1204.6" y2="2075.6" stroke="#ea2a30" stroke-width="1.5" />
<line x1="1219.9" y1="2059.2" x2="1219.9" y2="2075.6" stroke="#ea2a30" stroke-width="1.5" />
<text x="984.1" y="2074.2" font-size="28.3" textLength="55.2" lengthAdjust="spacingAndGlyphs" text-anchor="end">Selp</text>
<line x1="1048.3" y1="2076.6" x2="1048.3" y2="2081.1" stroke="#333" stroke-width="1.2" />
<text x="1047.3" y="2111.0" font-size="23.7" textLength="24.2" lengthAdjust="spacingAndGlyphs" text-anchor="middle">−2</text>
<line x1="1104.5" y1="2076.6" x2="1104.5" y2="2081.1" stroke="#333" stroke-width="1.2" />
<text x="1103.5" y="2111.0" font-size="23.7" textLength="24.2" lengthAdjust="spacingAndGlyphs" text-anchor="middle">−1</text>
<line x1="1160.4" y1="2076.6" x2="1160.4" y2="2081.1" stroke="#333" stroke-width="1.2" />
<text x="1160.4" y="2111.0" font-size="23.7" textLength="13.6" lengthAdjust="spacingAndGlyphs" text-anchor="middle">0</text>
<line x1="1216.3" y1="2076.6" x2="1216.3" y2="2081.1" stroke="#333" stroke-width="1.2" />
<text x="1216.3" y="2111.0" font-size="23.7" textLength="13.6" lengthAdjust="spacingAndGlyphs" text-anchor="middle">1</text>
<line x1="1272.4" y1="2076.6" x2="1272.4" y2="2081.1" stroke="#333" stroke-width="1.2" />
<text x="1272.4" y="2111.0" font-size="23.7" textLength="13.6" lengthAdjust="spacingAndGlyphs" text-anchor="middle">2</text>
<text x="1095.6" y="2144.3" font-size="27.8" textLength="37.0" lengthAdjust="spacingAndGlyphs">log</text><text x="1132.5" y="2153.4" font-size="18.9" textLength="10.5" lengthAdjust="spacingAndGlyphs">2</text><text x="1143.0" y="2144.3" font-size="27.8" textLength="55.4" lengthAdjust="spacingAndGlyphs">(FC)</text>
</g>
<g id="panel_h">
<text x="1394.0" y="1638.7" font-size="36" textLength="25.3" lengthAdjust="spacingAndGlyphs" font-weight="bold" stroke="#000" stroke-width="0.9">h</text>
<text x="1737.0" y="1670.2" font-size="28.3" textLength="332.2" lengthAdjust="spacingAndGlyphs">Intersection by top six hits</text>
<rect x="1397.5" y="1748.8" width="24.2" height="23.8" fill="#b0cde9" stroke="#8a8a8a" stroke-width="1.2" />
<text x="1435.0" y="1770.1" font-size="28.3" textLength="249.2" lengthAdjust="spacingAndGlyphs">B cells vs sp-oHSCs</text>
<rect x="1397.5" y="1795.5" width="24.2" height="23.8" fill="#faeab5" stroke="#8a8a8a" stroke-width="1.2" />
<text x="1437.5" y="1817.1" font-size="28.3" textLength="244.5" lengthAdjust="spacingAndGlyphs">T cells vs sp-oHSCs</text>
<rect x="1397.5" y="1842.2" width="24.2" height="23.8" fill="#d5d9d8" stroke="#8a8a8a" stroke-width="1.2" />
<text x="1437.0" y="1863.4" font-size="28.3" textLength="241.0" lengthAdjust="spacingAndGlyphs">B cells vs Mye cells</text>
<rect x="1397.5" y="1888.8" width="24.2" height="23.8" fill="#f2c9cc" stroke="#8a8a8a" stroke-width="1.2" />
<text x="1437.5" y="1910.4" font-size="28.3" textLength="238.5" lengthAdjust="spacingAndGlyphs">T cells vs Mye cells</text>
<ellipse cx="1853" cy="1846.25" rx="129.3" ry="79.5" transform="rotate(40.3 1853 1846.25)" fill="#94bbdd" fill-opacity="0.75" stroke="#3a3a3a" stroke-opacity="0.9" stroke-width="2.2"/>
<ellipse cx="1896.25" cy="1803.6" rx="129.3" ry="79.5" transform="rotate(40.3 1896.25 1803.6)" fill="#f3e29b" fill-opacity="0.75" stroke="#3a3a3a" stroke-opacity="0.9" stroke-width="2.2"/>
<ellipse cx="1907.5" cy="1804" rx="129.3" ry="79.5" transform="rotate(-40.3 1907.5 1804)" fill="#c8a0a8" fill-opacity="0.75" stroke="#3a3a3a" stroke-opacity="0.9" stroke-width="2.2"/>
<ellipse cx="1950.4" cy="1846" rx="129.3" ry="79.5" transform="rotate(-40.3 1950.4 1846)" fill="#efbcb8" fill-opacity="0.75" stroke="#3a3a3a" stroke-opacity="0.9" stroke-width="2.2"/>
<text x="1831.8" y="1732.8" font-size="25.5" textLength="13.9" lengthAdjust="spacingAndGlyphs" text-anchor="middle">3</text>
<text x="1967.5" y="1732.8" font-size="25.5" textLength="13.9" lengthAdjust="spacingAndGlyphs" text-anchor="middle">1</text>
<text x="1904.5" y="1753.5" font-size="25.5" textLength="13.9" lengthAdjust="spacingAndGlyphs" text-anchor="middle">0</text>
<text x="1807.5" y="1773.5" font-size="25.5" textLength="13.9" lengthAdjust="spacingAndGlyphs" text-anchor="middle">0</text>
<text x="2002.5" y="1774.0" font-size="25.5" textLength="13.9" lengthAdjust="spacingAndGlyphs" text-anchor="middle">1</text>
<text x="1846.2" y="1809.0" font-size="25.5" textLength="13.9" lengthAdjust="spacingAndGlyphs" text-anchor="middle">1</text>
<text x="1963.8" y="1808.5" font-size="25.5" textLength="13.9" lengthAdjust="spacingAndGlyphs" text-anchor="middle">0</text>
<text x="1773.0" y="1822.2" font-size="25.5" textLength="13.9" lengthAdjust="spacingAndGlyphs" text-anchor="middle">2</text>
<text x="2033.8" y="1822.2" font-size="25.5" textLength="13.9" lengthAdjust="spacingAndGlyphs" text-anchor="middle">3</text>
<text x="1907.0" y="1843.5" font-size="25.5" textLength="13.9" lengthAdjust="spacingAndGlyphs" text-anchor="middle">2</text>
<text x="1825.0" y="1871.8" font-size="25.5" textLength="13.9" lengthAdjust="spacingAndGlyphs" text-anchor="middle">1</text>
<text x="1988.5" y="1871.8" font-size="25.5" textLength="13.9" lengthAdjust="spacingAndGlyphs" text-anchor="middle">0</text>
<text x="1859.5" y="1891.8" font-size="25.5" textLength="13.9" lengthAdjust="spacingAndGlyphs" text-anchor="middle">0</text>
<text x="1949.5" y="1891.8" font-size="25.5" textLength="13.9" lengthAdjust="spacingAndGlyphs" text-anchor="middle">0</text>
<text x="1894.5" y="1926.8" font-size="25.5" textLength="13.9" lengthAdjust="spacingAndGlyphs" text-anchor="middle">0</text>
<line x1="1908.0" y1="1868.2" x2="1908.0" y2="1991.0" stroke="#44546a" stroke-width="2"/><path d="M1908.0 1998.8L1913.0 1987.8L1908.0 1990.8L1903.0 1987.8Z" fill="#44546a"/>
<text x="1905.6" y="2032.2" font-size="28.3" textLength="125.2" lengthAdjust="spacingAndGlyphs" text-anchor="middle">Clu, Cd38</text>
</g>
</svg>
</body></html>
